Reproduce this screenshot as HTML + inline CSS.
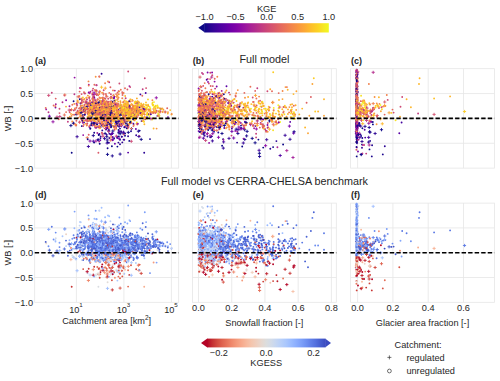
<!DOCTYPE html>
<html><head><meta charset="utf-8"><style>
html,body{margin:0;padding:0;background:#fff;width:500px;height:381px;overflow:hidden}
svg{display:block}
text{font-family:"Liberation Sans",sans-serif;fill:#262626}
.t{font-size:9.2px}
.ts{font-size:6.2px}
.b{font-size:9px;font-weight:bold}
.T{font-size:10.8px}
.g{stroke:#e6e6e6;stroke-width:0.8}
.f{fill:none;stroke:#e6e6e6;stroke-width:0.8}
.d{stroke:#000;stroke-width:1.6;stroke-dasharray:4.4 2.13}
</style></head><body>
<svg width="500" height="381" viewBox="0 0 500 381"><defs><linearGradient id="gp" x1="0" x2="1" y1="0" y2="0"><stop offset="0.000" stop-color="#0d0887"/><stop offset="0.042" stop-color="#260591"/><stop offset="0.083" stop-color="#3a049a"/><stop offset="0.125" stop-color="#4c02a1"/><stop offset="0.167" stop-color="#5c01a6"/><stop offset="0.208" stop-color="#6e00a8"/><stop offset="0.250" stop-color="#7e03a8"/><stop offset="0.292" stop-color="#8d0ba5"/><stop offset="0.333" stop-color="#9c179e"/><stop offset="0.375" stop-color="#aa2395"/><stop offset="0.417" stop-color="#b52f8c"/><stop offset="0.458" stop-color="#c13b82"/><stop offset="0.500" stop-color="#cc4778"/><stop offset="0.542" stop-color="#d5536f"/><stop offset="0.583" stop-color="#de5f65"/><stop offset="0.625" stop-color="#e66c5c"/><stop offset="0.667" stop-color="#ed7953"/><stop offset="0.708" stop-color="#f3874a"/><stop offset="0.750" stop-color="#f89540"/><stop offset="0.792" stop-color="#fca338"/><stop offset="0.833" stop-color="#fdb42f"/><stop offset="0.875" stop-color="#fdc527"/><stop offset="0.917" stop-color="#fbd524"/><stop offset="0.958" stop-color="#f6e826"/><stop offset="1.000" stop-color="#f0f921"/></linearGradient><linearGradient id="gc" x1="0" x2="1" y1="0" y2="0"><stop offset="0.000" stop-color="#b40426"/><stop offset="0.042" stop-color="#c32e31"/><stop offset="0.083" stop-color="#d1493f"/><stop offset="0.125" stop-color="#de614d"/><stop offset="0.167" stop-color="#e7745b"/><stop offset="0.208" stop-color="#ef886b"/><stop offset="0.250" stop-color="#f49a7b"/><stop offset="0.292" stop-color="#f7a98b"/><stop offset="0.333" stop-color="#f7b89c"/><stop offset="0.375" stop-color="#f4c5ad"/><stop offset="0.417" stop-color="#efcebd"/><stop offset="0.458" stop-color="#e7d7ce"/><stop offset="0.500" stop-color="#dcdddd"/><stop offset="0.542" stop-color="#d2dbe8"/><stop offset="0.583" stop-color="#c5d6f2"/><stop offset="0.625" stop-color="#b7cff9"/><stop offset="0.667" stop-color="#aac7fd"/><stop offset="0.708" stop-color="#9bbcff"/><stop offset="0.750" stop-color="#8caffe"/><stop offset="0.792" stop-color="#7ea1fa"/><stop offset="0.833" stop-color="#6f92f3"/><stop offset="0.875" stop-color="#6180e9"/><stop offset="0.917" stop-color="#5470de"/><stop offset="0.958" stop-color="#465ecf"/><stop offset="1.000" stop-color="#3b4cc0"/></linearGradient></defs>
<line x1="34.7" y1="93.55" x2="178.7" y2="93.55" class="g"/>
<line x1="34.7" y1="118.40" x2="178.7" y2="118.40" class="g"/>
<line x1="34.7" y1="143.25" x2="178.7" y2="143.25" class="g"/>
<line x1="76.40" y1="68.7" x2="76.40" y2="168.1" class="g"/>
<line x1="123.90" y1="68.7" x2="123.90" y2="168.1" class="g"/>
<line x1="171.40" y1="68.7" x2="171.40" y2="168.1" class="g"/>
<rect x="34.7" y="68.7" width="144.00" height="99.40" class="f"/>
<line x1="192.4" y1="93.55" x2="336.3" y2="93.55" class="g"/>
<line x1="192.4" y1="118.40" x2="336.3" y2="118.40" class="g"/>
<line x1="192.4" y1="143.25" x2="336.3" y2="143.25" class="g"/>
<line x1="198.50" y1="68.7" x2="198.50" y2="168.1" class="g"/>
<line x1="231.72" y1="68.7" x2="231.72" y2="168.1" class="g"/>
<line x1="264.95" y1="68.7" x2="264.95" y2="168.1" class="g"/>
<line x1="298.17" y1="68.7" x2="298.17" y2="168.1" class="g"/>
<line x1="331.40" y1="68.7" x2="331.40" y2="168.1" class="g"/>
<rect x="192.4" y="68.7" width="143.90" height="99.40" class="f"/>
<line x1="350.6" y1="93.55" x2="494.4" y2="93.55" class="g"/>
<line x1="350.6" y1="118.40" x2="494.4" y2="118.40" class="g"/>
<line x1="350.6" y1="143.25" x2="494.4" y2="143.25" class="g"/>
<line x1="357.60" y1="68.7" x2="357.60" y2="168.1" class="g"/>
<line x1="392.90" y1="68.7" x2="392.90" y2="168.1" class="g"/>
<line x1="428.20" y1="68.7" x2="428.20" y2="168.1" class="g"/>
<line x1="463.50" y1="68.7" x2="463.50" y2="168.1" class="g"/>
<rect x="350.6" y="68.7" width="143.80" height="99.40" class="f"/>
<line x1="34.7" y1="227.90" x2="178.7" y2="227.90" class="g"/>
<line x1="34.7" y1="252.70" x2="178.7" y2="252.70" class="g"/>
<line x1="34.7" y1="277.50" x2="178.7" y2="277.50" class="g"/>
<line x1="76.40" y1="203.1" x2="76.40" y2="302.3" class="g"/>
<line x1="123.90" y1="203.1" x2="123.90" y2="302.3" class="g"/>
<line x1="171.40" y1="203.1" x2="171.40" y2="302.3" class="g"/>
<rect x="34.7" y="203.1" width="144.00" height="99.20" class="f"/>
<line x1="192.4" y1="227.90" x2="336.3" y2="227.90" class="g"/>
<line x1="192.4" y1="252.70" x2="336.3" y2="252.70" class="g"/>
<line x1="192.4" y1="277.50" x2="336.3" y2="277.50" class="g"/>
<line x1="198.50" y1="203.1" x2="198.50" y2="302.3" class="g"/>
<line x1="231.72" y1="203.1" x2="231.72" y2="302.3" class="g"/>
<line x1="264.95" y1="203.1" x2="264.95" y2="302.3" class="g"/>
<line x1="298.17" y1="203.1" x2="298.17" y2="302.3" class="g"/>
<line x1="331.40" y1="203.1" x2="331.40" y2="302.3" class="g"/>
<rect x="192.4" y="203.1" width="143.90" height="99.20" class="f"/>
<line x1="350.6" y1="227.90" x2="494.4" y2="227.90" class="g"/>
<line x1="350.6" y1="252.70" x2="494.4" y2="252.70" class="g"/>
<line x1="350.6" y1="277.50" x2="494.4" y2="277.50" class="g"/>
<line x1="357.60" y1="203.1" x2="357.60" y2="302.3" class="g"/>
<line x1="392.90" y1="203.1" x2="392.90" y2="302.3" class="g"/>
<line x1="428.20" y1="203.1" x2="428.20" y2="302.3" class="g"/>
<line x1="463.50" y1="203.1" x2="463.50" y2="302.3" class="g"/>
<rect x="350.6" y="203.1" width="143.80" height="99.20" class="f"/>
<path d="M109.4 120.0h3.2M111.0 118.4v3.2M198.2 122.2h3.2M199.8 120.6v3.2M202.1 117.4h3.2M203.7 115.8v3.2M271.7 124.3h3.2M273.3 122.7v3.2M198.4 77.1h3.2M200.0 75.5v3.2" stroke="#de6164" stroke-width="0.9" fill="none"/>
<path d="M154.7 231.8h3.2M156.3 230.2v3.2M89.3 254.5h3.2M90.9 252.9v3.2M200.0 244.4h3.2M201.6 242.8v3.2M355.1 241.0h3.2M356.7 239.4v3.2" stroke="#7396f5" stroke-width="0.9" fill="none"/>
<path d="M94.9 242.3h0M106.8 249.7h0M120.2 238.1h0M116.2 242.1h0M131.3 262.4h0M110.4 253.9h0M87.7 273.3h0M210.1 239.3h0M210.3 245.9h0M204.3 237.7h0M201.3 236.7h0M209.9 239.0h0M198.9 253.2h0M220.0 235.5h0M213.7 231.8h0M229.0 250.8h0M238.5 242.8h0M209.0 246.8h0M225.7 256.6h0M226.9 257.2h0M223.2 233.1h0M202.0 244.5h0M199.0 232.5h0M213.4 249.6h0M223.9 257.4h0M222.8 247.2h0M219.7 244.0h0M216.3 229.8h0M224.7 232.9h0M206.6 226.1h0M198.5 247.0h0M212.7 238.4h0M210.2 260.2h0M210.0 254.0h0M356.8 255.1h0M356.6 250.3h0M356.8 254.8h0M356.8 243.0h0M356.5 235.7h0M356.9 255.3h0M357.1 246.4h0M356.8 238.5h0M356.6 216.0h0M356.7 233.4h0M356.6 239.4h0M356.8 224.5h0M357.6 238.3h0M356.8 229.8h0M357.1 209.0h0" stroke="#c4d5f3" stroke-width="1.9" stroke-linecap="round" fill="none"/>
<path d="M94.9 108.3h0M107.9 111.5h0M92.3 93.5h0M80.1 113.1h0M88.7 108.8h0M105.1 125.2h0M99.5 97.5h0M95.9 105.0h0M90.4 104.1h0M95.1 113.9h0M90.2 100.7h0M89.2 120.6h0M105.0 110.5h0M94.6 114.9h0M83.9 111.9h0M96.5 110.4h0M71.5 115.9h0M89.5 113.1h0M136.1 115.6h0M100.8 118.4h0M141.9 112.2h0M130.2 108.7h0M134.9 108.0h0M114.6 100.6h0M138.3 114.6h0M144.7 114.6h0M111.1 97.7h0M88.5 81.4h0M83.3 120.7h0M120.3 123.9h0M208.6 121.6h0M201.3 102.7h0M210.1 93.1h0M203.7 102.1h0M214.9 93.6h0M211.5 112.1h0M204.2 99.2h0M200.6 106.6h0M214.3 111.3h0M203.9 107.8h0M215.7 116.8h0M228.3 106.1h0M202.9 96.4h0M204.9 114.4h0M200.7 116.4h0M294.2 113.7h0M246.9 111.9h0M272.8 113.3h0M214.5 130.2h0M200.9 124.0h0M201.5 128.4h0M213.7 125.2h0M216.2 123.3h0M259.1 96.6h0M356.8 129.6h0M356.6 112.6h0M356.5 121.3h0M356.4 114.5h0M356.8 120.1h0M356.7 99.2h0M356.4 101.1h0M358.0 99.9h0M372.5 109.5h0" stroke="#f48948" stroke-width="1.9" stroke-linecap="round" fill="none"/>
<path d="M96.5 85.2h0M114.4 96.6h0M216.3 95.8h0M207.4 118.0h0M267.5 125.0h0M232.3 126.8h0M240.8 122.9h0M356.7 129.3h0M356.8 138.2h0M356.6 134.2h0" stroke="#8004a8" stroke-width="1.9" stroke-linecap="round" fill="none"/>
<path d="M208.1 259.4h3.2M209.7 257.8v3.2" stroke="#f59c7d" stroke-width="0.9" fill="none"/>
<path d="M80.4 107.6h0M79.6 122.3h0M67.9 121.8h0M265.8 130.6h0M207.7 78.9h0M257.3 88.2h0M356.6 139.2h0M356.6 116.3h0M356.8 136.3h0M356.6 102.8h0M357.2 116.1h0M357.5 105.0h0M379.0 108.1h0M366.2 153.6h0" stroke="#c23c81" stroke-width="1.9" stroke-linecap="round" fill="none"/>
<path d="M120.1 255.0h3.2M121.7 253.4v3.2M222.0 275.9h3.2M223.6 274.3v3.2" stroke="#ee8669" stroke-width="0.9" fill="none"/>
<path d="M113.0 103.5h0M101.3 123.4h0M88.4 112.5h0M88.2 106.0h0M86.6 102.1h0M109.2 82.2h0M120.2 125.5h0M202.9 116.3h0M266.6 131.0h0M202.0 72.9h0M356.6 111.8h0M356.7 120.6h0M357.0 118.3h0M356.4 126.2h0M357.0 109.3h0M356.5 122.1h0M372.8 110.3h0" stroke="#bb3488" stroke-width="1.9" stroke-linecap="round" fill="none"/>
<path d="M216.1 256.2h0M200.6 248.4h0M201.5 263.0h0M357.3 264.5h0M356.5 257.6h0M356.8 263.6h0M356.6 267.2h0M356.7 263.3h0M357.2 272.3h0M356.8 255.8h0M356.7 264.8h0M358.2 248.1h0" stroke="#f3c7b1" stroke-width="1.9" stroke-linecap="round" fill="none"/>
<path d="M103.8 234.8h0M81.1 237.0h0M98.8 237.8h0M109.0 247.2h0M101.0 249.5h0M93.0 231.1h0M119.1 250.5h0M96.9 247.4h0M85.7 235.1h0M95.8 237.2h0M83.9 233.8h0M85.1 243.6h0M88.2 240.0h0M107.2 242.4h0M102.5 247.7h0M104.1 249.0h0M89.7 246.6h0M80.8 242.2h0M80.4 241.6h0M105.1 241.7h0M101.0 257.8h0M96.0 246.3h0M98.1 248.4h0M92.7 252.4h0M126.7 241.5h0M83.3 241.4h0M90.4 225.7h0M137.4 251.3h0M150.8 248.2h0M127.4 245.8h0M145.2 251.3h0M103.5 241.0h0M150.1 245.0h0M145.0 245.6h0M135.3 235.5h0M121.2 242.0h0M141.8 250.4h0M125.9 244.2h0M111.9 248.4h0M136.1 242.9h0M108.1 238.1h0M143.5 238.5h0M134.8 249.3h0M154.8 240.9h0M115.8 242.6h0M132.7 248.5h0M141.1 237.5h0M155.8 239.7h0M135.6 243.7h0M153.3 252.1h0M139.2 245.6h0M99.4 228.0h0M94.3 231.5h0M76.7 247.4h0M201.5 239.7h0M211.4 236.5h0M211.3 255.4h0M203.0 244.5h0M220.2 244.9h0M240.1 240.0h0M227.5 254.9h0M223.5 240.8h0M233.8 241.8h0M289.1 246.4h0M270.3 249.1h0M282.3 243.2h0M233.0 237.2h0M220.6 247.8h0M228.2 252.1h0M270.2 251.2h0M219.6 244.4h0M261.6 244.7h0M264.1 242.8h0M272.6 249.2h0M223.1 247.1h0M236.7 240.9h0M225.7 247.4h0M237.5 246.3h0M262.1 245.6h0M287.9 248.0h0M231.0 250.2h0M224.6 237.4h0M313.8 212.2h0M308.0 267.2h0M279.0 233.9h0M251.5 257.7h0M277.3 257.6h0M212.8 220.1h0M363.1 242.3h0M359.9 240.0h0M358.0 237.9h0" stroke="#4a63d3" stroke-width="1.9" stroke-linecap="round" fill="none"/>
<path d="M90.6 110.3h0M100.6 111.9h0M109.8 110.8h0M116.1 103.2h0M96.7 119.2h0M110.2 104.1h0M101.0 108.4h0M96.7 103.6h0M74.9 108.5h0M93.0 100.7h0M101.9 108.4h0M133.3 109.2h0M136.3 111.3h0M127.7 123.9h0M129.7 114.5h0M136.8 112.5h0M122.6 117.7h0M127.6 111.1h0M158.7 114.2h0M156.7 112.0h0M131.1 111.3h0M128.9 118.4h0M91.9 119.0h0M202.4 110.5h0M219.4 110.8h0M210.0 109.7h0M209.9 116.1h0M206.9 120.5h0M222.5 110.8h0M212.4 109.3h0M198.5 99.0h0M215.8 114.1h0M237.6 104.7h0M220.2 110.9h0M223.2 99.1h0M205.5 97.8h0M215.7 124.0h0M201.8 98.7h0M202.4 105.8h0M204.3 95.3h0M282.3 115.7h0M200.4 131.7h0M268.1 127.2h0M232.8 127.1h0M217.3 76.7h0M282.6 91.0h0M356.5 115.9h0M356.6 103.6h0M356.7 131.7h0M357.3 112.0h0M356.7 83.1h0M385.3 106.0h0M364.8 118.2h0" stroke="#f48948" stroke-width="1.9" stroke-linecap="round" fill="none"/>
<path d="M259.2 118.9h3.2M260.8 117.3v3.2M230.3 131.4h3.2M231.9 129.8v3.2" stroke="#6c00a8" stroke-width="0.9" fill="none"/>
<path d="M119.8 112.7h3.2M121.4 111.1v3.2M126.2 104.7h3.2M127.8 103.1v3.2M105.2 96.6h3.2M106.8 95.0v3.2M109.1 140.1h3.2M110.7 138.5v3.2M62.8 115.0h3.2M64.4 113.4v3.2M235.7 120.4h3.2M237.3 118.8v3.2M355.1 107.0h3.2M356.7 105.4v3.2" stroke="#e97158" stroke-width="0.9" fill="none"/>
<path d="M204.3 102.9h3.2M205.9 101.3v3.2M361.2 101.5h3.2M362.8 99.9v3.2" stroke="#f1814d" stroke-width="0.9" fill="none"/>
<path d="M80.8 239.9h0M84.5 233.0h0M89.8 235.9h0M97.2 251.5h0M101.2 245.9h0M95.8 238.2h0M88.7 242.8h0M92.7 231.7h0M92.0 242.7h0M97.3 251.9h0M101.8 245.0h0M86.0 253.1h0M84.8 248.8h0M118.0 238.7h0M106.7 238.3h0M95.1 247.9h0M94.3 244.4h0M113.2 243.3h0M103.7 246.2h0M92.0 250.6h0M89.7 259.5h0M99.8 253.0h0M92.2 249.7h0M113.1 245.3h0M100.1 248.8h0M89.8 249.7h0M113.8 241.4h0M109.8 249.0h0M101.3 242.2h0M67.8 251.6h0M91.5 252.0h0M118.5 240.3h0M94.0 244.2h0M102.6 242.5h0M76.4 241.7h0M98.5 245.8h0M91.7 250.6h0M91.4 250.8h0M108.8 242.0h0M130.1 251.8h0M115.6 240.1h0M127.0 245.0h0M143.2 243.8h0M129.0 254.5h0M133.4 248.2h0M112.6 237.8h0M112.0 243.2h0M99.6 234.5h0M123.5 241.7h0M136.6 243.0h0M137.3 247.5h0M142.9 240.9h0M120.4 244.2h0M129.6 239.7h0M138.7 237.3h0M145.7 227.0h0M118.7 251.0h0M104.7 242.2h0M127.2 239.9h0M105.7 242.6h0M161.5 243.1h0M134.8 236.2h0M120.3 239.3h0M123.0 247.9h0M125.7 250.1h0M110.5 246.5h0M138.3 248.6h0M121.5 238.9h0M159.1 244.9h0M131.6 244.7h0M150.5 246.5h0M133.2 240.1h0M136.5 242.8h0M141.7 247.6h0M128.0 245.6h0M134.8 241.4h0M127.0 251.9h0M137.9 257.7h0M133.4 260.1h0M67.9 255.8h0M73.5 257.3h0M202.5 247.8h0M204.8 252.0h0M201.6 233.0h0M199.0 254.0h0M228.8 248.0h0M242.4 245.1h0M242.0 236.1h0M219.6 238.9h0M253.4 246.9h0M253.0 235.9h0M229.6 239.5h0M273.1 250.3h0M236.5 235.0h0M219.9 241.6h0M233.6 240.6h0M246.0 243.9h0M253.6 251.3h0M244.8 259.6h0M235.8 250.4h0M276.0 247.6h0M274.9 250.6h0M221.8 236.2h0M289.4 241.1h0M222.5 244.8h0M213.4 254.6h0M234.7 258.1h0M356.8 234.5h0M356.8 252.7h0M356.6 211.7h0M356.9 217.3h0M356.5 224.9h0M364.5 252.0h0M368.9 244.8h0M380.5 239.1h0M383.0 240.6h0M358.7 237.5h0" stroke="#516ddb" stroke-width="1.9" stroke-linecap="round" fill="none"/>
<path d="M112.6 111.1h0M101.8 110.9h0M107.9 110.8h0M111.0 114.9h0M84.8 111.2h0M113.1 107.0h0M66.0 106.6h0M93.2 102.3h0M103.6 104.0h0M104.0 104.9h0M99.0 119.9h0M69.8 116.6h0M117.7 111.5h0M108.4 106.2h0M141.6 106.1h0M96.4 110.3h0M129.4 105.8h0M109.1 116.2h0M115.9 121.7h0M141.3 109.3h0M108.1 104.1h0M128.4 107.1h0M127.4 118.7h0M160.3 108.7h0M133.9 124.9h0M85.9 123.7h0M199.1 115.9h0M201.5 106.2h0M202.0 107.0h0M202.0 112.3h0M211.3 100.7h0M222.9 116.0h0M203.0 111.7h0M200.9 99.4h0M216.6 107.8h0M198.9 97.4h0M201.1 118.7h0M257.7 116.0h0M229.0 106.4h0M245.4 115.3h0M230.9 104.1h0M258.4 109.9h0M227.3 124.8h0M294.9 115.9h0M219.7 109.1h0M218.2 127.3h0M263.4 119.8h0M229.2 126.4h0M227.5 124.8h0M282.5 99.1h0M356.4 114.6h0M356.9 105.4h0M356.7 119.8h0M356.5 85.8h0M356.7 95.6h0M380.9 111.2h0M357.0 116.3h0" stroke="#fca537" stroke-width="1.9" stroke-linecap="round" fill="none"/>
<path d="M243.1 110.4h3.2M244.7 108.8v3.2M359.5 110.1h3.2M361.1 108.5v3.2" stroke="#f0f921" stroke-width="0.9" fill="none"/>
<path d="M107.9 121.4h0M107.8 118.9h0M105.1 116.3h0M91.7 107.5h0M100.2 109.4h0M132.2 114.3h0M72.9 114.6h0M97.9 103.6h0M99.8 107.1h0M96.1 102.9h0M89.9 112.9h0M100.3 111.4h0M80.1 116.7h0M108.4 103.1h0M114.5 104.0h0M96.2 107.2h0M91.7 116.6h0M109.6 117.0h0M123.5 114.1h0M148.1 114.5h0M98.4 102.6h0M102.6 100.7h0M110.4 123.5h0M99.6 100.5h0M152.4 100.2h0M123.7 101.8h0M104.7 108.2h0M120.2 120.6h0M133.1 107.4h0M128.6 125.8h0M156.6 128.6h0M134.6 120.4h0M108.2 118.1h0M207.0 102.2h0M211.1 105.7h0M218.2 115.6h0M232.6 111.3h0M199.6 89.4h0M236.6 114.1h0M208.9 100.9h0M213.4 115.6h0M199.4 100.6h0M222.3 101.6h0M213.2 107.1h0M212.4 101.5h0M223.3 114.5h0M227.1 113.4h0M261.6 109.8h0M225.0 119.3h0M200.9 132.8h0M267.7 131.7h0M245.0 97.7h0M356.8 110.4h0M356.6 107.1h0M356.4 111.5h0M356.8 107.2h0M364.2 100.5h0M374.6 97.0h0" stroke="#f79342" stroke-width="1.9" stroke-linecap="round" fill="none"/>
<path d="M124.3 239.1h3.2M125.9 237.5v3.2M124.4 244.0h3.2M126.0 242.4v3.2M111.4 249.6h3.2M113.0 248.0v3.2M221.7 243.7h3.2M223.3 242.1v3.2M256.3 250.1h3.2M257.9 248.5v3.2M223.5 247.4h3.2M225.1 245.8v3.2M365.6 245.2h3.2M367.2 243.6v3.2M363.8 247.8h3.2M365.4 246.2v3.2M369.3 245.7h3.2M370.9 244.1v3.2M375.6 249.5h3.2M377.2 247.9v3.2" stroke="#4a63d3" stroke-width="0.9" fill="none"/>
<path d="M87.0 99.5h0M96.8 110.1h0M48.5 112.2h0M215.1 121.4h0M223.7 106.4h0M204.6 95.1h0M234.3 123.6h0M201.3 86.9h0M356.5 112.4h0M356.6 132.7h0M362.4 153.5h0" stroke="#bb3488" stroke-width="1.9" stroke-linecap="round" fill="none"/>
<path d="M98.8 107.5h0M91.8 115.4h0M119.7 111.4h0M100.9 113.3h0M116.5 107.8h0M104.7 107.4h0M92.2 115.7h0M96.2 106.3h0M106.9 113.5h0M96.5 105.2h0M100.1 107.5h0M108.1 111.6h0M96.3 111.7h0M94.1 111.8h0M130.2 99.4h0M132.6 108.3h0M118.6 116.0h0M118.6 109.4h0M128.9 124.2h0M129.2 114.3h0M125.2 96.0h0M137.4 112.0h0M107.4 116.1h0M118.2 101.6h0M140.0 110.7h0M137.0 107.4h0M111.9 114.4h0M138.4 110.2h0M116.8 114.3h0M137.9 108.6h0M123.0 113.9h0M125.7 116.1h0M130.7 99.5h0M144.0 121.7h0M167.8 113.5h0M131.9 118.6h0M134.9 109.5h0M165.4 112.3h0M140.4 111.2h0M148.6 114.3h0M152.0 112.6h0M204.7 106.4h0M234.8 105.5h0M202.1 114.9h0M205.0 101.5h0M205.0 106.0h0M222.6 118.2h0M250.9 111.8h0M223.1 116.0h0M244.6 105.5h0M228.9 108.1h0M219.6 113.7h0M228.8 108.2h0M245.3 107.6h0M221.8 102.2h0M291.3 111.6h0M293.5 94.1h0M318.1 111.5h0M356.5 101.1h0M373.4 115.2h0M378.9 97.3h0M410.9 107.2h0M406.6 99.3h0" stroke="#feb82c" stroke-width="1.9" stroke-linecap="round" fill="none"/>
<path d="M119.9 125.7h3.2M121.5 124.1v3.2" stroke="#8004a8" stroke-width="0.9" fill="none"/>
<path d="M98.1 260.3h0M121.0 265.3h0M106.7 268.8h0M213.8 228.4h0M222.5 244.8h0M207.4 241.3h0M224.5 243.1h0M199.5 255.5h0M207.3 250.1h0M200.4 265.7h0M211.9 252.1h0M241.1 262.0h0M356.7 261.1h0M357.2 258.2h0M356.8 272.2h0M356.5 266.2h0M356.5 260.4h0M356.6 268.2h0M357.7 245.8h0M372.9 258.4h0" stroke="#de614d" stroke-width="1.9" stroke-linecap="round" fill="none"/>
<path d="M93.4 240.6h0M90.4 238.1h0M85.4 247.0h0M87.4 241.1h0M131.5 242.6h0M120.3 242.3h0M142.3 243.7h0M81.8 260.1h0M72.2 255.4h0M200.9 237.5h0M201.3 250.1h0M216.4 240.3h0M214.8 242.9h0M200.3 244.2h0M213.7 248.9h0M213.7 252.7h0M220.4 262.8h0M219.4 254.3h0M199.1 255.4h0M202.9 264.7h0M207.5 258.3h0M278.8 256.3h0M243.3 259.5h0M203.0 208.0h0M356.6 238.6h0M357.3 224.7h0M356.5 249.9h0M357.2 253.5h0M357.1 253.5h0M356.7 248.7h0M356.7 265.7h0M356.5 265.6h0M357.1 232.8h0M356.7 253.8h0M356.5 230.3h0M356.6 222.5h0M356.8 228.9h0M356.7 218.9h0M356.9 226.9h0" stroke="#d3dbe7" stroke-width="1.9" stroke-linecap="round" fill="none"/>
<path d="M107.5 248.0h0M109.6 241.5h0M129.8 235.2h0M156.0 245.5h0M130.0 256.5h0M121.6 258.1h0M222.3 247.1h0M209.9 250.1h0M209.0 246.9h0M208.0 239.9h0M200.9 233.4h0M201.0 231.5h0M198.6 251.0h0M203.6 254.4h0M202.0 206.9h0M356.5 254.8h0M356.6 241.1h0M356.6 244.4h0M356.7 272.5h0M356.4 259.3h0M356.7 223.4h0M356.5 236.3h0M357.5 253.1h0M356.8 252.0h0M356.6 223.0h0M356.6 204.9h0M356.6 216.6h0M356.5 209.8h0M356.4 223.0h0M356.4 232.4h0" stroke="#d3dbe7" stroke-width="1.9" stroke-linecap="round" fill="none"/>
<path d="M262.4 262.6h3.2M264.0 261.0v3.2M244.7 257.3h3.2M246.3 255.7v3.2M221.7 282.1h3.2M223.3 280.5v3.2M287.8 260.1h3.2M289.4 258.5v3.2M367.0 276.1h3.2M368.6 274.5v3.2" stroke="#d75445" stroke-width="0.9" fill="none"/>
<path d="M77.8 244.7h0M101.8 244.9h0M81.7 246.0h0M88.9 246.4h0M92.6 240.6h0M105.0 240.7h0M88.4 246.5h0M140.4 247.3h0M113.1 241.0h0M120.8 247.7h0M119.7 245.4h0M96.1 236.9h0M104.0 249.8h0M88.4 251.0h0M99.0 253.9h0M96.2 242.7h0M94.8 252.7h0M123.2 250.9h0M135.8 239.9h0M148.0 233.4h0M130.1 240.8h0M145.7 238.9h0M116.5 242.4h0M123.1 251.3h0M159.0 249.8h0M109.8 241.8h0M138.7 248.3h0M132.7 248.8h0M123.6 227.0h0M112.9 241.7h0M108.0 242.1h0M148.9 243.6h0M137.6 238.8h0M135.3 250.1h0M89.3 260.4h0M244.5 244.0h0M262.0 255.3h0M237.3 247.6h0M259.1 237.5h0M226.2 248.5h0M243.9 238.5h0M276.1 254.9h0M245.8 241.7h0M228.3 245.4h0M228.5 253.4h0M290.9 244.3h0M258.7 235.1h0M363.2 244.7h0M377.3 239.5h0M375.5 241.5h0M374.1 243.2h0M366.8 245.0h0M391.4 246.9h0" stroke="#3b4cc0" stroke-width="1.9" stroke-linecap="round" fill="none"/>
<path d="M131.1 121.6h0M89.5 127.1h0M94.6 119.7h0M209.8 119.6h0M246.1 119.1h0M265.0 129.1h0M356.9 138.2h0M356.7 84.5h0M358.0 151.5h0" stroke="#7701a8" stroke-width="1.9" stroke-linecap="round" fill="none"/>
<path d="M109.1 97.8h3.2M110.7 96.2v3.2M238.1 105.0h3.2M239.7 103.4v3.2M364.4 112.5h3.2M366.0 110.9v3.2" stroke="#d45270" stroke-width="0.9" fill="none"/>
<path d="M94.9 105.3h0M96.0 117.4h0M98.2 111.9h0M107.2 102.1h0M105.7 105.8h0M98.2 118.6h0M95.9 111.8h0M89.0 110.5h0M82.4 112.3h0M85.5 102.9h0M87.9 104.9h0M91.2 104.4h0M124.9 120.7h0M112.3 98.1h0M99.2 76.4h0M210.0 100.1h0M212.1 114.0h0M204.4 108.6h0M201.7 119.2h0M212.2 107.0h0M210.4 120.1h0M262.8 127.6h0M201.7 133.9h0M356.9 116.1h0M356.5 89.0h0M357.7 86.6h0M356.5 78.3h0M356.4 77.5h0M400.5 106.8h0M381.5 107.2h0M387.7 99.9h0" stroke="#ce4b75" stroke-width="1.9" stroke-linecap="round" fill="none"/>
<path d="M129.4 110.1h3.2M131.0 108.5v3.2M201.0 109.4h3.2M202.6 107.8v3.2M209.1 124.5h3.2M210.7 122.9v3.2M219.7 95.9h3.2M221.3 94.3v3.2M368.9 110.2h3.2M370.5 108.6v3.2M371.6 103.6h3.2M373.2 102.0v3.2" stroke="#f1814d" stroke-width="0.9" fill="none"/>
<path d="M114.4 114.1h3.2M116.0 112.5v3.2M111.4 106.7h3.2M113.0 105.1v3.2M113.4 115.4h3.2M115.0 113.8v3.2" stroke="#fad824" stroke-width="0.9" fill="none"/>
<path d="M105.9 253.1h3.2M107.5 251.5v3.2M120.1 243.9h3.2M121.7 242.3v3.2M78.0 256.2h3.2M79.6 254.6v3.2M63.2 228.9h3.2M64.8 227.3v3.2M197.7 258.4h3.2M199.3 256.8v3.2M232.0 246.8h3.2M233.6 245.2v3.2M359.5 244.1h3.2M361.1 242.5v3.2M361.7 236.9h3.2M363.3 235.3v3.2" stroke="#6282ea" stroke-width="0.9" fill="none"/>
<path d="M90.3 258.4h3.2M91.9 256.8v3.2M105.2 270.7h3.2M106.8 269.1v3.2" stroke="#e97a5f" stroke-width="0.9" fill="none"/>
<path d="M96.8 110.6h0M113.9 113.8h0M88.9 112.4h0M92.6 106.6h0M80.8 113.4h0M83.5 108.7h0M105.6 106.0h0M82.1 102.8h0M115.4 114.0h0M98.5 111.8h0M108.9 111.8h0M142.1 115.5h0M137.3 113.5h0M120.8 111.4h0M111.0 106.2h0M123.2 106.0h0M150.4 110.4h0M135.0 108.8h0M130.8 117.1h0M99.4 94.0h0M110.9 97.0h0M95.7 76.7h0M118.8 94.2h0M113.7 127.2h0M221.8 95.7h0M203.9 110.4h0M199.8 111.4h0M210.1 110.5h0M205.7 98.8h0M212.9 110.6h0M200.1 117.7h0M213.6 100.7h0M200.3 110.2h0M208.9 112.6h0M198.8 102.4h0M205.5 123.4h0M226.7 127.4h0M242.0 102.1h0M262.0 121.3h0M247.6 105.4h0M255.3 110.4h0M295.2 114.4h0M252.2 114.9h0M240.9 113.6h0M225.7 113.4h0M230.6 117.4h0M243.2 115.5h0M198.6 122.7h0M218.1 122.0h0M273.7 125.6h0M238.2 121.6h0M237.8 90.1h0M356.6 104.6h0M357.0 111.0h0M356.5 113.1h0M356.7 110.0h0M356.6 113.9h0M357.1 99.1h0M357.1 116.9h0M357.6 104.3h0M356.5 77.1h0M360.4 116.9h0M358.3 111.8h0M358.0 103.9h0" stroke="#f79342" stroke-width="1.9" stroke-linecap="round" fill="none"/>
<path d="M143.2 247.7h0M106.5 258.7h0M108.9 263.9h0M206.1 250.3h0M357.2 256.3h0M357.2 272.4h0M356.4 261.4h0M356.7 267.9h0" stroke="#e6d7cf" stroke-width="1.9" stroke-linecap="round" fill="none"/>
<path d="M199.1 220.6h3.2M200.7 219.0v3.2M271.0 236.6h3.2M272.6 235.0v3.2M432.5 248.4h3.2M434.1 246.8v3.2" stroke="#f7af91" stroke-width="0.9" fill="none"/>
<path d="M87.3 103.3h3.2M88.9 101.7v3.2M100.7 111.7h3.2M102.3 110.1v3.2M216.5 101.6h3.2M218.1 100.0v3.2M214.2 123.3h3.2M215.8 121.7v3.2M366.2 116.7h3.2M367.8 115.1v3.2" stroke="#f79342" stroke-width="0.9" fill="none"/>
<path d="M101.9 94.0h3.2M103.5 92.4v3.2M76.5 96.8h3.2M78.1 95.2v3.2M110.6 119.3h3.2M112.2 117.7v3.2M197.5 117.8h3.2M199.1 116.2v3.2M211.3 99.7h3.2M212.9 98.1v3.2M217.3 114.7h3.2M218.9 113.1v3.2M213.0 124.3h3.2M214.6 122.7v3.2M355.3 120.2h3.2M356.9 118.6v3.2" stroke="#e4695e" stroke-width="0.9" fill="none"/>
<path d="M141.1 106.7h3.2M142.7 105.1v3.2M355.6 78.0h3.2M357.2 76.4v3.2" stroke="#5801a4" stroke-width="0.9" fill="none"/>
<path d="M102.6 245.9h3.2M104.2 244.3v3.2M100.1 244.8h3.2M101.7 243.2v3.2M121.1 255.4h3.2M122.7 253.8v3.2M200.1 253.9h3.2M201.7 252.3v3.2M203.2 240.9h3.2M204.8 239.3v3.2M255.7 254.9h3.2M257.3 253.3v3.2M253.9 229.4h3.2M255.5 227.8v3.2M355.0 248.4h3.2M356.6 246.8v3.2" stroke="#6b8df0" stroke-width="0.9" fill="none"/>
<path d="M91.7 141.2h3.2M93.3 139.6v3.2M278.6 155.5h3.2M280.2 153.9v3.2" stroke="#4c02a1" stroke-width="0.9" fill="none"/>
<path d="M114.9 107.4h0M112.5 98.6h0M130.5 107.7h0M157.6 107.2h0M123.3 117.2h0M122.8 112.6h0M134.8 116.3h0M122.3 108.7h0M135.6 109.7h0M202.6 103.8h0M225.2 110.2h0M206.8 109.1h0M220.0 110.8h0M233.8 107.8h0M262.6 113.1h0M243.4 104.1h0M211.9 118.1h0M365.8 109.3h0M359.6 115.0h0M359.7 107.4h0" stroke="#f7e225" stroke-width="1.9" stroke-linecap="round" fill="none"/>
<path d="M98.2 101.9h3.2M99.8 100.3v3.2M122.0 133.1h3.2M123.6 131.5v3.2M105.2 136.7h3.2M106.8 135.1v3.2M107.1 131.0h3.2M108.7 129.4v3.2M103.5 133.5h3.2M105.1 131.9v3.2M197.7 126.0h3.2M199.3 124.4v3.2M250.6 138.4h3.2M252.2 136.8v3.2M267.9 120.9h3.2M269.5 119.3v3.2M257.8 153.3h3.2M259.4 151.7v3.2M253.5 142.8h3.2M255.1 141.2v3.2M354.9 133.5h3.2M356.5 131.9v3.2" stroke="#0d0887" stroke-width="0.9" fill="none"/>
<path d="M109.1 274.1h3.2M110.7 272.5v3.2" stroke="#d9dce1" stroke-width="0.9" fill="none"/>
<path d="M100.7 270.4h0M99.4 267.9h0M203.3 240.2h0M378.9 231.3h0" stroke="#f29274" stroke-width="1.9" stroke-linecap="round" fill="none"/>
<path d="M110.9 255.1h0M153.6 262.5h0M209.1 276.9h0M356.6 257.5h0M356.4 266.8h0M373.7 241.7h0" stroke="#f59c7d" stroke-width="1.9" stroke-linecap="round" fill="none"/>
<path d="M137.6 243.6h3.2M139.2 242.0v3.2M91.7 275.2h3.2M93.3 273.6v3.2M233.9 256.6h3.2M235.5 255.0v3.2M204.0 274.4h3.2M205.6 272.8v3.2M201.8 272.2h3.2M203.4 270.6v3.2M216.9 271.3h3.2M218.5 269.7v3.2M210.7 264.1h3.2M212.3 262.5v3.2M243.2 273.5h3.2M244.8 271.9v3.2M367.1 271.4h3.2M368.7 269.8v3.2M367.2 257.3h3.2M368.8 255.7v3.2" stroke="#b40426" stroke-width="0.9" fill="none"/>
<path d="M97.1 246.2h0M97.0 252.1h0M148.2 240.0h0M168.0 246.1h0M94.4 218.7h0M105.1 217.2h0M110.9 231.0h0M124.3 273.7h0M55.5 241.6h0M201.8 236.9h0M208.2 240.9h0M218.2 249.6h0M201.3 232.2h0M212.9 244.6h0M206.8 241.3h0M220.2 228.1h0M204.6 229.1h0M202.0 245.3h0M202.2 230.7h0M205.8 250.9h0M282.5 233.1h0M356.8 207.6h0M356.7 211.3h0M371.7 245.5h0M363.6 247.6h0" stroke="#98b9ff" stroke-width="1.9" stroke-linecap="round" fill="none"/>
<path d="M103.7 224.3h0M83.3 254.7h0M199.6 251.0h0M356.8 255.9h0M356.9 258.6h0M356.6 266.7h0M357.1 257.9h0M357.1 255.8h0M372.8 256.0h0" stroke="#f6bfa6" stroke-width="1.9" stroke-linecap="round" fill="none"/>
<path d="M115.4 259.9h0M356.6 258.9h0M357.1 257.9h0" stroke="#f6bfa6" stroke-width="1.9" stroke-linecap="round" fill="none"/>
<path d="M201.8 138.2h3.2M203.4 136.6v3.2" stroke="#5801a4" stroke-width="0.9" fill="none"/>
<path d="M98.4 244.3h3.2M100.0 242.7v3.2M148.5 248.1h3.2M150.1 246.5v3.2M105.2 262.5h3.2M106.8 260.9v3.2M204.3 230.7h3.2M205.9 229.1v3.2M355.2 252.2h3.2M356.8 250.6v3.2" stroke="#7da0f9" stroke-width="0.9" fill="none"/>
<path d="M210.7 220.0h0M216.7 220.5h0" stroke="#f29274" stroke-width="1.9" stroke-linecap="round" fill="none"/>
<path d="M76.5 237.8h0M118.6 250.0h0M130.2 242.7h0M91.2 238.4h0M128.8 243.6h0M199.2 227.9h0M199.4 228.1h0M283.7 245.5h0M212.8 261.6h0M214.0 265.8h0M207.0 268.1h0M256.1 271.4h0M277.4 281.3h0" stroke="#bd1f2d" stroke-width="1.9" stroke-linecap="round" fill="none"/>
<path d="M205.9 267.4h3.2M207.5 265.8v3.2M283.5 269.3h3.2M285.1 267.7v3.2M365.5 242.1h3.2M367.1 240.5v3.2M359.7 288.6h3.2M361.3 287.0v3.2" stroke="#bd1f2d" stroke-width="0.9" fill="none"/>
<path d="M102.3 103.7h3.2M103.9 102.1v3.2M124.5 102.0h3.2M126.1 100.4v3.2M152.2 109.0h3.2M153.8 107.4v3.2M203.0 116.1h3.2M204.6 114.5v3.2M209.3 122.7h3.2M210.9 121.1v3.2M355.0 114.9h3.2M356.6 113.3v3.2M360.2 111.1h3.2M361.8 109.5v3.2M363.2 103.4h3.2M364.8 101.8v3.2" stroke="#fa9b3d" stroke-width="0.9" fill="none"/>
<path d="M82.9 97.5h0M108.0 114.4h0M93.4 108.2h0M88.0 118.7h0M119.9 112.9h0M97.7 107.7h0M135.3 101.5h0M148.1 104.7h0M155.1 111.8h0M145.4 108.7h0M117.2 106.7h0M130.5 115.7h0M130.8 112.5h0M199.5 118.4h0M204.7 119.0h0M221.8 111.3h0M230.7 106.5h0M219.6 104.9h0M236.5 101.0h0M273.2 72.3h0M252.1 121.2h0M356.8 97.8h0M356.7 119.4h0M356.6 94.5h0M363.2 110.7h0M360.8 105.3h0M371.0 111.9h0" stroke="#fccd25" stroke-width="1.9" stroke-linecap="round" fill="none"/>
<path d="M97.3 118.5h0M83.7 111.2h0M89.7 112.6h0M89.5 110.9h0M104.7 112.9h0M85.7 101.1h0M81.3 107.9h0M100.1 98.1h0M85.1 109.6h0M113.4 108.0h0M101.2 113.6h0M113.2 107.9h0M102.3 121.7h0M110.1 110.1h0M124.7 109.5h0M95.8 107.5h0M135.4 103.1h0M138.6 104.8h0M105.5 101.7h0M136.6 123.8h0M96.3 101.4h0M125.7 104.0h0M132.5 104.9h0M86.5 97.8h0M109.3 92.9h0M130.7 123.2h0M106.5 124.7h0M131.5 122.7h0M45.7 107.9h0M222.7 108.6h0M198.7 119.1h0M204.5 113.1h0M199.9 109.4h0M203.7 110.6h0M203.0 103.3h0M215.8 117.7h0M202.9 110.2h0M208.9 106.6h0M203.7 93.7h0M199.6 96.3h0M221.0 103.6h0M223.1 113.1h0M219.7 110.2h0M260.4 116.8h0M203.1 125.3h0M356.7 110.1h0M356.6 99.8h0M356.8 120.8h0M357.0 119.7h0M356.9 113.7h0M356.6 82.6h0M356.4 91.0h0M356.8 74.6h0M369.8 121.2h0" stroke="#e97158" stroke-width="1.9" stroke-linecap="round" fill="none"/>
<path d="M101.8 256.3h0M87.3 257.4h0M124.5 245.4h0M147.2 241.0h0M154.0 236.1h0M158.1 250.0h0M103.6 258.3h0M101.8 257.5h0M206.7 231.7h0M214.8 232.2h0M207.1 252.7h0M209.3 245.0h0M204.2 233.1h0M220.7 234.9h0M212.7 234.1h0M207.8 249.2h0M214.8 245.0h0M207.3 241.1h0M205.5 231.8h0M205.9 254.9h0M218.9 238.5h0M224.7 247.6h0M208.3 256.4h0M198.6 256.7h0M203.3 266.1h0M199.4 252.6h0M356.7 240.7h0M356.5 251.9h0M356.4 240.8h0M356.7 246.7h0M356.6 253.2h0M356.7 238.7h0M356.8 250.0h0M357.1 237.2h0M357.3 246.0h0M356.9 204.1h0M356.8 220.7h0M356.7 220.7h0M357.1 214.1h0M356.9 207.5h0M356.9 212.3h0M356.5 209.1h0M356.8 222.2h0M356.4 218.0h0M357.6 216.3h0" stroke="#cbd8ee" stroke-width="1.9" stroke-linecap="round" fill="none"/>
<path d="M93.3 114.6h0M99.6 112.8h0M113.4 95.6h0M74.4 94.3h0M356.9 108.4h0M357.1 124.7h0M356.5 131.6h0M357.7 114.2h0M357.4 109.9h0M371.4 115.0h0" stroke="#bb3488" stroke-width="1.9" stroke-linecap="round" fill="none"/>
<path d="M105.0 108.6h0M123.5 104.2h0M157.4 105.4h0M124.6 104.8h0M133.7 111.3h0M130.3 115.2h0M152.1 119.5h0M126.7 109.2h0M136.9 122.4h0M159.1 110.9h0M148.9 109.6h0M159.5 111.6h0M214.4 92.1h0M200.9 110.7h0M242.4 111.1h0M246.0 109.9h0M259.6 109.3h0M235.8 116.4h0M284.5 118.1h0M357.1 118.5h0M356.9 92.9h0M395.6 120.3h0" stroke="#f7e225" stroke-width="1.9" stroke-linecap="round" fill="none"/>
<path d="M98.8 241.5h0M119.2 247.4h0M102.9 233.9h0M105.4 248.9h0M129.0 242.1h0M114.9 237.2h0M92.6 242.2h0M104.2 241.8h0M82.7 250.9h0M100.3 245.4h0M86.5 231.7h0M113.2 248.6h0M124.7 243.5h0M91.8 246.6h0M107.0 241.4h0M123.5 238.2h0M119.9 240.5h0M135.8 249.5h0M122.9 243.2h0M141.6 255.1h0M124.1 252.1h0M101.8 246.2h0M132.8 247.9h0M118.0 250.6h0M129.9 252.3h0M130.7 242.2h0M129.2 235.2h0M131.0 238.9h0M135.7 249.5h0M130.1 251.2h0M159.8 242.2h0M145.7 244.9h0M135.6 241.6h0M140.4 245.2h0M130.8 251.1h0M90.2 262.8h0M120.3 256.1h0M257.7 252.6h0M256.6 241.2h0M220.5 253.3h0M225.9 253.3h0M247.7 237.2h0M245.3 241.6h0M253.7 235.9h0M232.8 261.1h0M267.6 261.7h0M278.7 227.1h0M384.6 248.6h0M379.0 242.1h0M358.0 233.9h0M360.6 245.5h0M366.7 250.3h0" stroke="#3b4cc0" stroke-width="1.9" stroke-linecap="round" fill="none"/>
<path d="M104.5 242.0h0M95.2 257.4h0M110.2 247.9h0M88.6 249.1h0M105.7 239.8h0M108.2 246.2h0M99.9 262.0h0M83.9 245.9h0M85.0 248.0h0M108.0 239.4h0M96.2 253.1h0M108.1 245.6h0M85.7 246.7h0M119.9 246.2h0M124.8 244.1h0M113.7 242.7h0M127.4 247.4h0M136.5 243.1h0M121.0 248.9h0M153.9 245.2h0M171.5 248.5h0M137.3 258.6h0M106.5 254.3h0M204.4 242.6h0M207.1 226.1h0M223.7 240.4h0M208.9 234.9h0M206.0 238.9h0M214.5 247.7h0M216.6 241.8h0M215.4 249.0h0M219.6 231.8h0M202.1 232.7h0M198.9 238.7h0M223.7 244.3h0M227.0 252.6h0M228.8 248.2h0M268.7 240.7h0M256.1 244.5h0M261.1 247.3h0M315.2 245.5h0M281.9 248.4h0M237.8 224.1h0M356.7 253.4h0M357.1 250.9h0M356.5 247.1h0M369.3 237.3h0M377.4 238.9h0M368.9 217.9h0M374.6 231.0h0" stroke="#6b8df0" stroke-width="1.9" stroke-linecap="round" fill="none"/>
<path d="M96.1 261.8h0M108.2 252.1h0M235.3 264.9h0M201.7 267.9h0M356.6 267.6h0M356.9 256.9h0M359.6 243.6h0" stroke="#f7a688" stroke-width="1.9" stroke-linecap="round" fill="none"/>
<path d="M121.7 256.8h0M46.2 243.4h0M356.5 242.3h0M356.7 246.9h0M356.8 256.2h0M357.9 231.5h0M356.9 268.4h0M357.6 206.9h0" stroke="#e6d7cf" stroke-width="1.9" stroke-linecap="round" fill="none"/>
<path d="M97.6 236.5h0M102.1 238.4h0M87.6 236.9h0M121.7 240.6h0M105.6 244.0h0M144.4 258.2h0M117.8 245.9h0M123.8 242.5h0M133.5 253.7h0M110.6 241.6h0M136.1 237.1h0M109.2 216.2h0M129.4 220.1h0M94.6 253.7h0M101.6 207.8h0M211.5 244.7h0M207.7 236.0h0M210.2 230.7h0M226.6 244.5h0M224.1 241.4h0M202.3 242.4h0M202.1 253.6h0M212.1 225.7h0M199.6 223.4h0M200.9 230.6h0M214.5 234.9h0M208.8 247.1h0M227.5 242.3h0M215.4 236.6h0M212.2 240.6h0M201.6 246.6h0M207.7 250.3h0M209.2 238.2h0M208.9 245.6h0M217.2 243.8h0M214.8 245.6h0M217.4 245.8h0M198.8 244.9h0M202.9 236.9h0M200.9 227.3h0M238.2 255.6h0M357.1 234.5h0M356.9 207.3h0" stroke="#a1c0ff" stroke-width="1.9" stroke-linecap="round" fill="none"/>
<path d="M101.6 245.5h0M117.1 240.3h0M80.1 250.7h0M108.4 240.2h0M112.5 232.6h0M124.6 238.8h0M152.1 253.5h0M112.5 247.2h0M99.0 255.2h0M121.9 270.6h0M114.6 263.8h0M98.7 268.7h0M107.5 276.3h0M206.1 245.3h0M199.2 243.2h0M205.2 250.1h0M200.8 250.7h0M198.9 249.8h0M214.7 246.5h0M241.4 244.2h0M226.1 245.1h0M275.3 250.9h0M280.1 250.4h0M202.1 250.0h0M244.1 262.3h0M243.9 259.9h0M213.6 261.5h0M246.1 253.1h0M256.1 267.8h0M223.6 251.5h0M218.3 266.5h0M208.5 260.3h0M357.5 260.2h0M357.1 252.9h0M360.3 249.9h0M372.1 279.3h0M361.1 270.0h0" stroke="#b40426" stroke-width="1.9" stroke-linecap="round" fill="none"/>
<path d="M107.1 113.1h0M94.8 115.1h0M136.3 116.5h0M141.6 121.1h0M128.8 113.1h0M95.1 118.9h0M203.7 105.5h0M199.6 117.0h0M203.3 132.1h0M223.6 117.5h0M356.6 97.7h0M357.0 108.6h0M357.2 128.8h0M356.6 141.5h0M356.6 96.6h0M356.6 101.1h0" stroke="#370499" stroke-width="1.9" stroke-linecap="round" fill="none"/>
<path d="M168.0 117.1h0M135.5 116.0h0M356.8 80.4h0" stroke="#6100a7" stroke-width="1.9" stroke-linecap="round" fill="none"/>
<path d="M114.8 122.0h3.2M116.4 120.4v3.2M208.1 108.7h3.2M209.7 107.1v3.2M208.9 122.3h3.2M210.5 120.7v3.2" stroke="#da5a6a" stroke-width="0.9" fill="none"/>
<path d="M84.8 236.1h3.2M86.4 234.5v3.2M109.7 247.1h3.2M111.3 245.5v3.2M123.2 249.1h3.2M124.8 247.5v3.2" stroke="#3b4cc0" stroke-width="0.9" fill="none"/>
<path d="M94.4 260.7h3.2M96.0 259.1v3.2M73.7 258.6h3.2M75.3 257.0v3.2M115.4 257.9h3.2M117.0 256.3v3.2M198.6 241.9h3.2M200.2 240.3v3.2M355.2 237.2h3.2M356.8 235.6v3.2" stroke="#c4d5f3" stroke-width="0.9" fill="none"/>
<path d="M109.5 248.4h0M88.2 248.5h0M80.1 247.1h0M91.7 246.0h0M104.7 238.6h0M94.4 236.3h0M98.5 249.6h0M80.3 242.1h0M104.7 246.9h0M103.8 243.3h0M102.4 249.6h0M102.3 250.0h0M105.0 242.6h0M89.0 244.5h0M93.5 248.8h0M99.5 238.9h0M102.5 244.5h0M100.9 236.2h0M103.0 248.2h0M117.3 248.3h0M78.2 246.3h0M88.0 252.7h0M112.4 251.6h0M114.5 237.3h0M127.1 248.4h0M141.9 250.9h0M141.0 239.1h0M162.6 245.7h0M126.7 240.2h0M118.0 237.7h0M96.4 244.3h0M120.6 236.8h0M129.9 249.2h0M89.5 245.9h0M136.9 256.4h0M127.7 257.9h0M130.7 235.6h0M130.5 249.7h0M153.3 239.0h0M115.6 250.7h0M155.6 240.8h0M129.1 240.8h0M118.5 231.5h0M129.8 246.5h0M135.0 242.8h0M130.3 252.1h0M142.3 255.1h0M118.8 228.2h0M107.1 257.3h0M126.7 262.2h0M58.8 253.3h0M73.7 244.4h0M221.8 229.7h0M208.6 244.3h0M208.1 249.1h0M200.5 255.3h0M207.2 234.6h0M220.7 256.6h0M199.0 232.9h0M205.9 245.1h0M210.4 237.0h0M250.2 245.6h0M246.9 248.1h0M278.9 245.7h0M239.1 241.1h0M228.8 234.5h0M229.0 234.6h0M273.6 244.7h0M239.9 243.7h0M262.4 249.4h0M242.6 247.5h0M229.1 238.4h0M295.6 239.2h0M271.8 255.8h0M222.2 241.6h0M221.4 248.2h0M227.6 240.6h0M262.5 235.9h0M272.5 249.1h0M272.8 247.3h0M283.3 246.5h0M230.6 251.4h0M293.4 249.9h0M243.2 249.5h0M312.4 217.9h0M296.4 225.2h0M324.0 249.8h0M232.3 260.8h0M208.0 215.9h0M356.5 245.1h0M356.9 248.0h0M356.4 211.7h0M356.8 208.6h0M385.3 240.0h0M361.6 239.9h0" stroke="#5a78e4" stroke-width="1.9" stroke-linecap="round" fill="none"/>
<path d="M125.4 254.2h3.2M127.0 252.6v3.2M288.4 273.3h3.2M290.0 271.7v3.2" stroke="#c73635" stroke-width="0.9" fill="none"/>
<path d="M114.8 256.0h3.2M116.4 254.4v3.2M118.6 267.7h3.2M120.2 266.1v3.2M209.9 249.9h3.2M211.5 248.3v3.2M204.3 236.9h3.2M205.9 235.3v3.2M355.0 248.9h3.2M356.6 247.3v3.2" stroke="#aac7fd" stroke-width="0.9" fill="none"/>
<path d="M76.3 236.3h3.2M77.9 234.7v3.2M103.7 222.2h3.2M105.3 220.6v3.2M226.9 259.3h3.2M228.5 257.7v3.2M238.1 239.0h3.2M239.7 237.4v3.2M365.1 238.7h3.2M366.7 237.1v3.2M359.9 254.3h3.2M361.5 252.7v3.2M371.6 237.6h3.2M373.2 236.0v3.2M379.1 252.8h3.2M380.7 251.2v3.2" stroke="#6282ea" stroke-width="0.9" fill="none"/>
<path d="M114.1 114.6h0M133.0 118.2h0M144.3 111.4h0M136.2 135.3h0M100.7 136.4h0M200.8 103.1h0M212.2 96.6h0M356.7 138.5h0M356.7 139.6h0M371.2 121.7h0M362.0 147.7h0M357.4 135.7h0" stroke="#370499" stroke-width="1.9" stroke-linecap="round" fill="none"/>
<path d="M201.0 243.4h3.2M202.6 241.8v3.2M204.4 255.9h3.2M206.0 254.3v3.2M355.4 208.4h3.2M357.0 206.8v3.2" stroke="#c4d5f3" stroke-width="0.9" fill="none"/>
<path d="M104.7 102.7h0M117.7 99.1h0M107.7 112.8h0M87.9 113.8h0M98.0 115.0h0M97.9 109.7h0M87.1 121.2h0M98.3 110.7h0M104.9 109.7h0M102.1 104.4h0M122.8 108.5h0M133.8 111.6h0M94.0 96.0h0M113.6 95.1h0M89.8 120.1h0M101.8 132.8h0M223.5 101.5h0M217.8 97.6h0M218.0 108.8h0M205.8 128.0h0M209.4 110.1h0M236.9 105.7h0M216.4 116.3h0M207.2 100.6h0M208.8 113.1h0M201.6 112.6h0M200.9 122.0h0M205.7 102.3h0M212.3 113.5h0M221.3 112.5h0M198.4 110.6h0M268.8 110.5h0M213.1 124.2h0M222.9 123.5h0M211.3 118.3h0M243.9 125.9h0M213.3 120.2h0M357.1 105.4h0M356.8 121.3h0M356.5 112.2h0M356.6 112.9h0M356.9 85.9h0M356.8 89.3h0M372.3 110.7h0" stroke="#da5a6a" stroke-width="1.9" stroke-linecap="round" fill="none"/>
<path d="M249.0 124.6h3.2M250.6 123.0v3.2M238.5 129.1h3.2M240.1 127.5v3.2M355.1 125.9h3.2M356.7 124.3v3.2" stroke="#9c179e" stroke-width="0.9" fill="none"/>
<path d="M107.0 120.2h0M105.3 111.9h0M92.4 98.8h0M113.2 109.3h0M109.9 112.5h0M83.7 101.9h0M103.4 109.6h0M74.2 114.8h0M102.5 110.5h0M96.2 108.7h0M119.7 112.9h0M123.3 107.8h0M111.1 116.7h0M137.8 106.3h0M133.0 113.0h0M104.1 102.1h0M128.7 108.7h0M167.2 108.3h0M79.6 91.6h0M110.4 87.3h0M76.4 120.7h0M121.7 122.8h0M88.7 134.8h0M210.1 105.3h0M226.6 110.5h0M205.6 123.3h0M200.0 112.6h0M206.8 104.9h0M213.0 107.6h0M207.1 92.1h0M209.7 110.1h0M218.0 103.7h0M206.4 112.7h0M227.5 108.3h0M201.5 93.2h0M220.1 109.4h0M235.4 112.1h0M220.6 113.8h0M249.8 110.2h0M236.7 106.9h0M231.0 116.2h0M200.8 121.4h0M212.2 120.9h0M214.7 78.8h0M255.2 90.9h0M356.9 134.4h0M356.9 83.3h0M356.7 94.7h0M357.6 82.3h0M361.3 108.9h0M363.3 108.9h0M359.9 106.0h0" stroke="#de6164" stroke-width="1.9" stroke-linecap="round" fill="none"/>
<path d="M121.9 256.3h0M89.7 244.7h0M91.2 244.7h0M123.5 249.2h0M130.7 243.6h0M124.3 241.5h0M89.5 230.7h0M114.1 231.7h0M130.4 255.8h0M199.8 245.4h0M198.4 242.5h0M219.3 226.8h0M203.1 259.3h0M356.4 238.8h0M356.5 258.9h0M356.6 256.4h0M357.3 258.0h0M356.4 229.7h0M356.5 246.2h0M356.6 262.8h0" stroke="#d9dce1" stroke-width="1.9" stroke-linecap="round" fill="none"/>
<path d="M102.7 124.4h0M112.4 108.5h0M100.4 114.5h0M148.2 114.3h0M127.8 112.8h0M98.8 135.1h0M102.3 130.4h0M84.0 122.5h0M208.7 107.7h0M201.8 101.1h0M225.5 101.5h0M198.7 104.7h0M216.9 127.0h0M202.7 117.0h0M214.0 131.8h0M210.2 137.3h0M276.4 141.1h0M207.4 136.5h0M270.3 148.7h0M357.5 126.2h0M357.4 124.4h0M356.7 110.7h0M356.8 113.3h0M357.1 123.9h0M358.0 104.0h0M356.6 97.1h0M360.5 134.4h0" stroke="#2c0594" stroke-width="1.9" stroke-linecap="round" fill="none"/>
<path d="M120.1 111.3h3.2M121.7 109.7v3.2M69.9 109.7h3.2M71.5 108.1v3.2M109.7 113.1h3.2M111.3 111.5v3.2M148.5 114.1h3.2M150.1 112.5v3.2M198.4 103.6h3.2M200.0 102.0v3.2M226.9 125.3h3.2M228.5 123.7v3.2M355.1 107.6h3.2M356.7 106.0v3.2" stroke="#fa9b3d" stroke-width="0.9" fill="none"/>
<path d="M157.4 115.9h0M159.0 115.8h0M124.3 139.7h0M128.1 152.6h0M263.0 119.3h0M357.4 139.9h0M357.2 137.8h0M357.1 127.2h0M364.7 129.7h0M399.3 133.2h0" stroke="#5801a4" stroke-width="1.9" stroke-linecap="round" fill="none"/>
<path d="M123.7 268.4h0M226.5 220.3h0M356.7 257.0h0M357.2 262.8h0M356.5 258.3h0M356.5 270.6h0" stroke="#f7af91" stroke-width="1.9" stroke-linecap="round" fill="none"/>
<path d="M115.0 113.5h3.2M116.6 111.9v3.2M95.2 94.1h3.2M96.8 92.5v3.2M366.2 115.9h3.2M367.8 114.3v3.2" stroke="#de6164" stroke-width="0.9" fill="none"/>
<path d="M114.9 143.8h0M55.5 107.6h0M215.1 122.4h0M213.8 123.8h0M357.0 97.0h0M356.5 75.1h0M356.4 91.4h0" stroke="#6c00a8" stroke-width="1.9" stroke-linecap="round" fill="none"/>
<path d="M115.1 96.6h3.2M116.7 95.0v3.2M216.1 93.9h3.2M217.7 92.3v3.2M230.7 123.1h3.2M232.3 121.5v3.2M271.2 102.3h3.2M272.8 100.7v3.2" stroke="#f79342" stroke-width="0.9" fill="none"/>
<path d="M126.1 104.2h3.2M127.7 102.6v3.2M267.9 129.2h3.2M269.5 127.6v3.2M380.7 123.8h3.2M382.3 122.2v3.2M357.4 107.8h3.2M359.0 106.2v3.2" stroke="#feb82c" stroke-width="0.9" fill="none"/>
<path d="M95.3 123.6h3.2M96.9 122.0v3.2M91.7 135.6h3.2M93.3 134.0v3.2M117.3 132.9h3.2M118.9 131.3v3.2M245.0 135.9h3.2M246.6 134.3v3.2M234.6 129.2h3.2M236.2 127.6v3.2M243.0 129.7h3.2M244.6 128.1v3.2M355.0 114.4h3.2M356.6 112.8v3.2M367.9 131.8h3.2M369.5 130.2v3.2" stroke="#1d068e" stroke-width="0.9" fill="none"/>
<path d="M114.4 248.1h3.2M116.0 246.5v3.2" stroke="#aac7fd" stroke-width="0.9" fill="none"/>
<path d="M91.7 121.9h0M123.3 120.1h0M212.5 94.0h0M214.9 126.5h0M201.4 130.9h0M210.0 120.0h0M219.6 123.9h0M211.8 120.4h0M356.8 77.7h0" stroke="#7701a8" stroke-width="1.9" stroke-linecap="round" fill="none"/>
<path d="M98.4 110.3h3.2M100.0 108.7v3.2M96.4 117.8h3.2M98.0 116.2v3.2M123.2 115.1h3.2M124.8 113.5v3.2M122.5 114.2h3.2M124.1 112.6v3.2M124.3 105.1h3.2M125.9 103.5v3.2M108.6 107.0h3.2M110.2 105.4v3.2M130.2 115.4h3.2M131.8 113.8v3.2M99.9 87.2h3.2M101.5 85.6v3.2M225.2 118.0h3.2M226.8 116.4v3.2M372.1 115.3h3.2M373.7 113.7v3.2" stroke="#fdc328" stroke-width="0.9" fill="none"/>
<path d="M89.8 106.3h0M103.3 112.2h0M81.7 112.0h0M93.0 110.9h0M106.7 104.3h0M66.1 112.1h0M102.5 113.7h0M98.1 109.6h0M94.1 109.6h0M84.4 108.5h0M87.3 119.9h0M97.0 118.1h0M112.4 117.6h0M126.9 105.6h0M129.3 108.6h0M112.8 101.9h0M137.4 111.7h0M144.6 114.3h0M116.1 94.1h0M114.6 127.8h0M106.0 121.0h0M55.4 106.3h0M72.3 104.7h0M198.9 103.3h0M206.4 99.6h0M205.6 112.3h0M214.5 100.9h0M229.0 116.8h0M214.0 110.1h0M232.3 110.3h0M199.7 105.1h0M216.4 106.3h0M203.3 113.5h0M211.0 116.9h0M209.0 100.9h0M202.1 98.7h0M239.9 109.7h0M205.8 117.1h0M201.9 125.1h0M255.5 106.7h0M256.4 98.5h0M286.9 87.1h0M235.5 95.5h0M356.4 109.1h0M356.7 109.8h0M357.0 98.9h0M356.6 112.5h0M356.5 102.6h0M357.2 74.2h0M356.6 105.4h0M357.0 81.1h0M364.3 110.5h0M363.6 113.6h0" stroke="#e97158" stroke-width="1.9" stroke-linecap="round" fill="none"/>
<path d="M92.5 99.0h3.2M94.1 97.4v3.2M119.4 120.1h3.2M121.0 118.5v3.2M47.1 95.4h3.2M48.7 93.8v3.2M199.6 102.3h3.2M201.2 100.7v3.2M359.9 120.3h3.2M361.5 118.7v3.2" stroke="#ce4b75" stroke-width="0.9" fill="none"/>
<path d="M101.4 136.3h3.2M103.0 134.7v3.2" stroke="#c8437b" stroke-width="0.9" fill="none"/>
<path d="M203.0 250.1h3.2M204.6 248.5v3.2M199.2 248.5h3.2M200.8 246.9v3.2M243.0 263.7h3.2M244.6 262.1v3.2M210.1 211.1h3.2M211.7 209.5v3.2" stroke="#f3c7b1" stroke-width="0.9" fill="none"/>
<path d="M129.9 128.7h3.2M131.5 127.1v3.2M257.5 150.3h3.2M259.1 148.7v3.2M222.0 141.9h3.2M223.6 140.3v3.2M231.7 121.5h3.2M233.3 119.9v3.2" stroke="#43039e" stroke-width="0.9" fill="none"/>
<path d="M101.9 228.0h3.2M103.5 226.4v3.2M102.0 260.3h3.2M103.6 258.7v3.2M225.7 246.5h3.2M227.3 244.9v3.2M217.3 248.7h3.2M218.9 247.1v3.2M355.3 206.3h3.2M356.9 204.7v3.2M462.9 245.5h3.2M464.6 243.9v3.2" stroke="#5a78e4" stroke-width="0.9" fill="none"/>
<path d="M92.7 242.7h0M117.9 251.0h0M98.8 269.1h0M97.9 274.1h0M139.7 264.6h0M216.4 247.9h0M199.8 243.9h0M261.8 236.2h0M220.1 243.0h0M356.4 258.7h0M359.1 247.3h0M362.0 278.6h0" stroke="#de614d" stroke-width="1.9" stroke-linecap="round" fill="none"/>
<path d="M87.4 245.5h0M93.4 243.5h0M130.5 246.8h0M96.7 228.1h0M80.8 222.2h0M82.8 256.7h0M203.9 242.8h0M219.4 244.8h0M208.4 243.3h0M198.7 253.1h0M225.2 244.2h0M212.4 243.3h0M201.7 253.2h0M202.5 252.3h0M204.7 253.0h0M234.9 243.7h0M205.0 245.0h0M223.5 248.3h0M214.9 254.9h0M215.9 254.5h0M202.1 243.4h0M213.4 242.9h0M201.2 253.6h0M205.3 232.4h0M223.7 233.6h0M227.2 234.2h0M207.4 236.6h0M210.8 255.8h0M356.9 231.4h0M357.4 241.8h0M357.0 245.0h0M356.8 241.4h0M356.6 250.9h0M356.6 231.7h0M356.5 246.5h0M356.6 239.8h0M357.0 242.6h0M356.6 247.0h0M357.1 237.1h0M356.9 236.2h0M357.7 248.2h0M356.9 239.4h0M356.7 233.8h0M356.5 227.0h0M356.5 212.8h0M356.7 236.1h0M356.8 224.0h0M356.6 221.1h0M357.0 228.9h0M356.9 235.2h0" stroke="#bbd1f8" stroke-width="1.9" stroke-linecap="round" fill="none"/>
<path d="M94.3 106.4h0M97.1 111.4h0M103.3 114.7h0M145.1 119.3h0M160.5 111.3h0M142.7 89.3h0M211.3 121.4h0M226.0 112.9h0M215.1 88.6h0M203.0 74.0h0M356.6 114.0h0M356.9 105.7h0M356.7 119.3h0M356.4 77.4h0M356.5 75.8h0M363.3 112.5h0" stroke="#c23c81" stroke-width="1.9" stroke-linecap="round" fill="none"/>
<path d="M131.0 121.2h0M121.4 113.8h0M159.5 117.9h0M119.7 113.9h0M132.9 108.8h0M280.1 122.0h0M255.3 108.2h0M228.6 106.3h0M235.5 120.3h0M222.2 106.4h0M278.6 114.5h0M360.6 111.5h0" stroke="#f0f921" stroke-width="1.9" stroke-linecap="round" fill="none"/>
<path d="M102.3 237.7h3.2M103.9 236.1v3.2M125.0 243.5h3.2M126.6 241.9v3.2M133.6 250.2h3.2M135.2 248.6v3.2M115.0 247.5h3.2M116.6 245.9v3.2M149.3 252.7h3.2M150.9 251.1v3.2M383.0 239.6h3.2M384.6 238.0v3.2M368.2 254.8h3.2M369.8 253.2v3.2" stroke="#8fb1fe" stroke-width="0.9" fill="none"/>
<path d="M128.4 111.5h3.2M130.0 109.9v3.2M115.5 114.0h3.2M117.1 112.4v3.2M111.4 115.6h3.2M113.0 114.0v3.2M111.5 121.1h3.2M113.1 119.5v3.2M200.1 119.9h3.2M201.7 118.3v3.2M225.7 112.5h3.2M227.3 110.9v3.2M355.0 101.3h3.2M356.6 99.7v3.2M365.1 104.7h3.2M366.7 103.1v3.2M369.5 117.2h3.2M371.1 115.6v3.2" stroke="#fdaf31" stroke-width="0.9" fill="none"/>
<path d="M97.3 99.8h0M89.7 110.7h0M100.6 113.5h0M96.9 111.1h0M104.1 115.0h0M92.2 101.6h0M107.3 115.0h0M108.2 98.8h0M126.4 110.3h0M100.4 110.4h0M122.9 109.2h0M103.3 102.1h0M125.9 106.7h0M93.1 88.6h0M92.4 94.8h0M89.3 126.4h0M73.5 123.3h0M198.7 110.6h0M224.5 110.6h0M201.9 90.8h0M219.3 106.4h0M219.0 101.8h0M261.7 106.7h0M203.6 120.4h0M244.1 128.3h0M203.2 85.9h0M208.9 83.5h0M252.7 97.5h0M225.2 101.4h0M356.7 128.4h0M356.5 111.1h0M357.0 131.6h0M356.6 129.3h0M356.4 121.3h0M357.1 123.3h0M357.0 127.7h0M356.6 77.7h0M356.5 83.9h0M359.6 113.5h0" stroke="#d45270" stroke-width="1.9" stroke-linecap="round" fill="none"/>
<path d="M92.4 232.8h0M107.7 246.8h0M98.0 249.0h0M92.1 241.5h0M95.7 244.8h0M81.2 249.8h0M110.5 235.5h0M99.7 225.2h0M146.0 236.5h0M78.9 230.8h0M102.1 226.7h0M107.7 252.8h0M120.8 254.8h0M215.8 230.8h0M238.5 251.4h0M203.1 233.5h0M203.4 242.4h0M211.2 233.2h0M202.1 242.3h0M202.0 241.0h0M202.0 246.3h0M205.3 240.2h0M209.7 244.1h0M207.4 239.3h0M198.5 233.0h0M205.3 261.8h0M215.2 229.6h0M211.9 245.1h0M218.4 240.3h0M210.5 246.7h0M211.2 252.3h0M199.3 247.8h0M230.1 240.5h0M199.6 256.4h0M202.7 251.0h0M233.1 252.9h0M233.9 256.7h0M206.7 213.8h0M356.8 247.1h0M356.4 243.1h0M356.6 231.1h0" stroke="#aac7fd" stroke-width="1.9" stroke-linecap="round" fill="none"/>
<path d="M254.8 129.0h3.2M256.4 127.4v3.2" stroke="#920fa3" stroke-width="0.9" fill="none"/>
<path d="M55.4 251.0h3.2M57.0 249.4v3.2" stroke="#4257c9" stroke-width="0.9" fill="none"/>
<path d="M147.0 117.3h0M144.7 109.2h0M145.7 93.0h0M204.7 135.7h0M206.7 79.8h0M356.8 126.5h0M356.5 96.0h0" stroke="#4c02a1" stroke-width="1.9" stroke-linecap="round" fill="none"/>
<path d="M87.3 237.3h3.2M88.9 235.7v3.2M115.1 230.6h3.2M116.7 229.0v3.2M109.9 268.0h3.2M111.5 266.4v3.2M203.6 251.5h3.2M205.2 249.9v3.2M197.2 239.9h3.2M198.8 238.3v3.2M364.7 246.5h3.2M366.3 244.9v3.2" stroke="#98b9ff" stroke-width="0.9" fill="none"/>
<path d="M163.5 111.9h3.2M165.1 110.3v3.2M209.4 99.5h3.2M211.0 97.9v3.2M356.2 71.8h3.2M357.8 70.2v3.2M383.1 102.0h3.2M384.7 100.4v3.2" stroke="#da5a6a" stroke-width="0.9" fill="none"/>
<path d="M93.0 118.8h0M233.9 122.7h0M226.5 86.3h0M356.5 124.9h0M356.6 123.2h0" stroke="#5801a4" stroke-width="1.9" stroke-linecap="round" fill="none"/>
<path d="M111.3 265.0h3.2M112.9 263.4v3.2M96.5 273.6h3.2M98.1 272.0v3.2M355.3 256.1h3.2M356.9 254.5v3.2" stroke="#e0dbd8" stroke-width="0.9" fill="none"/>
<path d="M51.4 255.8h3.2M53.0 254.2v3.2M225.2 252.0h3.2M226.8 250.4v3.2M387.5 246.8h3.2M389.1 245.2v3.2" stroke="#4257c9" stroke-width="0.9" fill="none"/>
<path d="M78.2 113.3h3.2M79.8 111.7v3.2M130.0 116.2h3.2M131.6 114.6v3.2M141.2 110.6h3.2M142.8 109.0v3.2M199.8 125.8h3.2M201.4 124.2v3.2M199.1 86.6h3.2M200.7 85.0v3.2" stroke="#ed7953" stroke-width="0.9" fill="none"/>
<path d="M355.7 119.1h3.2M357.3 117.5v3.2" stroke="#fccd25" stroke-width="0.9" fill="none"/>
<path d="M102.4 240.0h0M113.9 247.8h0M107.6 242.9h0M95.9 239.0h0M97.9 233.4h0M89.5 246.7h0M86.6 236.1h0M103.9 247.8h0M98.9 243.2h0M118.8 240.3h0M136.4 241.2h0M144.2 245.7h0M130.7 233.5h0M133.1 253.3h0M140.3 249.2h0M143.4 245.0h0M127.5 252.1h0M152.2 246.0h0M128.9 252.4h0M55.7 232.6h0M53.6 239.5h0M200.2 230.1h0M205.9 249.1h0M202.4 244.5h0M200.1 245.0h0M208.7 241.7h0M209.4 244.1h0M201.9 224.8h0M201.6 244.0h0M206.8 243.1h0M219.5 235.2h0M207.7 250.3h0M229.5 236.3h0M212.5 228.0h0M214.9 246.1h0M207.6 237.1h0M202.8 235.1h0M222.3 243.1h0M209.0 234.9h0M223.0 238.5h0M221.8 254.1h0M269.7 241.4h0M227.9 251.3h0M299.3 248.4h0M221.1 255.7h0M282.6 225.0h0M356.4 248.6h0M357.5 242.1h0M356.9 250.1h0M357.7 248.5h0M356.5 220.1h0M356.7 203.8h0M356.9 222.2h0M361.5 242.9h0M381.9 243.3h0M360.7 235.1h0M392.5 243.6h0M387.7 233.9h0" stroke="#6b8df0" stroke-width="1.9" stroke-linecap="round" fill="none"/>
<path d="M94.3 141.1h3.2M95.9 139.5v3.2" stroke="#9c179e" stroke-width="0.9" fill="none"/>
<path d="M111.7 254.7h3.2M113.3 253.1v3.2M199.8 259.8h3.2M201.4 258.2v3.2M202.3 252.0h3.2M203.9 250.4v3.2" stroke="#e46e56" stroke-width="0.9" fill="none"/>
<path d="M79.4 112.7h3.2M81.0 111.1v3.2M100.7 125.6h3.2M102.3 124.0v3.2M96.9 120.2h3.2M98.5 118.6v3.2M71.8 123.2h3.2M73.4 121.6v3.2M115.2 123.3h3.2M116.8 121.7v3.2M111.3 131.0h3.2M112.9 129.4v3.2M126.7 132.4h3.2M128.3 130.8v3.2M139.6 139.4h3.2M141.2 137.8v3.2M105.9 154.4h3.2M107.5 152.8v3.2M115.4 123.9h3.2M117.0 122.3v3.2M197.3 121.4h3.2M198.9 119.8v3.2M199.2 114.5h3.2M200.8 112.9v3.2M197.9 128.5h3.2M199.5 126.9v3.2M245.5 131.4h3.2M247.1 129.8v3.2M208.3 128.0h3.2M209.9 126.4v3.2M220.4 133.5h3.2M222.0 131.9v3.2M202.1 134.0h3.2M203.7 132.4v3.2M222.7 125.5h3.2M224.3 123.9v3.2M355.0 126.2h3.2M356.6 124.6v3.2" stroke="#0d0887" stroke-width="0.9" fill="none"/>
<path d="M271.7 258.3h3.2M273.3 256.7v3.2M377.0 240.9h3.2M378.6 239.3v3.2M360.2 245.1h3.2M361.8 243.5v3.2M358.5 246.6h3.2M360.1 245.0v3.2M369.5 251.2h3.2M371.1 249.6v3.2" stroke="#7da0f9" stroke-width="0.9" fill="none"/>
<path d="M264.0 145.7h3.2M265.6 144.1v3.2M237.3 127.1h3.2M238.9 125.5v3.2" stroke="#8a09a5" stroke-width="0.9" fill="none"/>
<path d="M218.4 121.6h3.2M220.0 120.0v3.2M364.0 109.3h3.2M365.6 107.7v3.2" stroke="#f7e225" stroke-width="0.9" fill="none"/>
<path d="M112.6 245.1h0M76.1 248.5h0M106.7 259.5h0M105.5 246.0h0M102.4 238.6h0M108.6 241.2h0M123.1 243.8h0M76.2 246.8h0M81.2 243.3h0M94.8 243.4h0M104.6 236.0h0M105.5 250.1h0M89.7 234.1h0M98.2 229.3h0M106.7 235.1h0M69.8 250.6h0M85.5 236.9h0M95.2 234.2h0M99.6 246.8h0M111.9 247.7h0M137.1 242.4h0M111.3 245.0h0M143.0 243.7h0M101.2 250.1h0M99.3 240.1h0M136.3 245.3h0M132.1 247.1h0M123.3 243.2h0M131.6 238.0h0M122.5 229.0h0M99.8 252.4h0M119.1 245.8h0M125.0 240.6h0M134.9 245.8h0M100.5 250.1h0M152.3 237.9h0M132.0 248.3h0M136.8 241.2h0M146.8 248.7h0M133.0 252.2h0M133.8 245.6h0M114.2 245.7h0M144.7 240.9h0M126.6 235.8h0M144.0 255.7h0M141.3 248.6h0M133.5 240.2h0M136.0 237.6h0M153.6 246.9h0M102.5 253.1h0M109.2 252.3h0M45.7 241.9h0M217.8 231.6h0M204.3 241.0h0M232.7 244.7h0M246.6 245.5h0M272.7 251.1h0M241.8 244.0h0M244.6 239.5h0M278.6 248.5h0M268.9 251.3h0M229.0 226.6h0M356.6 233.8h0M364.3 244.5h0M395.6 254.3h0M373.4 249.2h0" stroke="#4257c9" stroke-width="1.9" stroke-linecap="round" fill="none"/>
<path d="M89.9 104.7h0M100.7 115.8h0M117.3 113.3h0M92.0 113.2h0M96.6 114.0h0M115.7 104.3h0M120.3 105.3h0M128.8 109.6h0M107.1 123.3h0M107.4 120.7h0M120.0 144.3h0M122.3 142.4h0M110.9 134.5h0M144.2 152.7h0M101.6 73.8h0M201.0 101.6h0M207.4 107.3h0M199.6 131.9h0M356.4 115.2h0M357.2 142.7h0M357.0 143.2h0M356.8 100.5h0M356.5 115.4h0M356.6 133.2h0M356.4 112.3h0M357.6 137.6h0M356.7 99.8h0M356.8 86.7h0M356.9 83.2h0M357.2 81.7h0M384.8 146.3h0" stroke="#2c0594" stroke-width="1.9" stroke-linecap="round" fill="none"/>
<path d="M101.6 111.5h0M69.5 106.3h0M217.3 117.2h0M222.9 115.8h0M198.7 125.1h0M243.4 107.7h0M357.2 124.2h0M356.5 71.2h0M356.8 87.4h0" stroke="#9c179e" stroke-width="1.9" stroke-linecap="round" fill="none"/>
<path d="M130.0 250.2h3.2M131.6 248.6v3.2M124.5 236.0h3.2M126.1 234.4v3.2M223.8 247.1h3.2M225.4 245.5v3.2M264.9 246.4h3.2M266.5 244.8v3.2M364.2 247.9h3.2M365.8 246.3v3.2M366.2 250.7h3.2M367.8 249.1v3.2" stroke="#4a63d3" stroke-width="0.9" fill="none"/>
<path d="M133.6 116.2h3.2M135.2 114.6v3.2M124.4 110.0h3.2M126.0 108.4v3.2" stroke="#fccd25" stroke-width="0.9" fill="none"/>
<path d="M150.8 114.2h0M133.4 123.8h0M121.9 136.6h0M121.5 132.1h0M356.5 127.9h0M365.2 137.6h0" stroke="#4c02a1" stroke-width="1.9" stroke-linecap="round" fill="none"/>
<path d="M100.1 110.8h3.2M101.7 109.2v3.2M123.3 114.9h3.2M124.9 113.3v3.2M139.9 111.3h3.2M141.5 109.7v3.2M105.5 122.6h3.2M107.1 121.0v3.2M200.8 120.7h3.2M202.4 119.1v3.2M197.8 116.4h3.2M199.4 114.8v3.2" stroke="#de6164" stroke-width="0.9" fill="none"/>
<path d="M105.2 230.6h3.2M106.8 229.0v3.2M355.4 251.7h3.2M357.0 250.1v3.2" stroke="#cbd8ee" stroke-width="0.9" fill="none"/>
<path d="M208.3 262.0h3.2M209.9 260.4v3.2M238.5 263.1h3.2M240.1 261.5v3.2M265.1 273.7h3.2M266.7 272.1v3.2M363.4 260.4h3.2M365.0 258.8v3.2M358.2 271.4h3.2M359.8 269.8v3.2M360.4 275.5h3.2M362.0 273.9v3.2" stroke="#bd1f2d" stroke-width="0.9" fill="none"/>
<path d="M104.0 254.2h0M276.2 256.0h0M356.6 256.3h0M362.4 262.2h0" stroke="#f7af91" stroke-width="1.9" stroke-linecap="round" fill="none"/>
<path d="M78.3 251.7h0M110.9 237.7h0M114.9 250.0h0M118.4 266.1h0M94.2 266.8h0M125.0 261.0h0M217.0 243.8h0M199.8 259.0h0M203.1 232.6h0M216.8 236.8h0M264.8 247.6h0M236.5 253.2h0M200.2 250.8h0M216.0 250.2h0M200.7 255.1h0M232.0 256.8h0M357.3 261.9h0M371.0 245.9h0M366.2 287.6h0M371.8 290.4h0" stroke="#c73635" stroke-width="1.9" stroke-linecap="round" fill="none"/>
<path d="M150.4 242.9h0M123.4 257.0h0M212.2 241.0h0M223.0 245.8h0M356.5 257.0h0M356.6 247.9h0M356.9 246.9h0M356.7 254.6h0M356.6 246.9h0M356.5 229.7h0M356.7 218.9h0M356.8 221.5h0" stroke="#d9dce1" stroke-width="1.9" stroke-linecap="round" fill="none"/>
<path d="M118.4 109.9h0M161.1 108.7h0M216.1 122.2h0M290.2 121.9h0" stroke="#5801a4" stroke-width="1.9" stroke-linecap="round" fill="none"/>
<path d="M100.7 245.7h3.2M102.3 244.1v3.2M141.2 244.6h3.2M142.8 243.0v3.2M218.4 252.5h3.2M220.0 250.9v3.2" stroke="#b2ccfb" stroke-width="0.9" fill="none"/>
<path d="M106.3 118.6h0M97.3 111.6h0M116.7 120.6h0M96.0 117.1h0M105.6 103.6h0M98.5 115.6h0M121.9 109.4h0M97.5 107.7h0M105.4 105.2h0M114.0 109.4h0M106.6 112.5h0M100.9 102.2h0M100.5 101.1h0M115.8 100.1h0M103.8 103.2h0M92.7 118.4h0M115.7 117.5h0M140.4 105.8h0M124.8 103.4h0M119.9 107.0h0M120.2 115.9h0M123.3 109.2h0M123.1 121.8h0M144.4 124.2h0M132.4 117.5h0M123.5 107.7h0M101.2 109.1h0M117.8 111.9h0M125.9 110.2h0M116.5 108.4h0M130.2 105.5h0M123.1 117.3h0M114.1 105.6h0M118.6 121.6h0M131.0 113.9h0M139.6 111.5h0M141.1 103.5h0M138.2 113.0h0M147.3 112.4h0M130.1 117.2h0M159.8 108.2h0M171.5 114.5h0M143.2 113.7h0M125.5 122.2h0M245.3 115.4h0M209.5 112.9h0M218.1 108.0h0M215.4 108.9h0M220.8 110.3h0M202.8 108.9h0M199.0 98.9h0M208.1 112.4h0M240.1 106.0h0M235.5 112.8h0M260.6 103.7h0M267.7 109.4h0M270.9 120.1h0M276.0 124.6h0M247.3 116.3h0M239.1 122.2h0M237.5 112.3h0M287.9 114.0h0M268.9 117.3h0M287.7 89.8h0M305.1 127.5h0M299.3 114.4h0M205.6 119.5h0M212.6 122.2h0M234.3 125.5h0M356.7 110.7h0M357.2 121.3h0M356.7 102.8h0M356.7 78.2h0M356.4 98.4h0M359.6 109.6h0M368.9 110.8h0" stroke="#feb82c" stroke-width="1.9" stroke-linecap="round" fill="none"/>
<path d="M97.2 117.5h0M98.6 114.1h0M100.3 119.0h0M108.7 107.0h0M140.8 111.7h0M162.6 111.7h0M138.9 110.9h0M112.0 116.0h0M129.7 106.2h0M131.4 109.6h0M114.5 116.8h0M136.6 102.9h0M126.6 101.8h0M128.9 114.1h0M153.3 118.1h0M135.6 119.3h0M133.5 106.2h0M224.1 107.4h0M244.5 110.0h0M260.5 106.4h0M223.9 101.7h0M255.2 108.2h0M258.5 102.4h0M290.9 110.3h0M273.4 113.5h0M220.5 99.9h0M284.8 105.7h0M281.9 114.4h0M356.4 110.3h0M356.7 105.6h0M375.6 105.9h0M357.3 121.0h0M359.3 110.0h0M391.4 112.9h0" stroke="#fccd25" stroke-width="1.9" stroke-linecap="round" fill="none"/>
<path d="M88.3 103.5h0M102.8 98.2h0M89.9 108.8h0M93.0 97.1h0M110.9 94.3h0M102.9 104.1h0M85.7 107.1h0M98.7 126.6h0M70.8 110.0h0M202.6 109.7h0M219.9 118.9h0M219.5 101.2h0M240.7 111.0h0M207.8 115.2h0M227.2 100.2h0M256.1 133.8h0M356.6 103.7h0M356.4 141.9h0M356.6 87.1h0M366.3 107.2h0M360.1 112.3h0" stroke="#c8437b" stroke-width="1.9" stroke-linecap="round" fill="none"/>
<path d="M102.2 116.4h0M96.9 112.6h0M103.6 115.1h0M132.1 108.7h0M159.5 115.6h0M125.5 117.8h0M148.0 99.4h0M128.5 114.1h0M161.5 109.1h0M111.7 106.3h0M137.6 104.8h0M97.9 120.3h0M220.8 109.7h0M246.9 114.1h0M227.5 120.9h0M236.6 113.4h0M265.7 108.8h0M222.4 105.0h0M226.8 114.2h0M291.0 113.5h0M241.4 103.4h0M356.4 104.8h0M356.7 116.7h0M356.6 105.8h0" stroke="#fad824" stroke-width="1.9" stroke-linecap="round" fill="none"/>
<path d="M92.5 226.8h3.2M94.1 225.2v3.2M197.9 262.5h3.2M199.5 260.9v3.2" stroke="#bbd1f8" stroke-width="0.9" fill="none"/>
<path d="M95.9 107.1h0M89.7 110.1h0M95.2 100.2h0M106.2 105.7h0M114.8 90.6h0M80.0 88.0h0M62.5 102.3h0M210.7 105.8h0M278.8 122.3h0M267.6 127.7h0M229.0 92.6h0M356.4 71.3h0M361.5 108.9h0M363.6 109.8h0" stroke="#b42e8d" stroke-width="1.9" stroke-linecap="round" fill="none"/>
<path d="M139.6 273.4h3.2M141.2 271.8v3.2M240.2 262.7h3.2M241.8 261.1v3.2" stroke="#cf453c" stroke-width="0.9" fill="none"/>
<path d="M198.8 253.6h0M234.4 256.9h0M222.6 227.6h0M357.2 261.4h0M357.6 260.8h0M356.5 261.9h0M356.7 271.1h0M357.3 255.8h0M356.6 270.7h0M356.6 269.2h0" stroke="#f0cdbb" stroke-width="1.9" stroke-linecap="round" fill="none"/>
<path d="M102.9 238.1h0M83.8 258.7h0M92.6 254.1h0M85.9 257.7h0M283.1 278.5h0M201.0 246.0h0M357.3 269.9h0M356.4 276.3h0M370.0 238.5h0M358.3 245.8h0" stroke="#e97a5f" stroke-width="1.9" stroke-linecap="round" fill="none"/>
<path d="M109.4 260.4h0M107.5 258.5h0M201.4 249.9h0M356.4 260.9h0M357.7 262.6h0M356.7 229.6h0" stroke="#f0cdbb" stroke-width="1.9" stroke-linecap="round" fill="none"/>
<path d="M102.4 104.6h0M104.1 104.8h0M119.2 113.4h0M103.7 104.0h0M102.3 109.0h0M95.7 104.3h0M101.5 107.8h0M106.8 115.7h0M91.5 103.6h0M106.9 110.0h0M102.3 117.4h0M67.8 117.6h0M124.3 107.5h0M132.8 113.9h0M113.3 107.8h0M136.2 113.4h0M118.4 114.8h0M143.4 108.0h0M114.2 111.7h0M112.5 113.2h0M171.7 114.0h0M108.0 81.5h0M109.0 128.1h0M206.7 97.7h0M202.0 114.7h0M208.6 110.3h0M201.0 108.7h0M206.0 108.5h0M198.4 108.5h0M209.5 103.0h0M225.7 122.6h0M199.0 112.3h0M202.3 106.2h0M200.5 100.6h0M201.9 103.4h0M204.6 108.3h0M204.0 99.8h0M226.2 112.8h0M202.8 111.4h0M199.1 110.5h0M229.0 100.6h0M283.6 106.9h0M274.9 116.6h0M258.3 116.9h0M253.1 125.7h0M209.9 120.7h0M213.6 127.5h0M356.4 106.8h0M356.6 70.9h0M357.2 99.8h0M379.5 103.9h0" stroke="#f48948" stroke-width="1.9" stroke-linecap="round" fill="none"/>
<path d="M103.0 109.5h0M96.3 113.2h0M86.7 106.4h0M93.5 113.0h0M93.9 113.5h0M85.0 110.3h0M91.8 114.6h0M102.7 108.6h0M93.5 114.8h0M80.5 103.5h0M83.8 109.5h0M82.8 116.7h0M105.1 107.7h0M101.0 123.8h0M87.4 107.1h0M101.8 112.2h0M81.8 126.1h0M90.4 128.4h0M127.1 121.6h0M119.0 121.6h0M120.8 121.5h0M130.4 121.8h0M90.2 128.8h0M120.0 139.7h0M114.1 138.3h0M99.7 143.8h0M118.5 130.0h0M204.1 119.0h0M217.1 116.2h0M211.5 102.6h0M213.8 117.0h0M202.6 114.3h0M205.2 109.2h0M223.8 94.3h0M214.9 112.1h0M211.9 111.1h0M219.7 110.0h0M231.7 118.5h0M199.4 123.7h0M200.2 116.8h0M200.0 125.5h0M207.9 123.0h0M200.7 121.1h0M220.6 126.3h0M273.1 147.1h0M222.1 145.7h0M357.2 122.3h0M357.4 107.8h0M356.6 124.9h0M356.6 123.5h0M357.3 130.5h0M356.4 105.1h0M356.4 142.3h0M357.3 106.7h0M356.7 105.7h0M357.0 110.5h0M357.2 127.4h0M356.7 112.9h0M356.8 121.8h0M356.8 107.7h0M356.9 131.2h0M356.5 124.3h0M356.6 116.5h0M357.0 126.1h0M356.9 127.7h0M356.7 120.2h0M357.0 127.5h0M356.8 91.8h0M356.7 102.1h0M356.4 84.0h0M356.5 74.7h0M356.5 101.4h0M356.5 91.5h0M372.9 124.4h0M357.4 135.5h0" stroke="#0d0887" stroke-width="1.9" stroke-linecap="round" fill="none"/>
<path d="M215.2 264.4h3.2M216.8 262.8v3.2" stroke="#de614d" stroke-width="0.9" fill="none"/>
<path d="M140.4 113.3h0M102.3 116.0h0M99.8 119.0h0M111.5 101.4h0M99.2 121.2h0M91.8 112.6h0M129.6 105.7h0M137.1 110.2h0M141.3 113.7h0M114.2 126.0h0M83.9 118.3h0M120.0 128.6h0M118.4 132.1h0M123.5 139.6h0M125.1 133.4h0M121.7 136.8h0M128.1 136.2h0M118.4 142.6h0M109.3 138.0h0M99.4 133.9h0M199.8 104.4h0M214.8 111.6h0M215.4 115.0h0M219.6 97.8h0M205.9 120.9h0M212.7 104.4h0M198.8 119.6h0M210.8 121.8h0M237.1 142.6h0M357.5 126.2h0M356.8 85.1h0M356.4 123.3h0M356.4 132.0h0M356.9 128.4h0M356.8 90.0h0M356.7 99.4h0M356.4 103.4h0" stroke="#2c0594" stroke-width="1.9" stroke-linecap="round" fill="none"/>
<path d="M88.3 237.5h0M102.8 232.2h0M97.3 245.6h0M107.6 236.9h0M94.3 240.4h0M110.2 237.0h0M128.6 249.7h0M136.1 249.6h0M136.5 247.8h0M135.2 244.2h0M126.7 243.2h0M143.4 254.1h0M139.6 245.5h0M127.4 223.5h0M146.1 222.1h0M64.5 229.4h0M89.8 254.1h0M201.3 234.4h0M199.1 229.4h0M217.3 238.5h0M207.7 243.7h0M216.4 239.9h0M214.2 237.8h0M203.9 236.2h0M218.1 240.9h0M203.2 219.9h0M381.5 241.2h0" stroke="#86a9fc" stroke-width="1.9" stroke-linecap="round" fill="none"/>
<path d="M202.3 118.0h3.2M203.9 116.4v3.2" stroke="#a31e9a" stroke-width="0.9" fill="none"/>
<path d="M121.9 241.6h3.2M123.5 240.0v3.2M109.9 257.3h3.2M111.5 255.7v3.2M200.8 254.7h3.2M202.4 253.1v3.2M355.4 223.1h3.2M357.0 221.5v3.2" stroke="#6b8df0" stroke-width="0.9" fill="none"/>
<path d="M103.8 102.2h3.2M105.4 100.6v3.2M105.9 109.4h3.2M107.5 107.8v3.2M253.9 95.4h3.2M255.5 93.8v3.2M377.0 106.9h3.2M378.6 105.3v3.2M361.8 116.1h3.2M363.4 114.5v3.2M387.5 112.8h3.2M389.1 111.2v3.2" stroke="#fca537" stroke-width="0.9" fill="none"/>
<path d="M95.8 104.2h0M112.4 116.9h0M102.0 114.2h0M93.2 105.1h0M81.6 119.2h0M102.6 110.3h0M106.5 108.8h0M77.4 111.6h0M117.3 121.6h0M96.4 114.8h0M86.1 108.7h0M126.1 112.2h0M89.8 115.7h0M86.4 109.6h0M105.1 104.5h0M88.4 117.0h0M81.9 99.3h0M117.6 104.8h0M123.2 116.9h0M124.5 111.4h0M124.8 110.1h0M111.3 96.8h0M122.2 92.1h0M85.1 93.4h0M199.2 93.9h0M217.0 109.8h0M213.8 94.4h0M199.5 119.0h0M200.5 95.5h0M205.8 116.9h0M204.4 111.0h0M278.1 119.2h0M230.9 109.3h0M310.9 97.0h0M205.3 129.7h0M206.9 114.9h0M214.8 126.2h0M235.7 96.5h0M210.7 86.0h0M223.0 107.1h0M262.1 101.7h0M357.3 124.0h0M356.6 118.9h0M356.4 149.7h0M356.5 90.5h0M376.9 116.7h0" stroke="#de6164" stroke-width="1.9" stroke-linecap="round" fill="none"/>
<path d="M96.9 254.2h3.2M98.5 252.6v3.2M105.5 256.6h3.2M107.1 255.0v3.2M94.3 275.1h3.2M95.9 273.5v3.2M355.6 212.0h3.2M357.2 210.4v3.2" stroke="#d3dbe7" stroke-width="0.9" fill="none"/>
<path d="M109.9 134.0h3.2M111.5 132.4v3.2M355.4 74.4h3.2M357.0 72.8v3.2" stroke="#6100a7" stroke-width="0.9" fill="none"/>
<path d="M358.2 137.4h3.2M359.8 135.8v3.2" stroke="#5801a4" stroke-width="0.9" fill="none"/>
<path d="M126.0 260.4h3.2M127.6 258.8v3.2M114.7 270.2h3.2M116.3 268.6v3.2M355.6 246.9h3.2M357.2 245.3v3.2" stroke="#e0dbd8" stroke-width="0.9" fill="none"/>
<path d="M102.6 111.9h3.2M104.2 110.3v3.2M116.2 111.3h3.2M117.8 109.7v3.2M236.4 114.7h3.2M238.0 113.1v3.2M204.1 119.3h3.2M205.7 117.7v3.2M209.1 120.9h3.2M210.7 119.3v3.2M236.6 124.1h3.2M238.2 122.5v3.2M271.0 102.6h3.2M272.6 101.0v3.2M365.3 117.2h3.2M366.9 115.6v3.2" stroke="#f79342" stroke-width="0.9" fill="none"/>
<path d="M354.8 265.6h3.2M356.4 264.0v3.2" stroke="#f0cdbb" stroke-width="0.9" fill="none"/>
<path d="M356.7 259.2h0M357.0 260.1h0" stroke="#f7a688" stroke-width="1.9" stroke-linecap="round" fill="none"/>
<path d="M109.5 238.5h0M111.4 244.7h0M158.8 245.4h0M111.3 253.2h0M107.6 282.3h0M207.0 231.0h0M201.5 261.3h0M356.6 260.9h0M357.4 260.7h0M356.4 263.9h0M357.2 232.6h0M357.2 255.3h0" stroke="#e0dbd8" stroke-width="1.9" stroke-linecap="round" fill="none"/>
<path d="M121.8 132.2h3.2M123.4 130.6v3.2M105.5 143.1h3.2M107.1 141.5v3.2M367.1 137.4h3.2M368.7 135.8v3.2M355.6 125.2h3.2M357.2 123.6v3.2" stroke="#43039e" stroke-width="0.9" fill="none"/>
<path d="M126.4 114.9h0M129.8 113.9h0M205.1 124.9h0M206.6 125.7h0M356.8 116.0h0M356.9 103.5h0M356.5 104.3h0M360.8 154.4h0" stroke="#43039e" stroke-width="1.9" stroke-linecap="round" fill="none"/>
<path d="M125.0 269.8h0M223.5 273.8h0M356.7 256.0h0M356.8 260.9h0M356.4 266.0h0M357.2 260.9h0" stroke="#f6bfa6" stroke-width="1.9" stroke-linecap="round" fill="none"/>
<path d="M111.5 255.1h3.2M113.1 253.5v3.2M91.7 269.6h3.2M93.3 268.0v3.2M126.7 266.4h3.2M128.3 264.8v3.2M355.8 252.0h3.2M357.4 250.4v3.2" stroke="#f29274" stroke-width="0.9" fill="none"/>
<path d="M104.7 236.7h0M82.9 231.5h0M99.1 245.8h0M103.7 238.0h0M106.5 257.5h0M101.9 242.4h0M105.8 246.0h0M103.8 250.7h0M112.0 237.1h0M117.3 255.6h0M90.2 234.7h0M102.7 250.2h0M98.2 238.0h0M101.4 252.5h0M103.4 243.6h0M105.4 239.2h0M82.0 239.5h0M89.8 242.1h0M86.1 242.7h0M126.1 246.2h0M101.2 247.6h0M83.8 243.5h0M114.9 241.4h0M91.3 245.9h0M79.8 233.3h0M104.5 243.6h0M93.0 234.7h0M101.2 237.6h0M111.5 235.4h0M122.5 242.3h0M129.9 235.3h0M126.5 238.8h0M132.5 242.9h0M100.4 244.4h0M161.1 242.7h0M118.7 250.3h0M130.3 252.6h0M124.3 240.2h0M122.3 242.7h0M110.1 246.3h0M110.1 250.0h0M133.2 246.0h0M114.6 234.6h0M124.7 243.6h0M116.9 247.5h0M155.5 247.0h0M158.7 248.2h0M131.0 243.6h0M140.7 240.7h0M108.7 254.4h0M51.8 226.7h0M75.0 243.8h0M202.5 246.5h0M203.2 242.3h0M209.5 237.0h0M200.9 256.0h0M212.2 240.0h0M215.1 231.5h0M205.0 235.5h0M204.8 242.7h0M202.8 245.4h0M220.0 244.8h0M234.9 244.9h0M294.9 249.9h0M293.8 247.2h0M259.6 243.3h0M278.6 242.2h0M226.9 242.3h0M223.0 247.9h0M286.5 250.7h0M283.6 241.1h0M238.8 243.9h0M238.0 245.4h0M243.4 238.1h0M290.6 251.3h0M273.2 206.3h0M209.9 254.7h0M267.7 265.7h0M356.8 241.2h0M356.4 233.4h0M368.4 250.8h0M376.8 237.4h0M362.6 242.0h0M419.0 217.9h0M406.6 233.3h0" stroke="#5a78e4" stroke-width="1.9" stroke-linecap="round" fill="none"/>
<path d="M140.3 243.4h0M134.7 241.1h0M110.1 257.1h0M213.8 258.7h0M202.3 253.3h0M203.0 264.2h0M234.3 259.5h0M357.0 265.6h0M357.0 253.6h0M357.3 231.8h0" stroke="#e0dbd8" stroke-width="1.9" stroke-linecap="round" fill="none"/>
<path d="M121.8 266.2h3.2M123.4 264.6v3.2" stroke="#e6d7cf" stroke-width="0.9" fill="none"/>
<path d="M93.7 123.7h0M66.1 100.2h0M203.0 110.6h0M200.3 110.6h0M202.3 109.2h0M231.2 105.8h0M201.5 127.3h0M199.6 122.4h0M201.0 112.0h0M198.6 88.5h0M357.6 126.8h0" stroke="#8a09a5" stroke-width="1.9" stroke-linecap="round" fill="none"/>
<path d="M134.6 103.3h0M119.2 114.6h0M153.9 107.2h0M144.2 111.7h0M147.2 114.9h0M220.2 110.9h0M278.3 105.3h0M291.5 117.2h0M219.6 112.0h0M226.9 108.3h0M221.4 121.5h0M247.8 107.1h0M221.4 114.2h0" stroke="#f0f921" stroke-width="1.9" stroke-linecap="round" fill="none"/>
<path d="M100.7 249.8h0M98.5 236.7h0M117.7 233.1h0M85.0 244.3h0M106.9 244.0h0M92.4 233.1h0M109.7 247.1h0M128.1 247.5h0M123.9 252.8h0M123.8 239.1h0M129.9 252.3h0M127.7 245.3h0M160.0 246.5h0M84.0 226.2h0M74.4 228.3h0M101.8 253.2h0M99.5 255.7h0M95.8 260.4h0M126.0 257.5h0M102.8 257.2h0M225.3 236.0h0M223.5 235.5h0M213.7 246.4h0M216.4 250.3h0M211.9 244.2h0M205.6 246.3h0M213.6 232.1h0M220.6 241.7h0M206.4 246.7h0M200.9 246.4h0M228.2 237.1h0M206.3 244.9h0M214.5 255.7h0M207.1 242.4h0M201.5 227.2h0M206.9 248.9h0M212.1 206.5h0M267.4 225.3h0M356.8 236.1h0M356.6 238.7h0M356.5 238.8h0M379.5 237.9h0" stroke="#98b9ff" stroke-width="1.9" stroke-linecap="round" fill="none"/>
<path d="M84.5 93.4h0M90.4 120.9h0M100.1 114.8h0M93.5 96.6h0M88.0 121.0h0M132.2 113.5h0M208.4 109.3h0M199.1 95.4h0M199.3 113.8h0M262.9 124.3h0M256.1 137.4h0M356.7 119.1h0M356.7 137.1h0M356.8 110.4h0M357.6 136.7h0M356.4 112.4h0M356.6 87.9h0M356.7 69.8h0M356.5 75.6h0M368.4 116.8h0" stroke="#c8437b" stroke-width="1.9" stroke-linecap="round" fill="none"/>
<path d="M129.3 274.9h0M88.7 268.8h0M112.8 271.0h0M71.7 286.7h0M222.9 250.0h0M263.5 239.7h0M199.1 257.3h0M220.2 261.7h0M271.0 252.1h0M261.3 258.3h0M356.6 264.3h0M357.4 269.7h0" stroke="#c73635" stroke-width="1.9" stroke-linecap="round" fill="none"/>
<path d="M105.4 232.9h0M119.4 258.2h0M121.7 270.8h0M107.0 259.1h0M128.1 270.2h0M218.2 261.3h0M207.4 270.5h0M384.8 280.3h0" stroke="#e46e56" stroke-width="1.9" stroke-linecap="round" fill="none"/>
<path d="M90.3 124.4h3.2M91.9 122.8v3.2M109.5 137.0h3.2M111.1 135.4v3.2M197.7 124.4h3.2M199.3 122.8v3.2M247.3 114.3h3.2M248.9 112.7v3.2M364.5 111.5h3.2M366.1 109.9v3.2" stroke="#ed7953" stroke-width="0.9" fill="none"/>
<path d="M102.7 255.6h3.2M104.3 254.0v3.2M105.9 260.9h3.2M107.5 259.3v3.2M210.8 274.9h3.2M212.4 273.3v3.2M355.0 260.2h3.2M356.6 258.6v3.2M355.1 259.9h3.2M356.7 258.3v3.2" stroke="#f3c7b1" stroke-width="0.9" fill="none"/>
<path d="M97.7 99.1h0M108.8 101.6h0M90.0 107.5h0M119.1 116.5h0M105.8 112.0h0M97.9 118.0h0M100.8 111.7h0M100.5 111.7h0M117.1 106.3h0M110.8 112.9h0M85.2 120.6h0M92.6 103.3h0M123.7 117.2h0M119.1 111.8h0M114.3 110.6h0M93.4 97.4h0M137.3 124.6h0M139.4 135.9h0M55.7 98.6h0M203.8 109.9h0M222.2 103.4h0M212.2 106.0h0M202.6 104.3h0M212.4 111.5h0M216.5 108.4h0M198.8 110.9h0M206.6 92.1h0M224.5 116.1h0M276.3 122.7h0M306.6 102.8h0M208.4 118.3h0M254.1 105.7h0M356.5 123.0h0M356.8 116.6h0M356.4 118.0h0M356.7 114.1h0M357.0 115.5h0M357.5 119.1h0M356.4 95.7h0M356.4 89.0h0M357.1 75.0h0M370.2 113.2h0" stroke="#de6164" stroke-width="1.9" stroke-linecap="round" fill="none"/>
<path d="M100.2 123.9h3.2M101.8 122.3v3.2M357.7 133.2h3.2M359.3 131.6v3.2" stroke="#b42e8d" stroke-width="0.9" fill="none"/>
<path d="M78.2 247.3h3.2M79.8 245.7v3.2M76.5 230.8h3.2M78.1 229.2v3.2M109.4 254.0h3.2M111.0 252.4v3.2M125.8 259.2h3.2M127.4 257.6v3.2M100.7 259.6h3.2M102.3 258.0v3.2M129.9 262.7h3.2M131.5 261.1v3.2M208.1 242.7h3.2M209.7 241.1v3.2" stroke="#b2ccfb" stroke-width="0.9" fill="none"/>
<path d="M203.7 95.9h3.2M205.3 94.3v3.2" stroke="#ce4b75" stroke-width="0.9" fill="none"/>
<path d="M88.7 226.5h0M94.3 255.0h0M106.0 263.6h0" stroke="#f59c7d" stroke-width="1.9" stroke-linecap="round" fill="none"/>
<path d="M105.9 260.2h0M204.5 259.2h0M220.6 260.3h0M237.1 276.6h0M356.6 257.2h0" stroke="#f7a688" stroke-width="1.9" stroke-linecap="round" fill="none"/>
<path d="M215.2 255.5h3.2M216.8 253.9v3.2M230.7 257.1h3.2M232.3 255.5v3.2M209.7 270.5h3.2M211.3 268.9v3.2" stroke="#cf453c" stroke-width="0.9" fill="none"/>
<path d="M90.7 105.4h0M90.9 109.8h0M73.6 101.2h0M102.0 101.5h0M83.0 115.0h0M90.7 110.4h0M100.1 112.8h0M89.5 112.7h0M80.8 108.2h0M112.2 114.0h0M103.9 113.8h0M79.8 99.3h0M83.5 108.6h0M96.2 119.1h0M84.6 111.1h0M83.3 107.4h0M84.5 108.1h0M113.6 106.0h0M139.6 111.8h0M127.0 111.0h0M94.8 107.7h0M127.3 113.0h0M127.4 113.4h0M114.5 100.6h0M112.3 101.8h0M115.7 122.3h0M97.1 124.4h0M117.2 136.8h0M125.0 135.8h0M100.5 138.1h0M111.0 127.3h0M205.6 106.7h0M200.8 116.7h0M204.9 111.3h0M213.6 98.1h0M207.7 109.7h0M207.7 116.3h0M200.1 107.4h0M199.9 101.0h0M223.0 111.8h0M198.5 113.0h0M213.9 122.8h0M206.1 116.3h0M208.3 122.4h0M200.0 131.7h0M211.4 126.7h0M258.4 139.6h0M223.1 139.2h0M230.4 120.1h0M283.1 144.5h0M241.1 128.0h0M356.5 120.8h0M356.9 97.4h0M356.7 129.6h0M356.5 134.3h0M356.5 123.6h0M357.7 91.8h0M356.7 118.3h0M356.9 117.5h0M356.8 130.7h0M357.2 112.3h0M357.1 116.9h0M356.7 125.2h0M356.6 133.6h0M356.7 156.4h0M356.5 136.6h0M356.6 136.7h0M356.6 124.4h0M356.5 132.2h0M357.1 112.4h0M357.3 97.8h0M356.8 88.2h0M357.4 86.0h0M357.2 126.9h0M362.0 144.6h0M369.5 149.4h0M372.8 122.0h0M362.4 128.2h0" stroke="#0d0887" stroke-width="1.9" stroke-linecap="round" fill="none"/>
<path d="M102.9 138.6h3.2M104.5 137.0v3.2M208.5 127.5h3.2M210.1 125.9v3.2M288.4 139.3h3.2M290.0 137.7v3.2M209.7 136.5h3.2M211.3 134.9v3.2M357.2 123.8h3.2M358.8 122.2v3.2M373.5 133.5h3.2M375.1 131.9v3.2" stroke="#2c0594" stroke-width="0.9" fill="none"/>
<path d="M255.5 259.5h3.2M257.1 257.9v3.2" stroke="#f7a688" stroke-width="0.9" fill="none"/>
<path d="M104.7 104.6h0M122.2 121.9h0M130.7 109.6h0M115.6 112.3h0M152.3 103.9h0M145.7 104.9h0M116.2 108.1h0M127.2 105.9h0M138.7 114.3h0M134.8 102.2h0M153.3 105.0h0M115.6 116.7h0M212.3 104.8h0M210.7 104.3h0M210.4 103.0h0M233.8 99.4h0M250.2 111.6h0M244.9 106.8h0M293.8 113.2h0M219.6 110.4h0M228.9 107.8h0M262.5 106.1h0M224.5 109.1h0M293.4 115.9h0M358.2 114.1h0" stroke="#fad824" stroke-width="1.9" stroke-linecap="round" fill="none"/>
<path d="M108.7 250.6h0M91.8 248.6h0M106.6 246.5h0M84.8 244.8h0M77.5 235.1h0M130.1 241.1h0M113.3 241.8h0M96.3 235.4h0M109.0 262.1h0M117.4 280.6h0M118.5 264.0h0M62.5 236.3h0M200.8 242.4h0M226.2 245.4h0M205.6 240.7h0M206.7 233.8h0M210.4 238.2h0M199.7 238.5h0M215.5 236.8h0M203.6 247.8h0M212.1 243.4h0M210.1 240.6h0M198.9 231.4h0M212.6 238.3h0M199.4 257.7h0M209.7 248.0h0M213.8 263.9h0M229.2 260.4h0M252.1 255.2h0M356.4 252.0h0M357.6 232.4h0M356.4 228.3h0M356.4 237.4h0M356.9 203.7h0M356.4 211.5h0" stroke="#aac7fd" stroke-width="1.9" stroke-linecap="round" fill="none"/>
<path d="M90.6 244.3h0M95.3 247.0h0M84.4 242.5h0M116.4 241.1h0M108.2 232.8h0M109.7 239.1h0M108.7 241.0h0M116.8 248.3h0M147.2 248.9h0M123.8 257.9h0M110.4 221.3h0M93.7 257.7h0M109.4 257.9h0M212.0 232.5h0M202.0 248.7h0M217.1 250.2h0M213.0 241.6h0M218.4 234.4h0M212.2 230.6h0M205.2 239.1h0M212.2 249.6h0M222.6 239.4h0M209.7 257.1h0M220.8 244.3h0M211.3 223.8h0M208.9 246.6h0M214.5 253.1h0M209.3 249.8h0M208.4 229.6h0M204.9 248.3h0M204.3 229.3h0M214.9 260.5h0M199.0 258.2h0M211.3 252.3h0M213.7 259.2h0M356.9 228.3h0M357.1 239.4h0M356.5 251.7h0M357.0 232.9h0M357.7 251.2h0M356.4 248.0h0M356.4 246.4h0M356.6 221.9h0M356.4 222.9h0M356.6 235.1h0M356.4 211.4h0M357.2 233.8h0M357.4 220.0h0M356.5 205.2h0" stroke="#bbd1f8" stroke-width="1.9" stroke-linecap="round" fill="none"/>
<path d="M78.3 117.7h0M93.4 106.6h0M105.4 98.9h0M113.0 90.4h0M108.2 112.2h0M84.9 109.3h0M107.2 108.4h0M77.5 101.1h0M102.8 107.3h0M124.2 108.2h0M104.6 112.4h0M132.7 100.7h0M145.0 111.6h0M124.1 118.1h0M122.4 108.6h0M87.8 112.0h0M123.1 102.3h0M98.4 119.1h0M230.0 94.6h0M212.4 113.0h0M205.4 121.3h0M202.4 112.4h0M201.9 100.9h0M205.4 88.3h0M199.3 108.8h0M235.9 115.7h0M289.1 112.4h0M221.6 121.5h0M242.1 124.2h0M356.9 111.7h0M356.5 101.5h0M357.6 98.4h0M356.6 108.9h0M356.6 101.8h0M357.0 120.9h0M356.7 89.5h0M356.6 84.1h0" stroke="#ed7953" stroke-width="1.9" stroke-linecap="round" fill="none"/>
<path d="M102.9 272.6h3.2M104.5 271.0v3.2M356.9 268.6h3.2M358.5 267.0v3.2" stroke="#f59c7d" stroke-width="0.9" fill="none"/>
<path d="M95.3 257.6h3.2M96.9 256.0v3.2M364.0 243.3h3.2M365.6 241.7v3.2M372.1 249.3h3.2M373.7 247.7v3.2M365.3 251.2h3.2M366.9 249.6v3.2" stroke="#7396f5" stroke-width="0.9" fill="none"/>
<path d="M149.3 118.7h3.2M150.9 117.1v3.2M205.0 109.9h3.2M206.6 108.3v3.2M205.9 133.4h3.2M207.5 131.8v3.2M198.3 137.1h3.2M199.9 135.5v3.2M210.1 77.1h3.2M211.7 75.5v3.2M362.3 113.4h3.2M363.9 111.8v3.2M371.6 72.3h3.2M373.2 70.8v3.2" stroke="#b42e8d" stroke-width="0.9" fill="none"/>
<path d="M203.7 229.9h3.2M205.3 228.3v3.2M216.5 235.6h3.2M218.1 234.0v3.2" stroke="#7396f5" stroke-width="0.9" fill="none"/>
<path d="M109.9 249.9h0M80.1 244.2h0M102.1 246.2h0M97.9 243.2h0M97.5 256.1h0M110.6 247.4h0M93.8 242.0h0M90.8 240.6h0M104.1 234.3h0M144.7 243.2h0M132.8 242.0h0M129.7 248.5h0M118.6 255.6h0M111.1 231.7h0M122.5 227.2h0M79.4 229.9h0M130.7 257.2h0M74.6 211.6h0M202.9 250.3h0M202.1 248.9h0M200.0 234.7h0M207.1 243.5h0M199.3 242.8h0M202.9 244.2h0M204.8 247.4h0M235.4 246.1h0M243.5 242.8h0M249.8 257.1h0M266.1 265.8h0M213.3 254.2h0M272.0 225.2h0M356.7 245.9h0M356.7 238.4h0M356.6 211.7h0M356.7 228.7h0M358.2 243.5h0M386.8 229.0h0" stroke="#7da0f9" stroke-width="1.9" stroke-linecap="round" fill="none"/>
<path d="M100.6 109.8h0M93.2 94.4h0M82.8 122.7h0M111.3 119.2h0M46.2 109.4h0M199.6 109.5h0M202.6 121.4h0M356.7 122.9h0M356.5 98.8h0M356.8 118.7h0M356.6 99.8h0M356.6 86.8h0" stroke="#a31e9a" stroke-width="1.9" stroke-linecap="round" fill="none"/>
<path d="M103.8 109.3h0M112.0 103.1h0M92.0 103.0h0M131.4 116.3h0M120.3 108.3h0M110.5 112.5h0M99.0 121.2h0M109.2 118.3h0M116.3 121.7h0M105.2 125.7h0M114.7 120.4h0M97.9 140.1h0M107.6 148.3h0M205.0 111.0h0M228.2 103.1h0M210.1 106.6h0M214.5 121.7h0M201.6 99.0h0M203.7 104.4h0M219.8 115.8h0M198.6 104.9h0M213.2 109.0h0M198.9 122.0h0M203.0 130.2h0M204.3 121.2h0M241.0 125.6h0M218.3 132.5h0M357.3 132.4h0M357.1 122.3h0M356.6 122.4h0M356.4 137.3h0M356.8 87.5h0M357.0 73.1h0M356.4 85.6h0M370.1 140.9h0" stroke="#1d068e" stroke-width="1.9" stroke-linecap="round" fill="none"/>
<path d="M88.7 92.5h0M113.8 98.4h0M208.1 115.1h0M200.6 107.0h0M220.2 127.7h0M209.7 118.4h0M207.6 72.5h0M357.2 128.6h0M356.7 133.9h0M356.9 122.9h0M356.4 103.8h0" stroke="#8004a8" stroke-width="1.9" stroke-linecap="round" fill="none"/>
<path d="M97.3 252.5h0M103.5 243.2h0M84.5 242.1h0M139.3 241.5h0M117.5 242.4h0M114.4 251.9h0M97.7 241.7h0M128.1 235.7h0M171.7 248.0h0M79.6 225.6h0M99.5 210.8h0M100.0 255.1h0M84.0 256.5h0M209.6 232.8h0M201.0 237.4h0M206.9 254.5h0M201.6 236.8h0M199.0 232.7h0M210.1 244.5h0M211.0 236.4h0M206.2 241.5h0M205.9 238.2h0M198.7 245.2h0M213.2 247.2h0M207.9 257.0h0M356.4 239.1h0M356.5 243.7h0M357.1 252.5h0M356.5 235.1h0M356.7 245.3h0M356.5 246.4h0M357.3 251.4h0M357.2 250.1h0M356.5 239.2h0M356.7 254.2h0M356.7 246.3h0M356.8 254.0h0M356.8 230.8h0M357.0 207.1h0M356.8 223.3h0M357.3 235.7h0M356.4 225.4h0" stroke="#c4d5f3" stroke-width="1.9" stroke-linecap="round" fill="none"/>
<path d="M121.5 266.1h0M110.9 268.5h0M275.2 255.9h0M357.3 258.1h0M356.9 262.4h0M361.9 238.3h0" stroke="#ee8669" stroke-width="1.9" stroke-linecap="round" fill="none"/>
<path d="M198.3 271.1h3.2M199.9 269.5v3.2" stroke="#f3c7b1" stroke-width="0.9" fill="none"/>
<path d="M114.7 136.2h3.2M116.3 134.6v3.2" stroke="#bb3488" stroke-width="0.9" fill="none"/>
<path d="M109.1 231.8h3.2M110.7 230.2v3.2M117.4 272.4h3.2M119.0 270.8v3.2M197.5 251.8h3.2M199.1 250.2v3.2M205.0 243.9h3.2M206.6 242.3v3.2M371.6 206.3h3.2M373.2 204.8v3.2" stroke="#a1c0ff" stroke-width="0.9" fill="none"/>
<path d="M114.1 97.7h0M234.4 122.9h0M357.4 128.9h0M356.6 94.4h0" stroke="#6c00a8" stroke-width="1.9" stroke-linecap="round" fill="none"/>
<path d="M77.0 239.5h0M96.2 235.4h0M107.2 236.1h0M102.8 246.6h0M96.1 235.7h0M81.3 241.9h0M109.8 244.8h0M118.4 243.9h0M93.9 247.5h0M113.0 224.4h0M91.8 249.4h0M98.2 252.6h0M103.7 241.6h0M102.6 245.7h0M89.9 246.9h0M94.6 249.1h0M88.8 248.0h0M95.9 238.8h0M84.1 241.0h0M108.7 241.1h0M115.4 248.0h0M95.8 241.5h0M115.7 251.5h0M130.2 233.4h0M120.0 246.0h0M132.0 248.4h0M125.1 253.1h0M125.5 243.1h0M123.1 255.8h0M124.6 234.4h0M149.0 243.7h0M143.3 242.9h0M115.9 255.7h0M148.1 238.7h0M129.3 242.6h0M150.0 241.9h0M118.2 252.9h0M127.8 246.8h0M135.2 240.5h0M134.9 242.0h0M134.2 248.1h0M134.4 240.7h0M128.2 254.8h0M119.4 249.7h0M70.8 244.0h0M204.1 253.0h0M201.8 245.4h0M263.7 239.9h0M272.3 254.2h0M244.6 244.2h0M223.1 244.7h0M231.0 246.7h0M242.1 248.4h0M224.9 250.2h0M230.4 251.5h0M356.6 245.8h0M356.8 228.9h0M359.1 253.3h0" stroke="#3b4cc0" stroke-width="1.9" stroke-linecap="round" fill="none"/>
<path d="M94.9 239.4h3.2M96.5 237.8v3.2M102.3 244.7h3.2M103.9 243.1v3.2M67.6 244.1h3.2M69.2 242.5v3.2M261.7 260.4h3.2M263.3 258.8v3.2M210.4 259.9h3.2M212.0 258.3v3.2M355.3 254.2h3.2M356.9 252.6v3.2M365.2 245.7h3.2M366.8 244.1v3.2M363.0 247.2h3.2M364.6 245.6v3.2" stroke="#3b4cc0" stroke-width="0.9" fill="none"/>
<path d="M116.2 259.8h0M111.0 261.3h0M205.7 242.3h0M238.9 248.5h0M240.8 256.9h0M265.0 263.1h0M356.9 264.7h0M357.4 258.4h0M363.3 242.9h0" stroke="#e97a5f" stroke-width="1.9" stroke-linecap="round" fill="none"/>
<path d="M105.6 274.0h3.2M107.2 272.4v3.2M244.4 256.5h3.2M246.0 254.9v3.2M258.0 290.5h3.2M259.6 288.9v3.2" stroke="#e46e56" stroke-width="0.9" fill="none"/>
<path d="M103.0 113.4h0M105.0 116.2h0M96.5 109.1h0M109.4 113.6h0M107.6 108.9h0M97.2 105.4h0M143.0 109.7h0M141.9 116.9h0M125.5 109.1h0M124.6 100.4h0M111.0 108.1h0M136.6 109.0h0M139.8 118.1h0M133.2 112.0h0M144.5 118.1h0M120.2 105.6h0M128.1 101.7h0M127.7 111.3h0M129.1 106.8h0M124.6 114.0h0M118.5 97.5h0M132.7 114.5h0M136.1 103.1h0M146.2 107.9h0M127.8 111.2h0M141.9 104.9h0M143.5 113.0h0M198.8 113.5h0M206.4 106.6h0M218.9 104.5h0M198.9 104.7h0M268.2 117.1h0M259.1 103.5h0M272.3 120.2h0M239.1 107.1h0M240.6 111.3h0M294.9 118.7h0M272.8 121.6h0M220.5 115.4h0M223.1 110.7h0M228.5 112.2h0M261.8 102.2h0M221.6 100.9h0M245.8 107.7h0M223.0 113.9h0M269.2 117.8h0M244.8 125.6h0M270.2 117.2h0M276.0 113.6h0M233.0 110.0h0M254.0 115.2h0M222.5 110.8h0M356.8 103.2h0M357.7 117.2h0M377.8 106.1h0M359.1 113.3h0M434.1 98.5h0" stroke="#fdc328" stroke-width="1.9" stroke-linecap="round" fill="none"/>
<path d="M94.9 113.4h0M91.7 112.0h0M89.9 109.3h0M109.9 115.9h0M90.3 111.6h0M93.5 124.2h0M83.9 99.8h0M113.4 109.3h0M102.7 116.2h0M81.0 115.4h0M92.7 108.7h0M111.8 110.3h0M87.8 109.6h0M109.8 115.0h0M104.0 111.8h0M74.3 103.9h0M118.3 119.1h0M117.0 113.8h0M117.4 99.8h0M124.9 106.8h0M136.3 108.7h0M122.8 109.2h0M112.4 109.4h0M123.8 108.5h0M128.5 107.5h0M108.0 108.1h0M138.4 114.3h0M148.2 106.0h0M131.6 110.7h0M162.5 112.1h0M87.9 95.6h0M72.2 121.4h0M213.2 93.4h0M205.6 110.2h0M203.2 108.3h0M232.4 100.5h0M213.7 102.3h0M205.8 119.7h0M201.3 98.2h0M201.1 123.5h0M236.2 93.2h0M216.8 102.8h0M209.7 106.4h0M206.3 110.9h0M215.9 97.2h0M201.8 111.4h0M211.0 102.4h0M218.1 106.9h0M200.2 106.4h0M199.8 102.0h0M226.2 114.5h0M219.9 107.6h0M271.1 120.0h0M283.7 111.5h0M227.6 106.6h0M289.4 107.1h0M207.0 129.3h0M208.8 122.8h0M249.8 123.1h0M229.3 129.5h0M356.5 102.2h0M356.6 121.1h0M356.8 102.7h0M357.5 78.9h0M356.7 86.2h0M376.8 103.4h0M361.6 105.9h0" stroke="#f79342" stroke-width="1.9" stroke-linecap="round" fill="none"/>
<path d="M95.7 112.2h0M113.0 115.7h0M115.9 116.7h0M90.3 119.0h0M108.7 104.7h0M87.5 118.1h0M92.5 114.0h0M109.5 104.5h0M110.6 103.6h0M94.6 115.1h0M98.9 109.2h0M96.3 104.9h0M111.4 110.7h0M90.8 106.6h0M126.5 104.8h0M110.4 112.0h0M146.7 105.3h0M142.5 110.8h0M135.8 105.9h0M134.9 111.8h0M142.9 106.9h0M142.3 109.7h0M106.5 103.7h0M110.7 112.0h0M124.5 113.3h0M124.7 109.6h0M145.7 110.9h0M142.7 109.9h0M127.0 117.9h0M86.7 125.6h0M112.3 125.6h0M210.1 108.6h0M207.0 102.6h0M203.8 103.0h0M220.9 115.1h0M215.4 102.6h0M208.4 95.6h0M217.4 111.8h0M210.1 103.2h0M212.8 102.2h0M204.8 108.7h0M202.9 102.9h0M202.9 121.1h0M257.7 118.6h0M228.8 100.5h0M234.0 120.9h0M275.3 116.9h0M225.9 119.3h0M295.6 105.2h0M230.4 117.5h0M247.7 103.2h0M244.9 128.4h0M270.2 89.2h0M226.4 90.5h0M357.2 109.3h0M357.0 107.0h0M356.6 113.0h0M356.8 113.1h0M356.7 117.9h0" stroke="#fdaf31" stroke-width="1.9" stroke-linecap="round" fill="none"/>
<path d="M113.7 117.3h0M130.3 118.6h0M124.7 113.7h0M120.7 113.6h0M129.9 118.3h0M157.8 107.0h0M143.5 104.3h0M257.0 120.5h0M273.7 107.9h0M278.6 108.2h0M253.6 117.3h0M233.0 103.2h0M357.2 119.5h0M361.9 104.3h0M359.1 102.6h0" stroke="#f3ee27" stroke-width="1.9" stroke-linecap="round" fill="none"/>
<path d="M100.1 246.8h0M87.6 250.8h0M115.2 250.5h0M116.7 250.2h0M124.5 247.3h0M112.8 235.9h0M137.7 241.2h0M93.1 222.6h0M114.8 224.6h0M116.3 255.7h0M222.7 250.5h0M201.1 234.9h0M206.8 234.7h0M219.9 252.9h0M200.3 244.6h0M200.0 246.6h0M203.4 248.2h0M234.8 239.5h0M198.8 247.5h0M213.6 248.8h0M211.7 244.3h0M211.5 246.1h0M204.2 233.2h0M199.9 243.4h0M200.1 251.7h0M199.4 234.6h0M215.8 251.7h0M202.4 248.2h0M212.8 236.2h0M201.0 235.6h0M202.6 255.4h0M213.1 258.2h0M213.8 257.8h0M212.3 209.2h0M356.5 244.6h0M356.6 241.5h0M357.5 252.2h0M356.8 236.7h0M356.8 254.1h0M357.4 228.9h0M356.4 246.3h0M356.7 208.2h0M356.5 219.8h0" stroke="#b2ccfb" stroke-width="1.9" stroke-linecap="round" fill="none"/>
<path d="M97.5 127.7h3.2M99.1 126.1v3.2M223.5 113.4h3.2M225.1 111.8v3.2M262.4 128.6h3.2M264.0 127.0v3.2M361.6 101.0h3.2M363.2 99.4v3.2" stroke="#fdaf31" stroke-width="0.9" fill="none"/>
<path d="M96.8 94.7h0M106.3 123.4h0M220.6 110.1h0M207.7 118.4h0M199.1 137.7h0M208.5 126.3h0M356.5 117.7h0" stroke="#9c179e" stroke-width="1.9" stroke-linecap="round" fill="none"/>
<path d="M105.0 111.7h0M102.4 101.4h0M83.5 110.5h0M95.2 127.5h0M237.2 131.7h0M356.8 147.4h0M356.4 132.0h0M362.9 145.0h0" stroke="#b42e8d" stroke-width="1.9" stroke-linecap="round" fill="none"/>
<path d="M354.8 131.6h3.2M356.4 130.0v3.2" stroke="#6100a7" stroke-width="0.9" fill="none"/>
<path d="M92.5 233.0h3.2M94.1 231.4v3.2M126.2 238.7h3.2M127.8 237.1v3.2M121.6 244.2h3.2M123.2 242.6v3.2M121.0 247.9h3.2M122.6 246.3v3.2M129.4 244.1h3.2M131.0 242.5v3.2M208.4 259.3h3.2M210.0 257.7v3.2" stroke="#5a78e4" stroke-width="0.9" fill="none"/>
<path d="M236.3 267.5h3.2M237.9 265.9v3.2" stroke="#f59c7d" stroke-width="0.9" fill="none"/>
<path d="M201.4 264.9h0M357.2 276.7h0M357.0 261.5h0M361.1 229.8h0" stroke="#f7b89c" stroke-width="1.9" stroke-linecap="round" fill="none"/>
<path d="M103.0 247.4h0M88.7 244.2h0M113.0 237.5h0M113.7 251.3h0M111.1 246.1h0M81.6 244.5h0M107.8 252.9h0M93.2 239.1h0M96.5 243.1h0M91.8 249.8h0M108.0 236.0h0M104.7 253.7h0M92.4 248.0h0M87.9 247.8h0M89.6 238.2h0M91.0 250.0h0M84.9 243.3h0M109.5 240.6h0M97.0 246.8h0M99.7 242.0h0M109.2 246.4h0M106.9 247.5h0M107.6 243.4h0M96.5 239.2h0M82.4 246.3h0M105.3 243.9h0M80.3 249.4h0M92.2 235.6h0M89.2 232.0h0M104.0 245.8h0M87.3 253.9h0M101.9 242.4h0M84.6 245.1h0M85.7 241.1h0M94.8 249.1h0M117.7 245.5h0M110.4 246.0h0M127.5 244.2h0M94.8 241.7h0M133.7 245.3h0M121.9 241.0h0M101.4 240.1h0M128.7 241.4h0M155.3 244.4h0M126.3 238.4h0M120.4 235.3h0M131.8 244.2h0M103.3 236.1h0M104.7 241.0h0M126.3 245.0h0M136.8 246.5h0M122.6 251.7h0M128.7 242.7h0M142.2 239.4h0M143.1 247.8h0M130.0 248.4h0M142.7 243.9h0M129.9 247.6h0M131.1 245.3h0M203.9 244.4h0M199.3 253.4h0M207.0 236.2h0M206.0 242.5h0M207.1 235.1h0M268.7 242.9h0M276.0 258.6h0M255.2 242.2h0M278.1 253.2h0M259.0 242.6h0M296.2 243.9h0M260.1 234.7h0M245.9 245.2h0M220.9 246.2h0M246.2 239.9h0M292.8 248.0h0M283.6 240.9h0M230.9 243.3h0M219.7 244.2h0M310.9 231.0h0M292.1 238.2h0M284.8 239.7h0M356.5 246.4h0M356.6 228.4h0M356.5 235.4h0M359.6 249.0h0M363.3 246.5h0" stroke="#4a63d3" stroke-width="1.9" stroke-linecap="round" fill="none"/>
<path d="M108.4 237.1h0M146.7 239.3h0M128.9 258.2h0M107.4 254.7h0M200.8 238.8h0M212.3 247.5h0M200.0 230.8h0M219.8 240.2h0M200.8 263.9h0M200.9 266.8h0M235.6 257.6h0M254.9 257.4h0M199.1 271.7h0M273.1 281.1h0M357.0 257.8h0M356.5 281.0h0M356.4 260.2h0M356.4 275.9h0M357.0 259.7h0M360.5 268.4h0M369.5 283.4h0M371.1 255.8h0" stroke="#cf453c" stroke-width="1.9" stroke-linecap="round" fill="none"/>
<path d="M107.4 113.8h0M102.9 105.5h0M106.5 123.5h0M103.7 107.6h0M104.6 102.0h0M89.8 108.1h0M141.0 105.1h0M120.2 104.1h0M124.7 111.1h0M110.5 110.8h0M121.9 107.0h0M113.3 118.2h0M123.8 105.1h0M134.2 114.1h0M138.7 111.2h0M154.8 106.9h0M147.5 113.8h0M119.4 115.7h0M129.8 112.5h0M134.0 105.7h0M136.0 118.5h0M134.7 107.1h0M148.1 109.2h0M212.4 116.3h0M210.1 108.8h0M217.3 104.5h0M204.2 99.1h0M202.0 111.3h0M205.9 104.2h0M251.3 104.1h0M233.6 108.1h0M227.2 111.6h0M263.5 105.7h0M285.2 107.2h0M259.0 108.6h0M228.7 109.9h0M356.4 85.5h0" stroke="#fdc328" stroke-width="1.9" stroke-linecap="round" fill="none"/>
<path d="M123.3 248.9h3.2M124.9 247.3v3.2M122.0 267.1h3.2M123.6 265.5v3.2M363.2 237.4h3.2M364.8 235.8v3.2M379.9 263.7h3.2M381.5 262.1v3.2" stroke="#de614d" stroke-width="0.9" fill="none"/>
<path d="M219.1 258.9h3.2M220.7 257.3v3.2M236.8 251.8h3.2M238.4 250.2v3.2M364.9 254.5h3.2M366.5 252.9v3.2M373.5 267.5h3.2M375.1 265.9v3.2M367.6 261.5h3.2M369.2 259.9v3.2" stroke="#cf453c" stroke-width="0.9" fill="none"/>
<path d="M203.5 260.5h3.2M205.1 258.9v3.2M254.8 263.0h3.2M256.4 261.4v3.2M253.5 276.8h3.2M255.1 275.2v3.2" stroke="#f7b89c" stroke-width="0.9" fill="none"/>
<path d="M154.7 97.8h3.2M156.3 96.2v3.2M51.4 121.8h3.2M53.0 120.2v3.2M211.1 133.7h3.2M212.7 132.1v3.2" stroke="#920fa3" stroke-width="0.9" fill="none"/>
<path d="M355.0 114.6h3.2M356.6 113.0v3.2M358.5 112.6h3.2M360.1 111.0v3.2" stroke="#bb3488" stroke-width="0.9" fill="none"/>
<path d="M214.7 248.2h3.2M216.3 246.6v3.2M209.3 256.7h3.2M210.9 255.1v3.2" stroke="#6b8df0" stroke-width="0.9" fill="none"/>
<path d="M361.2 235.5h3.2M362.8 233.9v3.2" stroke="#ecd3c5" stroke-width="0.9" fill="none"/>
<path d="M100.3 253.0h0M109.2 256.3h0M114.1 248.6h0M103.8 237.2h0M102.9 249.1h0M98.4 236.6h0M127.6 245.1h0M101.3 231.9h0M99.9 225.7h0M95.0 228.3h0M82.6 254.8h0M135.9 263.0h0M215.4 245.8h0M202.6 243.7h0M220.7 236.8h0M206.8 238.9h0M202.6 237.8h0M203.3 229.8h0M207.7 236.1h0M201.6 246.6h0M239.4 240.8h0M218.0 230.2h0M200.5 229.5h0M214.2 241.1h0M210.4 246.3h0M198.4 244.6h0M205.5 257.4h0M205.1 251.5h0M204.4 250.3h0M203.8 267.2h0M357.0 249.2h0M356.6 228.5h0M356.6 237.6h0M357.0 241.3h0M357.1 233.1h0M356.6 247.7h0M356.4 248.5h0M356.6 240.0h0M356.6 248.7h0M356.6 246.5h0M356.8 225.8h0M357.2 208.2h0M356.5 209.1h0M356.4 219.6h0" stroke="#b2ccfb" stroke-width="1.9" stroke-linecap="round" fill="none"/>
<path d="M105.9 126.9h3.2M107.5 125.3v3.2M85.6 137.7h3.2M87.2 136.1v3.2M63.2 94.9h3.2M64.8 93.3v3.2M205.8 128.5h3.2M207.4 126.9v3.2M355.2 100.8h3.2M356.8 99.2v3.2M368.2 120.8h3.2M369.8 119.2v3.2" stroke="#ed7953" stroke-width="0.9" fill="none"/>
<path d="M90.7 108.8h3.2M92.3 107.2v3.2M98.9 114.2h3.2M100.5 112.6v3.2M101.0 134.0h3.2M102.6 132.4v3.2M235.6 115.7h3.2M237.2 114.1v3.2M364.2 113.9h3.2M365.8 112.3v3.2" stroke="#d45270" stroke-width="0.9" fill="none"/>
<path d="M124.4 245.0h0M114.1 272.3h0M201.1 257.5h0M205.7 232.8h0M229.8 246.6h0M198.4 234.0h0M293.5 252.9h0M200.0 259.5h0M263.2 281.6h0M198.6 265.1h0M212.4 264.0h0M356.7 270.0h0" stroke="#cf453c" stroke-width="1.9" stroke-linecap="round" fill="none"/>
<path d="M116.6 255.4h3.2M118.2 253.8v3.2" stroke="#f29274" stroke-width="0.9" fill="none"/>
<path d="M105.1 259.2h0M100.4 234.7h0M102.0 235.5h0M89.5 244.9h0M109.2 242.6h0M112.2 248.0h0M106.2 239.7h0M162.4 242.4h0M142.5 244.8h0M131.4 250.3h0M122.8 242.5h0M101.1 245.3h0M127.0 245.8h0M141.3 247.7h0M113.9 249.7h0M123.2 240.0h0M143.8 240.5h0M140.4 228.4h0M155.7 241.0h0M111.3 230.8h0M95.7 210.7h0M156.6 262.6h0M59.5 242.7h0M225.3 226.3h0M199.0 246.3h0M215.8 238.9h0M206.6 242.0h0M213.1 241.8h0M231.8 235.9h0M207.6 206.5h0M240.2 237.1h0M357.0 215.1h0M357.3 255.0h0M364.8 252.2h0M364.7 236.1h0M376.9 250.7h0M401.6 256.5h0" stroke="#7da0f9" stroke-width="1.9" stroke-linecap="round" fill="none"/>
<path d="M95.0 94.3h0M115.4 125.9h0M200.8 108.4h0M220.7 102.8h0M203.4 114.2h0M225.3 114.8h0M357.3 135.9h0M357.3 127.9h0" stroke="#ac2694" stroke-width="1.9" stroke-linecap="round" fill="none"/>
<path d="M96.9 245.9h0M102.7 242.6h0M141.6 240.1h0M99.2 210.4h0M109.5 251.9h0M199.9 254.0h0M204.9 242.5h0M201.0 242.7h0M200.8 237.1h0M206.2 239.9h0M203.8 243.9h0M228.4 236.7h0M213.7 236.3h0M218.4 247.5h0M213.7 251.3h0M236.6 248.1h0M222.2 237.4h0M232.3 244.3h0M200.1 241.4h0M210.2 241.1h0M207.0 263.3h0M200.9 258.0h0M356.6 246.6h0M356.7 244.0h0M356.7 239.7h0M357.2 252.6h0M356.9 242.4h0M356.6 252.5h0M357.0 249.5h0M356.5 255.6h0M356.6 234.3h0M357.0 243.3h0M356.7 248.0h0M356.5 246.8h0M356.7 223.5h0M356.9 219.9h0M357.2 215.7h0M356.5 213.7h0M356.5 217.9h0M356.7 204.8h0M356.6 211.5h0M356.7 233.8h0M356.4 209.2h0M356.5 211.1h0" stroke="#c4d5f3" stroke-width="1.9" stroke-linecap="round" fill="none"/>
<path d="M91.8 248.7h0M81.5 236.4h0M221.2 245.4h0M219.6 257.9h0M219.5 257.8h0M262.9 258.3h0M263.0 253.3h0M244.0 262.3h0M265.8 264.6h0M290.2 255.9h0M356.7 261.8h0M359.7 238.0h0" stroke="#d75445" stroke-width="1.9" stroke-linecap="round" fill="none"/>
<path d="M132.4 251.5h0M146.7 243.7h0M98.7 260.6h0M120.0 278.3h0M123.5 268.0h0M218.2 253.9h0M219.7 239.8h0M255.3 242.2h0M202.6 265.8h0M204.7 252.6h0M200.0 255.9h0M260.7 256.9h0M356.7 263.6h0" stroke="#de614d" stroke-width="1.9" stroke-linecap="round" fill="none"/>
<path d="M84.8 102.1h3.2M86.4 100.5v3.2M107.0 131.2h3.2M108.6 129.6v3.2" stroke="#c23c81" stroke-width="0.9" fill="none"/>
<path d="M221.7 109.7h3.2M223.3 108.1v3.2M355.4 89.1h3.2M357.0 87.5v3.2" stroke="#8a09a5" stroke-width="0.9" fill="none"/>
<path d="M208.5 261.5h3.2M210.1 259.9v3.2" stroke="#e0dbd8" stroke-width="0.9" fill="none"/>
<path d="M93.4 109.5h0M118.6 91.3h0M116.5 104.9h0M92.5 90.5h0M95.9 90.8h0M204.9 107.4h0M218.4 106.3h0M357.3 124.1h0M356.4 126.9h0M357.0 123.8h0M357.2 112.3h0M356.6 110.6h0M356.4 125.3h0M356.7 114.2h0M356.6 91.4h0M356.5 70.5h0M356.9 87.7h0M356.8 94.9h0M357.2 100.2h0M356.7 100.2h0M364.1 145.0h0M418.1 113.5h0" stroke="#c23c81" stroke-width="1.9" stroke-linecap="round" fill="none"/>
<path d="M121.9 107.6h3.2M123.5 106.0v3.2M361.7 102.9h3.2M363.3 101.3v3.2" stroke="#f0f921" stroke-width="0.9" fill="none"/>
<path d="M94.6 116.2h3.2M96.2 114.6v3.2M130.8 115.4h3.2M132.4 113.8v3.2M103.7 88.2h3.2M105.3 86.6v3.2M205.4 99.8h3.2M207.0 98.2v3.2M223.8 113.1h3.2M225.4 111.5v3.2M218.7 105.1h3.2M220.3 103.5v3.2M383.0 105.6h3.2M384.6 104.0v3.2" stroke="#fca537" stroke-width="0.9" fill="none"/>
<path d="M209.2 98.7h3.2M210.8 97.1v3.2M365.5 108.1h3.2M367.1 106.5v3.2M355.7 108.5h3.2M357.3 106.9v3.2M432.5 114.4h3.2M434.1 112.8v3.2" stroke="#d45270" stroke-width="0.9" fill="none"/>
<path d="M90.9 110.9h0M123.1 109.8h0M87.4 111.5h0M76.3 124.9h0M102.9 118.2h0M89.7 125.5h0M92.6 108.2h0M102.5 118.8h0M113.8 107.4h0M91.3 111.9h0M117.3 114.3h0M107.7 114.1h0M92.4 99.1h0M81.5 102.4h0M143.2 109.8h0M125.0 116.6h0M101.1 111.3h0M117.0 111.2h0M96.7 94.1h0M109.5 117.9h0M102.8 123.2h0M209.9 101.8h0M205.2 116.1h0M204.8 118.0h0M202.1 119.6h0M202.0 109.2h0M223.7 98.0h0M212.2 115.6h0M209.3 111.0h0M199.1 108.2h0M206.0 104.9h0M201.6 112.6h0M204.0 106.5h0M204.4 116.3h0M199.1 97.9h0M255.1 115.8h0M253.0 115.2h0M253.4 112.9h0M279.3 114.5h0M264.8 113.6h0M246.2 105.9h0M223.1 101.6h0M201.9 122.5h0M244.5 125.5h0M250.4 86.7h0M356.8 121.9h0M356.7 127.1h0M356.6 118.2h0M357.1 119.5h0M357.1 103.1h0M357.0 87.5h0M356.5 93.0h0M356.6 89.0h0M356.9 71.0h0M372.7 117.9h0" stroke="#e97158" stroke-width="1.9" stroke-linecap="round" fill="none"/>
<path d="M113.7 244.0h0M95.8 245.7h0M72.9 248.6h0M109.4 243.9h0M113.4 242.0h0M78.5 246.7h0M91.9 243.5h0M115.8 234.1h0M148.2 248.3h0M113.7 244.5h0M118.4 248.8h0M119.6 241.0h0M112.6 244.3h0M87.9 229.6h0M117.4 229.3h0M113.4 229.6h0M85.1 227.4h0M86.7 259.6h0M69.5 240.3h0M200.0 249.2h0M201.3 252.0h0M204.8 247.4h0M213.6 234.7h0M202.8 242.9h0M200.3 253.9h0M218.8 232.9h0M225.5 235.5h0M207.4 238.0h0M224.5 250.1h0M212.4 258.4h0M198.7 253.2h0M219.8 255.4h0M217.3 210.7h0M198.6 222.5h0M357.0 246.6h0M364.2 234.5h0" stroke="#98b9ff" stroke-width="1.9" stroke-linecap="round" fill="none"/>
<path d="M99.5 231.5h0M94.6 248.9h0M135.4 241.2h0M131.1 255.6h0M105.3 262.4h0M106.0 255.0h0M109.4 267.8h0M131.0 265.2h0M122.3 276.4h0M119.3 265.3h0M83.2 269.1h0M203.9 227.5h0M215.7 258.0h0M198.6 243.4h0M266.2 250.3h0M246.0 259.2h0M254.1 262.3h0M399.3 267.2h0M382.8 288.4h0" stroke="#d75445" stroke-width="1.9" stroke-linecap="round" fill="none"/>
<path d="M103.9 128.5h3.2M105.5 126.9v3.2M117.4 138.4h3.2M119.0 136.8v3.2M216.9 137.3h3.2M218.5 135.7v3.2" stroke="#8004a8" stroke-width="0.9" fill="none"/>
<path d="M205.6 110.0h0M214.1 124.4h0M244.0 128.3h0M357.6 72.9h0M356.8 94.9h0" stroke="#920fa3" stroke-width="1.9" stroke-linecap="round" fill="none"/>
<path d="M112.8 137.0h0M207.2 106.1h0M209.0 112.8h0M244.9 121.7h0M357.0 115.2h0" stroke="#6100a7" stroke-width="1.9" stroke-linecap="round" fill="none"/>
<path d="M116.5 252.3h3.2M118.1 250.7v3.2M95.2 228.1h3.2M96.8 226.5v3.2M109.0 259.0h3.2M110.6 257.4v3.2M355.2 243.2h3.2M356.8 241.6v3.2M355.7 253.1h3.2M357.3 251.5v3.2M355.0 235.3h3.2M356.6 233.7v3.2" stroke="#cbd8ee" stroke-width="0.9" fill="none"/>
<path d="M117.2 271.9h0M270.3 282.7h0M357.5 260.2h0M357.6 270.7h0M356.9 272.2h0" stroke="#f3c7b1" stroke-width="1.9" stroke-linecap="round" fill="none"/>
<path d="M100.2 242.6h0M129.1 243.3h0M105.9 228.0h0M76.4 254.7h0M127.1 255.6h0M357.4 262.9h0M357.1 256.3h0M356.4 258.3h0M356.6 237.7h0M357.1 257.3h0M356.9 247.7h0M356.9 217.2h0" stroke="#e0dbd8" stroke-width="1.9" stroke-linecap="round" fill="none"/>
<path d="M92.5 92.8h3.2M94.1 91.2v3.2M355.3 72.3h3.2M356.9 70.7v3.2M355.6 92.7h3.2M357.2 91.1v3.2" stroke="#920fa3" stroke-width="0.9" fill="none"/>
<path d="M106.5 250.7h0M112.4 242.5h0M129.5 245.8h0M212.4 250.3h0M201.5 240.2h0M213.3 252.9h0M201.4 234.4h0M200.3 229.3h0M202.4 230.8h0M201.9 237.4h0M219.8 249.8h0M215.8 251.1h0M199.8 236.0h0M212.2 254.9h0M216.9 261.0h0M201.9 256.5h0M208.9 217.5h0M210.3 206.8h0M356.8 214.4h0M356.8 231.8h0M357.0 277.2h0M357.7 225.8h0M356.6 245.9h0M356.9 237.5h0M356.6 233.8h0M357.0 252.3h0M356.6 252.9h0M357.2 210.4h0M357.5 239.0h0M356.5 208.7h0M356.7 204.9h0M359.3 257.0h0" stroke="#cbd8ee" stroke-width="1.9" stroke-linecap="round" fill="none"/>
<path d="M71.0 247.9h0M87.8 243.6h0M85.9 242.0h0M117.0 259.6h0M97.9 254.3h0M108.1 256.5h0M204.5 247.1h0M220.5 233.9h0M217.8 260.7h0M206.6 259.7h0M356.4 283.7h0M357.4 243.9h0" stroke="#e97a5f" stroke-width="1.9" stroke-linecap="round" fill="none"/>
<path d="M74.2 248.8h0M116.5 238.9h0M90.0 249.5h0M100.8 252.4h0M129.8 247.9h0M123.3 241.8h0M157.8 241.0h0M144.6 248.3h0M127.6 240.7h0M117.2 270.8h0M209.4 252.9h0M212.2 252.9h0M218.0 242.8h0M215.9 248.4h0M199.1 249.9h0M210.0 234.1h0M210.0 243.7h0M215.1 255.4h0M210.1 242.8h0M209.0 244.4h0M218.0 237.7h0M219.3 240.4h0M220.9 249.1h0M219.6 259.2h0M199.1 242.2h0M199.5 233.7h0M240.7 245.0h0M202.4 248.9h0M214.5 240.4h0M204.6 242.3h0M212.2 246.8h0M219.3 230.2h0M213.2 241.1h0M203.6 246.9h0M204.9 266.3h0M208.8 256.8h0M201.7 261.4h0M211.6 259.7h0M212.6 256.8h0M356.6 253.8h0M356.8 237.2h0M356.4 230.7h0M357.2 217.3h0" stroke="#aac7fd" stroke-width="1.9" stroke-linecap="round" fill="none"/>
<path d="M227.5 258.8h0M221.7 224.9h0M356.8 281.4h0M356.9 265.2h0" stroke="#ecd3c5" stroke-width="1.9" stroke-linecap="round" fill="none"/>
<path d="M113.6 240.0h0M99.1 226.1h0M100.3 274.2h0M91.5 257.5h0M128.1 286.6h0M118.4 276.6h0M232.2 250.1h0M260.5 258.1h0M223.1 257.5h0M231.9 262.5h0M356.8 270.3h0M356.8 275.1h0M356.5 263.9h0M357.6 274.1h0" stroke="#e46e56" stroke-width="1.9" stroke-linecap="round" fill="none"/>
<path d="M108.8 235.6h0M97.3 233.8h0M109.3 245.1h0M76.3 258.9h0M92.8 235.6h0M102.9 252.2h0M101.0 242.4h0M110.9 241.1h0M117.1 240.2h0M99.5 253.3h0M146.9 252.7h0M123.5 248.1h0M124.7 245.1h0M132.7 234.7h0M127.8 254.3h0M167.2 242.3h0M159.5 245.6h0M152.0 246.6h0M155.6 242.8h0M128.6 259.8h0M72.3 238.7h0M77.2 239.2h0M232.6 245.3h0M201.2 243.7h0M203.8 237.0h0M211.0 232.8h0M203.7 244.6h0M251.3 238.1h0M268.8 244.5h0M229.7 249.1h0M249.8 244.2h0M256.6 246.9h0M214.1 258.4h0M252.7 231.5h0M286.9 221.1h0M357.1 248.4h0M356.7 248.2h0" stroke="#7396f5" stroke-width="1.9" stroke-linecap="round" fill="none"/>
<path d="M211.3 233.7h3.2M212.9 232.1v3.2M202.1 251.4h3.2M203.7 249.8v3.2M208.9 256.3h3.2M210.5 254.7v3.2" stroke="#cbd8ee" stroke-width="0.9" fill="none"/>
<path d="M291.4 291.5h3.2M293.0 289.9v3.2M237.3 261.1h3.2M238.9 259.5v3.2M355.5 261.2h3.2M357.1 259.6v3.2" stroke="#f6bfa6" stroke-width="0.9" fill="none"/>
<path d="M139.9 245.3h3.2M141.5 243.7v3.2M163.5 245.9h3.2M165.1 244.3v3.2M92.1 254.0h3.2M93.7 252.4v3.2" stroke="#d3dbe7" stroke-width="0.9" fill="none"/>
<path d="M136.4 102.6h3.2M138.0 101.0v3.2M105.2 128.5h3.2M106.8 126.9v3.2M211.4 127.9h3.2M213.0 126.3v3.2M227.4 138.4h3.2M229.0 136.8v3.2M283.5 135.3h3.2M285.1 133.7v3.2" stroke="#370499" stroke-width="0.9" fill="none"/>
<path d="M90.7 242.8h3.2M92.3 241.2v3.2M96.4 251.8h3.2M98.0 250.2v3.2M141.1 240.7h3.2M142.7 239.1v3.2M152.2 243.0h3.2M153.8 241.4v3.2" stroke="#516ddb" stroke-width="0.9" fill="none"/>
<path d="M120.1 245.3h3.2M121.7 243.7v3.2M105.9 243.4h3.2M107.5 241.8v3.2M115.5 248.0h3.2M117.1 246.4v3.2M136.4 236.6h3.2M138.0 235.0v3.2M126.5 247.0h3.2M128.1 245.4v3.2M218.4 255.6h3.2M220.0 254.0v3.2M358.8 249.2h3.2M360.4 247.6v3.2M368.9 244.2h3.2M370.5 242.6v3.2" stroke="#516ddb" stroke-width="0.9" fill="none"/>
<path d="M240.2 128.7h3.2M241.8 127.1v3.2" stroke="#7701a8" stroke-width="0.9" fill="none"/>
<path d="M124.3 261.3h0M106.3 257.4h0M356.6 273.2h0M356.8 264.7h0M362.0 281.7h0" stroke="#f7b89c" stroke-width="1.9" stroke-linecap="round" fill="none"/>
<path d="M125.4 120.2h3.2M127.0 118.6v3.2M206.0 121.9h3.2M207.6 120.3v3.2M218.4 118.5h3.2M220.0 116.9v3.2M210.4 125.9h3.2M212.0 124.3v3.2M355.2 109.2h3.2M356.8 107.6v3.2M363.0 113.2h3.2M364.6 111.6v3.2" stroke="#f48948" stroke-width="0.9" fill="none"/>
<path d="M241.7 277.0h3.2M243.3 275.4v3.2M217.6 261.5h3.2M219.2 259.9v3.2" stroke="#f7af91" stroke-width="0.9" fill="none"/>
<path d="M96.6 238.9h0M98.2 237.0h0M97.9 242.3h0M110.6 237.6h0M105.5 252.3h0M90.6 245.2h0M127.0 239.3h0M132.9 240.1h0M136.4 245.4h0M127.3 247.0h0M111.0 242.1h0M155.1 245.8h0M128.5 241.5h0M138.4 244.2h0M143.4 242.0h0M160.5 245.3h0M88.8 218.6h0M108.0 215.5h0M113.6 229.1h0M125.7 232.2h0M99.7 257.0h0M122.8 257.9h0M88.4 254.9h0M100.6 261.1h0M211.1 239.7h0M212.4 247.0h0M209.8 238.8h0M209.5 234.5h0M205.5 226.6h0M199.5 252.4h0M218.1 242.0h0M214.0 244.1h0M237.6 238.7h0M205.7 236.3h0M203.7 239.5h0M201.1 252.7h0M208.5 257.6h0M253.1 259.7h0M214.7 212.8h0M270.2 223.2h0M259.1 230.6h0M357.1 230.5h0M356.4 225.0h0" stroke="#a1c0ff" stroke-width="1.9" stroke-linecap="round" fill="none"/>
<path d="M47.8 116.2h3.2M49.4 114.6v3.2M232.1 138.0h3.2M233.7 136.4v3.2" stroke="#6c00a8" stroke-width="0.9" fill="none"/>
<path d="M122.5 248.2h3.2M124.1 246.6v3.2M100.2 257.9h3.2M101.8 256.3v3.2M211.2 256.2h3.2M212.8 254.6v3.2" stroke="#98b9ff" stroke-width="0.9" fill="none"/>
<path d="M119.3 131.3h0M204.9 108.5h0M202.1 120.5h0M224.3 128.0h0M255.4 126.0h0M356.7 136.0h0" stroke="#6100a7" stroke-width="1.9" stroke-linecap="round" fill="none"/>
<path d="M219.1 124.9h3.2M220.7 123.3v3.2M224.8 121.6h3.2M226.4 120.0v3.2M367.2 123.3h3.2M368.8 121.7v3.2" stroke="#9c179e" stroke-width="0.9" fill="none"/>
<path d="M102.4 253.0h0M220.7 229.8h0M201.9 234.9h0M221.3 241.3h0M224.3 262.0h0M210.2 271.3h0M258.4 273.6h0M204.7 269.7h0M357.3 266.4h0M357.4 269.5h0" stroke="#bd1f2d" stroke-width="1.9" stroke-linecap="round" fill="none"/>
<path d="M102.4 115.6h0M90.4 91.7h0M99.1 92.1h0M89.6 93.2h0M220.7 95.8h0M230.5 103.8h0M211.0 118.8h0M207.3 116.1h0M253.3 125.3h0M356.4 135.2h0M356.5 112.5h0M356.4 129.9h0M356.6 114.7h0" stroke="#ac2694" stroke-width="1.9" stroke-linecap="round" fill="none"/>
<path d="M85.3 107.8h0M101.4 102.0h0M101.8 119.9h0M104.7 119.7h0M97.9 99.4h0M100.4 108.3h0M108.7 116.6h0M97.1 111.6h0M84.0 115.4h0M101.8 122.3h0M95.0 114.6h0M87.5 108.2h0M111.4 104.9h0M95.4 105.5h0M108.0 105.4h0M84.1 107.0h0M106.2 112.7h0M132.0 114.4h0M125.0 106.6h0M113.7 108.7h0M140.7 106.7h0M101.8 119.2h0M200.2 113.2h0M208.2 106.9h0M207.7 122.4h0M217.2 103.5h0M203.4 112.9h0M207.7 102.1h0M203.6 113.8h0M221.2 99.7h0M199.1 108.3h0M207.4 105.3h0M205.2 105.1h0M205.3 127.8h0M202.4 96.8h0M198.4 100.0h0M214.5 113.7h0M209.2 104.2h0M206.8 107.3h0M212.6 104.3h0M208.7 100.8h0M246.8 117.3h0M266.2 116.3h0M223.6 116.8h0M199.4 118.6h0M262.7 125.7h0M356.8 113.1h0M357.2 101.1h0M356.5 79.7h0M357.5 113.0h0" stroke="#f1814d" stroke-width="1.9" stroke-linecap="round" fill="none"/>
<path d="M114.2 250.2h0M116.6 240.9h0M94.9 239.3h0M105.0 250.2h0M94.9 247.4h0M83.2 260.1h0M105.1 237.2h0M102.0 248.2h0M121.9 243.4h0M104.2 236.6h0M112.5 242.4h0M101.8 253.9h0M102.3 243.0h0M97.5 241.7h0M93.2 236.3h0M79.1 247.6h0M81.6 228.1h0M95.2 245.0h0M93.1 240.5h0M103.6 238.0h0M110.9 228.3h0M107.7 248.1h0M93.4 242.2h0M97.7 248.3h0M96.2 241.2h0M96.8 244.1h0M114.2 239.9h0M147.0 251.3h0M132.0 243.9h0M135.2 245.5h0M110.9 249.0h0M129.4 239.8h0M125.2 230.0h0M130.3 249.2h0M137.1 239.3h0M139.8 252.1h0M137.0 241.4h0M159.5 251.9h0M117.0 249.5h0M110.4 248.4h0M127.5 241.3h0M126.8 247.6h0M139.4 245.6h0M127.4 252.7h0M114.8 240.5h0M131.3 251.7h0M157.9 241.9h0M148.6 244.9h0M133.1 247.9h0M160.3 242.7h0M134.9 243.5h0M156.7 246.0h0M152.6 246.7h0M133.2 246.0h0M93.2 228.4h0M208.0 235.9h0M207.8 236.4h0M255.1 249.8h0M279.3 248.5h0M220.1 243.4h0M256.6 239.4h0M227.2 245.6h0M223.9 235.7h0M247.3 250.3h0M291.6 246.0h0M252.2 248.9h0M229.8 238.1h0M284.5 252.1h0M293.9 246.3h0M240.9 247.6h0M248.2 236.4h0M306.6 236.8h0M293.5 228.1h0M287.7 223.8h0M305.1 261.4h0M209.7 252.4h0M243.4 241.7h0M356.4 237.8h0M360.7 248.8h0M366.3 241.2h0M359.6 247.5h0M362.8 250.3h0M358.4 251.4h0" stroke="#4a63d3" stroke-width="1.9" stroke-linecap="round" fill="none"/>
<path d="M107.0 254.2h0M92.3 227.5h0M86.7 240.4h0M103.3 246.2h0M102.0 243.5h0M94.3 240.4h0M98.6 248.1h0M93.5 247.0h0M108.7 238.7h0M81.6 253.2h0M101.9 252.3h0M102.6 244.3h0M106.5 242.8h0M110.5 242.2h0M96.7 253.2h0M66.0 240.6h0M110.2 238.1h0M107.1 253.9h0M97.2 256.9h0M111.8 244.3h0M102.5 252.8h0M104.0 238.9h0M100.1 244.0h0M94.6 246.3h0M81.9 233.3h0M96.5 244.4h0M94.7 245.4h0M94.1 245.8h0M132.1 242.7h0M140.4 239.8h0M139.6 245.8h0M136.3 250.5h0M132.6 242.3h0M107.5 242.7h0M140.8 241.0h0M132.3 234.0h0M144.3 250.9h0M137.7 235.8h0M122.1 241.1h0M129.2 248.3h0M136.0 252.8h0M130.2 239.5h0M145.4 242.7h0M144.5 252.1h0M114.1 239.6h0M137.1 244.2h0M104.1 236.1h0M126.3 251.4h0M103.5 251.9h0M119.7 247.9h0M144.3 245.4h0M135.4 249.9h0M128.9 248.1h0M134.0 239.7h0M145.1 253.3h0M133.9 258.9h0M81.9 254.5h0M199.3 241.1h0M280.1 256.0h0M235.5 246.8h0M278.3 239.3h0M273.7 241.9h0M227.1 247.4h0M284.9 252.9h0M285.2 241.2h0M226.8 248.2h0M228.5 246.2h0M220.5 244.3h0M290.8 244.5h0M244.2 250.4h0M258.5 236.4h0M262.6 247.1h0M233.0 244.0h0M273.4 247.5h0M228.0 246.9h0M244.9 255.7h0M259.8 261.6h0M210.0 225.9h0M223.0 241.1h0M356.6 244.6h0M357.2 246.3h0M357.1 250.9h0M356.6 231.0h0M376.6 258.2h0" stroke="#516ddb" stroke-width="1.9" stroke-linecap="round" fill="none"/>
<path d="M78.0 122.2h3.2M79.6 120.6v3.2M92.9 125.2h3.2M94.5 123.6v3.2M236.8 117.8h3.2M238.4 116.2v3.2M355.8 118.0h3.2M357.4 116.4v3.2M364.5 113.9h3.2M366.1 112.3v3.2M375.6 115.5h3.2M377.2 113.9v3.2" stroke="#da5a6a" stroke-width="0.9" fill="none"/>
<path d="M120.8 113.7h0M121.0 106.4h0M136.4 111.4h0M128.1 111.3h0M100.6 127.1h0M357.0 120.1h0M401.6 122.5h0" stroke="#43039e" stroke-width="1.9" stroke-linecap="round" fill="none"/>
<path d="M81.1 103.0h0M83.2 126.1h0M144.2 110.5h0M104.9 98.3h0M125.7 98.2h0M51.8 92.7h0M73.7 110.4h0M209.8 104.8h0M218.7 95.6h0M213.6 103.2h0M230.1 104.7h0M220.1 106.1h0M229.7 115.1h0M231.5 135.6h0M210.3 72.8h0M356.9 121.9h0M356.4 105.8h0M357.9 81.3h0M356.8 75.0h0M357.0 94.9h0M357.2 83.3h0M373.7 107.7h0M372.9 108.0h0" stroke="#c8437b" stroke-width="1.9" stroke-linecap="round" fill="none"/>
<path d="M109.5 271.0h3.2M111.1 269.4v3.2M117.5 260.4h3.2M119.1 258.8v3.2M101.4 270.3h3.2M103.0 268.7v3.2M256.9 245.7h3.2M258.5 244.1v3.2M198.4 260.4h3.2M200.0 258.8v3.2M205.4 253.1h3.2M207.0 251.5v3.2M255.7 257.6h3.2M257.3 256.0v3.2M236.6 258.1h3.2M238.2 256.5v3.2M213.0 258.3h3.2M214.6 256.7v3.2M267.9 263.2h3.2M269.5 261.6v3.2M245.5 265.4h3.2M247.1 263.8v3.2M278.6 289.5h3.2M280.2 287.9v3.2M354.9 267.5h3.2M356.5 265.9v3.2M357.3 252.5h3.2M358.9 250.9v3.2M357.2 257.8h3.2M358.8 256.2v3.2M357.7 267.2h3.2M359.3 265.6v3.2M359.1 260.1h3.2M360.7 258.5v3.2M357.8 259.3h3.2M359.4 257.7v3.2" stroke="#b40426" stroke-width="0.9" fill="none"/>
<path d="M98.2 235.9h3.2M99.8 234.3v3.2M47.1 229.4h3.2M48.7 227.8v3.2M198.2 256.2h3.2M199.8 254.6v3.2M364.4 246.5h3.2M366.0 244.9v3.2" stroke="#7da0f9" stroke-width="0.9" fill="none"/>
<path d="M113.7 110.0h0M129.0 120.5h0M141.8 116.4h0M146.8 114.7h0M110.4 114.4h0M137.4 111.1h0M155.6 106.8h0M155.7 107.0h0M211.4 109.9h0M204.8 113.4h0M241.4 110.2h0M229.6 105.5h0M234.9 110.9h0M219.9 106.3h0M293.9 112.3h0M262.1 111.6h0M273.1 130.3h0M361.1 95.8h0M358.7 112.6h0" stroke="#f7e225" stroke-width="1.9" stroke-linecap="round" fill="none"/>
<path d="M88.9 239.8h0M96.0 251.4h0M101.3 238.2h0M105.7 243.2h0M89.7 246.6h0M92.7 238.8h0M104.5 253.3h0M91.5 245.8h0M99.8 240.5h0M91.7 241.5h0M84.5 227.4h0M98.9 244.0h0M95.9 245.8h0M91.5 249.5h0M116.9 241.1h0M81.2 232.5h0M83.7 254.7h0M94.8 242.9h0M102.3 251.4h0M118.1 245.2h0M95.4 239.5h0M121.0 240.4h0M92.6 237.3h0M89.9 241.8h0M159.5 249.6h0M152.8 239.4h0M123.3 251.2h0M158.0 248.0h0M115.7 238.3h0M102.0 244.1h0M109.1 250.2h0M91.8 244.0h0M168.0 251.1h0M128.4 239.3h0M142.3 243.7h0M125.8 241.5h0M102.1 244.4h0M114.5 234.6h0M112.3 235.8h0M128.0 236.7h0M147.3 246.4h0M131.2 244.7h0M95.1 252.9h0M200.5 234.6h0M221.3 246.5h0M227.3 258.8h0M226.8 254.0h0M284.4 248.3h0M261.6 243.8h0M222.2 240.4h0M262.5 240.1h0M258.3 250.9h0M251.5 257.1h0M254.1 239.7h0" stroke="#4257c9" stroke-width="1.9" stroke-linecap="round" fill="none"/>
<path d="M73.6 235.2h0M90.3 253.0h0M90.0 241.5h0M104.7 238.2h0M92.5 248.0h0M90.3 245.6h0M111.0 248.9h0M100.1 232.1h0M107.0 247.8h0M95.9 241.1h0M116.5 241.8h0M84.4 239.0h0M107.1 247.1h0M119.5 252.9h0M110.4 246.3h0M94.1 243.6h0M79.1 242.4h0M97.1 245.4h0M102.2 245.8h0M81.9 234.9h0M130.5 241.7h0M117.6 238.8h0M133.3 242.9h0M129.7 240.2h0M123.9 253.0h0M118.6 243.4h0M112.4 243.4h0M107.1 249.3h0M123.7 235.8h0M124.3 253.3h0M128.6 250.9h0M141.1 245.3h0M146.2 241.9h0M133.7 240.4h0M133.5 243.5h0M130.8 246.5h0M120.8 223.8h0M142.3 229.8h0M115.7 256.3h0M120.2 259.5h0M203.9 242.6h0M203.4 246.9h0M201.0 244.6h0M210.7 232.5h0M210.7 238.3h0M226.7 261.4h0M200.7 250.4h0M202.1 242.9h0M231.0 250.4h0M253.0 249.2h0M239.3 250.0h0M223.3 248.5h0M269.9 248.0h0M251.0 242.8h0M226.0 246.9h0M220.5 249.4h0M220.9 251.8h0M228.6 241.0h0M228.1 243.3h0M291.0 247.5h0M241.4 237.4h0M260.4 250.8h0M231.5 256.2h0M226.4 224.5h0M356.9 205.0h0M356.6 223.1h0M361.3 242.9h0M359.3 244.0h0M374.1 242.4h0" stroke="#6282ea" stroke-width="1.9" stroke-linecap="round" fill="none"/>
<path d="M116.4 259.3h3.2M118.0 257.7v3.2M235.7 254.4h3.2M237.3 252.8v3.2" stroke="#5a78e4" stroke-width="0.9" fill="none"/>
<path d="M76.3 102.3h3.2M77.9 100.7v3.2M151.9 112.0h3.2M153.5 110.4v3.2M203.6 117.5h3.2M205.2 115.9v3.2M199.5 100.4h3.2M201.1 98.8v3.2M214.7 114.2h3.2M216.3 112.6v3.2M365.6 111.2h3.2M367.2 109.6v3.2M358.8 115.2h3.2M360.4 113.6v3.2M359.4 108.7h3.2M361.0 107.1v3.2" stroke="#fa9b3d" stroke-width="0.9" fill="none"/>
<path d="M98.2 245.9h0M89.9 242.8h0M101.6 244.9h0M69.7 246.2h0M97.2 239.4h0M114.5 238.0h0M139.0 236.2h0M110.4 249.0h0M129.0 246.1h0M120.7 243.3h0M116.2 261.8h0M91.9 253.0h0M198.7 244.6h0M208.6 255.6h0M210.0 246.0h0M215.1 256.4h0M232.4 234.5h0M211.1 246.3h0M229.5 235.5h0M200.6 241.0h0M225.5 239.1h0M198.7 225.0h0M212.6 239.7h0M244.5 259.5h0M234.3 257.6h0M214.8 260.2h0M356.9 249.6h0M356.7 253.3h0M356.7 212.2h0M360.8 239.3h0" stroke="#8fb1fe" stroke-width="1.9" stroke-linecap="round" fill="none"/>
<path d="M287.8 126.1h3.2M289.4 124.5v3.2" stroke="#7701a8" stroke-width="0.9" fill="none"/>
<path d="M112.7 140.2h0M201.9 112.7h0M208.5 123.6h0M212.1 72.5h0M356.7 122.0h0M356.4 124.3h0M356.7 127.8h0" stroke="#8a09a5" stroke-width="1.9" stroke-linecap="round" fill="none"/>
<path d="M364.9 120.5h3.2M366.5 118.9v3.2" stroke="#c23c81" stroke-width="0.9" fill="none"/>
<path d="M71.8 257.2h3.2M73.4 255.6v3.2M198.4 237.6h3.2M200.0 236.0v3.2M355.0 235.3h3.2M356.6 233.7v3.2" stroke="#c4d5f3" stroke-width="0.9" fill="none"/>
<path d="M132.6 250.2h3.2M134.2 248.6v3.2M127.8 241.0h3.2M129.4 239.4v3.2M124.2 247.0h3.2M125.8 245.4v3.2M111.2 273.4h3.2M112.8 271.8v3.2M58.2 250.5h3.2M59.8 248.9v3.2M235.6 249.7h3.2M237.2 248.1v3.2" stroke="#aac7fd" stroke-width="0.9" fill="none"/>
<path d="M204.3 96.7h3.2M205.9 95.1v3.2M264.9 112.4h3.2M266.5 110.8v3.2M379.1 118.8h3.2M380.7 117.2v3.2" stroke="#fca537" stroke-width="0.9" fill="none"/>
<path d="M86.8 280.5h3.2M88.4 278.9v3.2M107.0 265.2h3.2M108.6 263.6v3.2M264.0 279.7h3.2M265.6 278.1v3.2M232.1 272.0h3.2M233.7 270.4v3.2" stroke="#ee8669" stroke-width="0.9" fill="none"/>
<path d="M69.9 243.7h3.2M71.5 242.1v3.2M101.0 268.0h3.2M102.6 266.4v3.2M209.4 233.5h3.2M211.0 231.9v3.2M359.4 242.7h3.2M361.0 241.1v3.2" stroke="#8fb1fe" stroke-width="0.9" fill="none"/>
<path d="M98.8 103.8h0M89.8 101.9h0M97.3 117.9h0M94.4 102.3h0M105.0 106.7h0M103.6 109.5h0M95.1 103.1h0M81.2 115.8h0M89.3 97.4h0M111.2 120.1h0M78.2 112.3h0M125.1 119.1h0M123.9 115.8h0M115.6 106.1h0M89.5 111.9h0M124.3 106.2h0M135.1 113.1h0M130.1 107.1h0M123.6 93.0h0M128.2 120.8h0M133.1 113.9h0M118.4 97.8h0M105.1 83.2h0M94.9 89.9h0M125.4 125.6h0M88.4 120.9h0M120.3 122.1h0M103.0 125.4h0M127.8 128.6h0M199.9 120.0h0M214.4 114.3h0M203.9 108.6h0M200.7 106.3h0M213.6 114.8h0M205.3 106.2h0M203.1 98.6h0M212.1 115.7h0M217.3 104.8h0M206.6 103.9h0M239.6 121.6h0M228.0 112.9h0M224.6 103.4h0M212.6 122.8h0M251.5 123.7h0M223.1 123.5h0M356.5 108.3h0M356.5 105.2h0M356.6 124.3h0M356.5 96.3h0M357.3 83.3h0" stroke="#f1814d" stroke-width="1.9" stroke-linecap="round" fill="none"/>
<path d="M102.0 109.5h0M119.6 113.3h0M98.1 104.2h0M91.9 109.5h0M152.6 102.8h0M146.9 118.7h0M152.8 105.4h0M116.7 116.2h0M107.5 108.7h0M152.8 104.9h0M132.0 109.9h0M147.2 113.8h0M129.9 115.2h0M101.4 106.1h0M149.5 106.8h0M125.8 107.5h0M127.5 107.3h0M144.7 106.9h0M131.0 109.6h0M134.8 107.4h0M139.4 110.4h0M208.0 101.9h0M204.3 103.7h0M199.3 107.1h0M284.9 118.9h0M284.4 114.3h0M256.1 110.5h0M241.4 103.0h0M261.6 110.7h0M264.1 108.8h0M381.9 109.3h0M377.3 105.5h0M363.0 120.3h0" stroke="#fad824" stroke-width="1.9" stroke-linecap="round" fill="none"/>
<path d="M124.1 239.0h0M123.5 273.6h0M205.6 253.5h0M207.0 258.2h0M357.0 261.7h0M357.0 259.0h0M356.8 209.0h0M356.7 234.2h0" stroke="#e6d7cf" stroke-width="1.9" stroke-linecap="round" fill="none"/>
<path d="M120.1 109.9h3.2M121.7 108.3v3.2" stroke="#fad824" stroke-width="0.9" fill="none"/>
<path d="M93.0 238.1h0M89.9 238.7h0M109.4 247.6h0M110.5 242.2h0M80.5 237.5h0M123.9 249.8h0M157.4 239.4h0M114.4 254.0h0M129.6 257.5h0M120.0 262.6h0M112.7 274.2h0M100.5 272.1h0M213.2 227.4h0M218.9 246.1h0M205.4 222.3h0M202.9 257.0h0M210.1 237.2h0M200.2 240.4h0M259.7 247.5h0M266.1 244.5h0M198.7 259.1h0M221.9 259.9h0M215.3 254.0h0M273.1 264.3h0M273.7 259.6h0M356.7 256.9h0M356.9 275.5h0M356.4 269.2h0M380.9 245.2h0M372.5 243.5h0M359.7 241.4h0M358.0 285.5h0" stroke="#b40426" stroke-width="1.9" stroke-linecap="round" fill="none"/>
<path d="M214.2 257.3h3.2M215.8 255.7v3.2M230.3 265.4h3.2M231.9 263.8v3.2M211.1 267.7h3.2M212.7 266.1v3.2" stroke="#c73635" stroke-width="0.9" fill="none"/>
<path d="M128.4 245.5h3.2M130.0 243.9v3.2M88.4 275.0h3.2M90.0 273.4v3.2M197.7 260.0h3.2M199.3 258.4v3.2M211.4 261.9h3.2M213.0 260.3v3.2M227.4 261.1h3.2M229.0 259.5v3.2M209.1 258.5h3.2M210.7 256.9v3.2" stroke="#bbd1f8" stroke-width="0.9" fill="none"/>
<path d="M92.5 111.8h0M88.9 105.8h0M77.8 110.7h0M80.1 110.2h0M69.7 112.2h0M97.1 105.6h0M100.1 110.0h0M82.7 116.9h0M80.5 107.4h0M98.6 113.8h0M122.0 112.5h0M118.2 113.7h0M127.4 89.5h0M64.5 95.4h0M123.7 122.1h0M200.4 107.9h0M201.3 118.0h0M220.6 107.7h0M210.3 107.7h0M203.2 98.2h0M212.7 101.5h0M199.9 96.5h0M234.3 107.5h0M256.6 105.4h0M226.8 120.0h0M283.6 107.1h0M241.6 114.4h0M212.8 127.6h0M199.0 124.2h0M264.0 125.7h0M357.4 126.7h0M356.6 100.5h0M356.6 131.5h0M356.6 121.4h0M356.8 113.2h0M356.8 104.5h0M356.6 77.7h0M356.9 88.2h0M356.8 95.8h0M359.7 104.0h0M360.7 101.1h0" stroke="#da5a6a" stroke-width="1.9" stroke-linecap="round" fill="none"/>
<path d="M197.8 250.4h3.2M199.4 248.8v3.2M355.6 226.7h3.2M357.2 225.1v3.2" stroke="#d9dce1" stroke-width="0.9" fill="none"/>
<path d="M105.3 243.6h0M122.8 250.0h0M95.1 237.1h0M123.7 251.2h0M149.5 250.3h0M125.5 251.8h0M113.5 229.4h0M128.4 241.1h0M116.2 262.7h0M95.7 255.4h0M101.8 266.8h0M102.3 264.4h0M199.8 238.4h0M212.3 238.8h0M199.4 254.5h0M203.7 238.4h0M205.0 240.0h0M234.0 254.9h0M222.9 257.5h0M211.4 260.7h0M201.9 259.1h0M201.5 262.4h0M218.5 256.3h0M244.9 262.4h0M216.2 257.3h0M241.0 259.6h0M222.1 279.7h0M231.5 269.6h0M357.0 271.6h0M356.5 257.1h0M357.1 258.7h0M356.6 275.5h0M357.6 271.6h0M362.3 272.0h0M364.1 279.0h0M358.7 273.6h0" stroke="#b40426" stroke-width="1.9" stroke-linecap="round" fill="none"/>
<path d="M103.5 267.5h3.2M105.1 265.9v3.2" stroke="#e97a5f" stroke-width="0.9" fill="none"/>
<path d="M124.2 113.0h3.2M125.8 111.4v3.2M120.1 121.0h3.2M121.7 119.4v3.2M94.4 126.7h3.2M96.0 125.1v3.2M210.9 109.1h3.2M212.5 107.5v3.2M215.2 130.4h3.2M216.8 128.8v3.2M203.5 126.5h3.2M205.1 124.9v3.2M255.7 123.6h3.2M257.3 122.0v3.2M215.1 121.7h3.2M216.7 120.1v3.2M357.3 118.5h3.2M358.9 116.9v3.2" stroke="#e97158" stroke-width="0.9" fill="none"/>
<path d="M92.4 256.5h3.2M94.0 254.9v3.2M361.1 257.7h3.2M362.7 256.1v3.2" stroke="#f7a688" stroke-width="0.9" fill="none"/>
<path d="M114.2 116.2h0M106.7 125.5h0M88.2 114.5h0M99.8 106.5h0M113.6 115.6h0M89.6 104.2h0M114.9 103.2h0M98.2 104.0h0M97.3 114.0h0M96.3 102.7h0M93.8 108.0h0M88.2 108.9h0M150.5 112.5h0M146.1 88.1h0M108.2 120.4h0M81.9 120.5h0M114.6 129.8h0M59.5 113.1h0M198.9 115.8h0M203.0 110.5h0M218.8 98.9h0M202.6 131.8h0M212.8 86.1h0M356.5 112.4h0M357.3 123.3h0M356.7 130.8h0M356.5 126.4h0M356.4 77.7h0M356.6 88.5h0M356.6 97.0h0M356.5 96.5h0M360.7 114.8h0M374.1 109.2h0M366.8 111.0h0" stroke="#d45270" stroke-width="1.9" stroke-linecap="round" fill="none"/>
<path d="M278.1 107.1h3.2M279.7 105.5v3.2M261.7 126.4h3.2M263.3 124.8v3.2M359.2 113.2h3.2M360.8 111.6v3.2" stroke="#e4695e" stroke-width="0.9" fill="none"/>
<path d="M157.4 249.9h0M109.3 226.9h0M98.4 286.8h0M215.8 248.1h0M200.6 240.6h0M207.7 252.4h0M357.0 224.2h0M356.9 245.7h0M356.5 230.0h0M356.6 252.2h0M356.8 247.3h0M356.8 255.1h0M356.8 246.5h0M356.6 265.3h0M357.2 234.2h0M356.5 225.5h0M356.6 206.8h0" stroke="#d9dce1" stroke-width="1.9" stroke-linecap="round" fill="none"/>
<path d="M111.0 256.7h0M243.5 272.6h0M250.4 220.7h0M218.9 227.3h0M356.7 263.9h0M357.2 271.8h0M356.6 265.4h0M356.4 257.3h0M356.6 258.3h0" stroke="#f7b89c" stroke-width="1.9" stroke-linecap="round" fill="none"/>
<path d="M158.0 114.0h0M139.1 109.7h0M147.2 107.0h0M155.3 110.4h0M129.9 118.3h0M107.1 115.3h0M134.4 106.7h0M134.2 118.9h0M159.1 112.0h0M251.0 108.8h0M262.5 101.9h0" stroke="#f3ee27" stroke-width="1.9" stroke-linecap="round" fill="none"/>
<path d="M86.0 119.1h0M88.8 84.6h0M99.7 123.0h0M99.1 141.6h0M207.7 102.0h0M199.1 111.5h0M200.3 119.9h0M201.0 97.5h0M277.4 147.3h0" stroke="#ac2694" stroke-width="1.9" stroke-linecap="round" fill="none"/>
<path d="M111.2 139.4h3.2M112.8 137.8v3.2M292.0 133.1h3.2M293.6 131.5v3.2" stroke="#6c00a8" stroke-width="0.9" fill="none"/>
<path d="M80.8 105.9h0M102.4 106.0h0M101.2 111.9h0M92.0 108.7h0M101.9 118.3h0M112.5 108.4h0M129.0 108.1h0M115.3 101.1h0M98.0 105.2h0M82.6 105.6h0M86.5 97.7h0M97.7 114.3h0M91.5 103.8h0M99.3 120.7h0M124.1 105.0h0M129.9 101.3h0M145.2 117.3h0M129.8 101.2h0M126.7 106.2h0M142.7 114.3h0M112.6 103.8h0M113.7 109.1h0M146.5 108.6h0M112.2 112.4h0M130.3 108.7h0M110.1 112.3h0M116.4 110.5h0M132.8 108.0h0M127.8 120.3h0M126.8 113.6h0M156.0 111.5h0M111.3 102.6h0M115.8 108.6h0M112.6 110.3h0M139.2 111.6h0M107.7 118.8h0M153.6 128.5h0M202.5 113.8h0M202.1 108.3h0M215.4 100.0h0M205.1 117.5h0M228.8 114.0h0M237.3 113.6h0M269.9 114.0h0M227.0 118.6h0M272.7 117.1h0M262.8 103.5h0M282.3 109.2h0M231.0 112.7h0M262.4 115.4h0M228.3 111.4h0M248.4 107.5h0M324.0 99.3h0M292.1 104.2h0M302.2 108.6h0M279.0 99.9h0M214.7 124.6h0M357.2 104.2h0M356.6 116.9h0M356.6 111.9h0M356.8 120.0h0M377.4 104.9h0M362.8 116.3h0M419.6 78.2h0M419.0 84.0h0M450.1 96.4h0" stroke="#feb82c" stroke-width="1.9" stroke-linecap="round" fill="none"/>
<path d="M67.6 110.1h3.2M69.2 108.5v3.2M129.7 141.3h3.2M131.3 139.7v3.2M221.0 103.4h3.2M222.6 101.8v3.2" stroke="#ce4b75" stroke-width="0.9" fill="none"/>
<path d="M102.3 110.7h3.2M103.9 109.1v3.2" stroke="#4c02a1" stroke-width="0.9" fill="none"/>
<path d="M97.5 261.7h3.2M99.1 260.1v3.2M361.8 250.1h3.2M363.4 248.5v3.2" stroke="#f7b89c" stroke-width="0.9" fill="none"/>
<path d="M94.3 97.5h0M98.2 126.9h0M100.3 140.2h0M119.4 124.2h0M216.7 86.5h0M357.2 138.4h0M356.8 132.4h0" stroke="#7701a8" stroke-width="1.9" stroke-linecap="round" fill="none"/>
<path d="M106.3 111.7h0M103.8 110.8h0M81.6 110.5h0M108.0 102.0h0M92.8 101.6h0M84.4 105.0h0M81.6 94.1h0M94.8 108.9h0M105.3 109.9h0M93.0 110.4h0M87.7 109.3h0M79.1 108.4h0M105.5 118.3h0M115.2 116.5h0M108.6 104.6h0M91.4 116.8h0M118.0 103.7h0M127.3 108.4h0M203.3 106.2h0M199.7 104.5h0M203.8 111.2h0M211.7 110.3h0M199.4 120.5h0M213.5 108.0h0M204.5 103.3h0M207.7 116.3h0M246.6 111.6h0M220.5 119.3h0M200.1 127.7h0M215.3 120.0h0M271.0 118.1h0M243.3 125.5h0M357.0 126.5h0M356.7 89.4h0M356.8 112.5h0M357.0 125.0h0M356.7 114.0h0M356.7 84.9h0M356.4 70.2h0M356.6 77.5h0" stroke="#d45270" stroke-width="1.9" stroke-linecap="round" fill="none"/>
<path d="M355.5 127.2h3.2M357.1 125.6v3.2" stroke="#8a09a5" stroke-width="0.9" fill="none"/>
<path d="M97.3 133.0h0M55.8 104.2h0M213.5 118.1h0M223.5 139.8h0M357.4 94.9h0M366.6 114.3h0M358.7 139.6h0" stroke="#a31e9a" stroke-width="1.9" stroke-linecap="round" fill="none"/>
<path d="M110.1 244.1h0M201.5 254.1h0M203.3 247.5h0M268.1 261.2h0M266.6 265.0h0M276.4 275.1h0M255.4 260.0h0M357.0 260.5h0M360.8 288.4h0M371.2 255.7h0M362.9 279.0h0" stroke="#bd1f2d" stroke-width="1.9" stroke-linecap="round" fill="none"/>
<path d="M116.4 125.3h3.2M118.0 123.7v3.2M126.5 113.0h3.2M128.1 111.4v3.2M355.2 118.2h3.2M356.8 116.6v3.2M355.4 119.7h3.2M357.0 118.1v3.2" stroke="#f1814d" stroke-width="0.9" fill="none"/>
<path d="M356.2 205.8h3.2M357.8 204.2v3.2" stroke="#bbd1f8" stroke-width="0.9" fill="none"/>
<path d="M99.5 251.4h3.2M101.1 249.8v3.2M205.4 233.8h3.2M207.0 232.2v3.2M357.4 241.8h3.2M359.0 240.2v3.2" stroke="#86a9fc" stroke-width="0.9" fill="none"/>
<path d="M95.2 123.4h0M101.8 111.0h0M94.3 111.2h0M91.0 116.0h0M97.6 102.5h0M96.0 112.3h0M126.7 107.5h0M94.8 118.7h0M117.2 105.5h0M131.1 114.3h0M156.7 110.8h0M80.8 88.2h0M92.6 120.1h0M107.5 124.5h0M107.4 127.1h0M98.4 152.8h0M75.0 109.8h0M210.2 96.7h0M215.9 114.4h0M206.7 104.6h0M216.4 105.9h0M214.8 98.2h0M214.0 101.3h0M211.4 102.5h0M209.7 123.1h0M202.4 114.9h0M210.6 114.9h0M204.3 107.0h0M272.6 115.2h0M199.1 121.4h0M204.5 125.2h0M267.8 123.0h0M217.0 117.2h0M210.1 79.1h0M356.7 111.3h0M356.8 122.2h0M356.5 96.4h0M356.5 95.7h0M356.6 82.0h0M356.6 89.1h0M364.5 118.0h0" stroke="#da5a6a" stroke-width="1.9" stroke-linecap="round" fill="none"/>
<path d="M94.4 241.9h0M118.8 270.4h0M120.0 273.7h0M111.9 280.2h0M202.6 238.3h0M202.6 248.3h0M273.7 244.1h0M246.9 245.9h0M356.5 259.0h0M356.8 266.4h0M357.1 261.2h0" stroke="#d75445" stroke-width="1.9" stroke-linecap="round" fill="none"/>
<path d="M111.0 122.7h0M219.5 123.8h0M243.5 138.6h0M356.6 113.6h0M356.6 128.8h0M357.2 76.4h0" stroke="#9c179e" stroke-width="1.9" stroke-linecap="round" fill="none"/>
<path d="M110.8 251.8h3.2M112.4 250.2v3.2M98.9 248.2h3.2M100.5 246.6v3.2M111.4 240.7h3.2M113.0 239.1v3.2M113.4 249.4h3.2M115.0 247.8v3.2M62.8 249.0h3.2M64.4 247.4v3.2M383.1 236.0h3.2M384.7 234.4v3.2" stroke="#516ddb" stroke-width="0.9" fill="none"/>
<path d="M198.4 126.4h3.2M200.0 124.8v3.2M233.9 122.6h3.2M235.5 121.0v3.2M236.4 129.7h3.2M238.0 128.1v3.2M367.0 142.1h3.2M368.6 140.5v3.2M360.4 141.5h3.2M362.0 139.9v3.2" stroke="#2c0594" stroke-width="0.9" fill="none"/>
<path d="M83.7 245.2h0M119.6 247.3h0M89.9 243.3h0M98.9 251.7h0M93.5 230.6h0M87.5 242.2h0M87.0 233.5h0M89.5 247.1h0M124.8 237.4h0M131.0 255.2h0M121.4 247.8h0M122.8 243.2h0M111.1 250.7h0M128.5 248.1h0M111.0 240.2h0M162.5 246.1h0M134.6 254.4h0M105.2 259.7h0M115.3 257.7h0M207.6 243.5h0M206.0 238.1h0M224.5 244.6h0M222.7 242.6h0M209.7 235.1h0M204.7 240.4h0M213.8 251.0h0M228.7 248.6h0M214.5 240.6h0M213.7 236.4h0M211.4 243.9h0M208.8 240.8h0M199.6 243.5h0M262.8 237.5h0M239.4 256.3h0M216.9 253.6h0M221.6 255.5h0M211.8 254.4h0M226.0 232.9h0M356.7 239.1h0M356.9 239.7h0M356.8 247.2h0M356.8 232.4h0M356.6 220.8h0M372.8 244.3h0M357.0 250.3h0" stroke="#7396f5" stroke-width="1.9" stroke-linecap="round" fill="none"/>
<path d="M137.1 105.1h3.2M138.7 103.5v3.2" stroke="#f7e225" stroke-width="0.9" fill="none"/>
<path d="M110.7 289.9h3.2M112.3 288.3v3.2M215.1 255.7h3.2M216.7 254.1v3.2M259.2 252.9h3.2M260.8 251.3v3.2M202.1 268.0h3.2M203.7 266.4v3.2M236.4 263.7h3.2M238.0 262.1v3.2M367.6 279.0h3.2M369.2 277.4v3.2" stroke="#c73635" stroke-width="0.9" fill="none"/>
<path d="M69.3 259.6h3.2M70.9 258.0v3.2M267.9 254.9h3.2M269.5 253.3v3.2" stroke="#f7b89c" stroke-width="0.9" fill="none"/>
<path d="M124.7 122.0h0M231.9 128.5h0M356.9 130.7h0M356.6 131.4h0" stroke="#4c02a1" stroke-width="1.9" stroke-linecap="round" fill="none"/>
<path d="M137.3 270.5h3.2M138.9 268.9v3.2M218.7 239.1h3.2M220.3 237.5v3.2" stroke="#f29274" stroke-width="0.9" fill="none"/>
<path d="M94.1 240.1h0M88.0 255.0h0M126.9 239.6h0M136.2 269.3h0M99.7 277.8h0M201.9 246.7h0M294.2 247.7h0M232.7 249.9h0M356.6 265.5h0M356.7 290.4h0M356.9 261.7h0M357.3 257.3h0M370.0 244.7h0M370.1 274.9h0" stroke="#cf453c" stroke-width="1.9" stroke-linecap="round" fill="none"/>
<path d="M140.5 112.9h0M135.9 129.0h0M125.0 127.0h0M198.6 131.1h0M357.1 96.5h0M356.8 73.6h0M356.6 71.9h0" stroke="#6c00a8" stroke-width="1.9" stroke-linecap="round" fill="none"/>
<path d="M101.0 115.5h0M98.9 117.7h0M96.9 113.4h0M91.2 110.7h0M94.1 106.1h0M109.2 122.3h0M97.9 108.3h0M110.5 108.2h0M109.5 106.6h0M116.9 107.1h0M110.6 113.4h0M104.2 107.8h0M94.6 112.3h0M106.2 114.1h0M130.1 117.8h0M118.3 115.1h0M131.3 115.1h0M140.8 107.0h0M136.9 98.4h0M128.1 113.5h0M122.1 107.1h0M162.4 108.4h0M119.9 112.2h0M131.6 104.0h0M122.2 107.9h0M102.0 110.1h0M135.0 105.4h0M118.7 116.3h0M99.8 118.4h0M114.4 120.0h0M138.7 103.3h0M136.1 108.9h0M117.0 115.5h0M133.5 119.7h0M143.8 106.5h0M142.2 113.8h0M154.8 112.2h0M127.9 111.6h0M135.6 107.6h0M133.1 108.1h0M133.5 109.5h0M150.4 108.9h0M155.6 108.8h0M110.4 119.9h0M211.5 110.7h0M202.8 101.1h0M203.9 102.2h0M213.7 102.4h0M222.3 118.5h0M205.3 98.4h0M290.5 104.7h0M243.9 104.5h0M288.0 109.4h0M221.2 111.4h0M262.6 103.4h0M248.1 97.0h0M245.9 111.2h0M244.2 116.4h0M231.3 110.8h0M243.5 108.8h0M292.0 107.2h0M272.5 115.1h0M357.1 118.9h0M362.9 112.0h0M366.7 116.3h0" stroke="#fdaf31" stroke-width="1.9" stroke-linecap="round" fill="none"/>
<path d="M132.6 116.2h3.2M134.2 114.6v3.2" stroke="#f7e225" stroke-width="0.9" fill="none"/>
<path d="M92.9 259.2h3.2M94.5 257.6v3.2M103.9 262.5h3.2M105.5 260.9v3.2M362.3 247.4h3.2M363.9 245.8v3.2M368.5 266.2h3.2M370.1 264.6v3.2" stroke="#e97a5f" stroke-width="0.9" fill="none"/>
<path d="M112.1 243.6h3.2M113.7 242.0v3.2M119.8 246.7h3.2M121.4 245.1v3.2M210.9 243.1h3.2M212.5 241.5v3.2M243.6 239.2h3.2M245.2 237.6v3.2M355.2 234.8h3.2M356.8 233.2v3.2" stroke="#4257c9" stroke-width="0.9" fill="none"/>
<path d="M109.5 114.4h0M105.5 112.0h0M121.9 122.3h0M81.6 110.0h0M99.4 117.2h0M92.1 107.5h0M107.1 119.9h0M119.5 118.9h0M99.5 119.3h0M127.1 114.4h0M109.9 111.7h0M109.6 107.5h0M146.0 102.5h0M137.7 101.8h0M104.1 100.3h0M136.5 113.8h0M130.1 106.8h0M112.0 109.2h0M102.1 110.4h0M119.6 107.0h0M124.4 111.0h0M136.2 101.8h0M140.3 115.2h0M95.5 106.4h0M170.2 110.1h0M129.9 113.6h0M215.4 111.8h0M216.6 107.8h0M218.9 112.1h0M215.7 101.9h0M207.6 103.1h0M201.3 100.0h0M198.6 109.4h0M219.4 120.3h0M256.6 107.2h0M227.6 110.1h0M239.3 116.0h0M233.6 106.6h0M266.1 110.5h0M228.8 114.2h0M235.7 118.4h0M268.7 106.7h0M228.1 109.3h0M235.6 111.9h0M227.9 117.3h0M245.1 103.5h0M248.2 102.4h0M369.3 103.3h0M363.1 108.3h0M375.5 107.5h0M364.7 102.1h0M360.3 115.9h0" stroke="#fdc328" stroke-width="1.9" stroke-linecap="round" fill="none"/>
<path d="M92.3 257.6h3.2M93.9 256.0v3.2M367.9 265.8h3.2M369.5 264.2v3.2" stroke="#ecd3c5" stroke-width="0.9" fill="none"/>
<path d="M101.2 243.1h0M131.9 252.6h0M112.3 232.1h0M121.1 259.2h0M125.1 267.4h0M55.8 238.2h0M213.5 252.1h0M208.4 252.3h0M205.8 251.1h0M217.6 259.8h0M208.2 264.0h0M207.7 212.9h0M357.2 238.2h0M356.6 236.8h0M356.5 249.4h0M356.8 244.4h0M356.4 244.3h0M357.2 238.1h0M356.7 236.8h0M356.4 205.3h0" stroke="#d3dbe7" stroke-width="1.9" stroke-linecap="round" fill="none"/>
<path d="M94.9 105.4h3.2M96.5 103.8v3.2M126.0 126.4h3.2M127.6 124.8v3.2M203.2 106.9h3.2M204.8 105.3v3.2M220.1 122.1h3.2M221.7 120.5v3.2" stroke="#e4695e" stroke-width="0.9" fill="none"/>
<path d="M197.2 105.9h3.2M198.8 104.3v3.2" stroke="#ac2694" stroke-width="0.9" fill="none"/>
<path d="M105.4 114.9h0M99.7 108.0h0M111.3 111.0h0M119.7 115.1h0M111.0 108.3h0M107.6 114.2h0M133.1 113.7h0M111.5 106.8h0M129.2 101.2h0M109.4 133.8h0M108.9 142.7h0M117.2 137.9h0M202.9 118.3h0M203.8 133.2h0M357.1 121.8h0M356.6 135.2h0" stroke="#370499" stroke-width="1.9" stroke-linecap="round" fill="none"/>
<path d="M107.1 265.0h3.2M108.7 263.4v3.2M118.5 288.1h3.2M120.1 286.5v3.2M208.5 269.6h3.2M210.1 268.0v3.2" stroke="#d75445" stroke-width="0.9" fill="none"/>
<path d="M250.6 272.4h3.2M252.2 270.8v3.2M355.6 259.2h3.2M357.2 257.6v3.2" stroke="#f0cdbb" stroke-width="0.9" fill="none"/>
<path d="M90.4 262.4h0M125.4 259.6h0M99.5 261.0h0M204.3 255.2h0M242.2 280.5h0M285.5 221.1h0M356.8 260.5h0M356.9 255.9h0M363.6 243.8h0" stroke="#f59c7d" stroke-width="1.9" stroke-linecap="round" fill="none"/>
<path d="M96.1 127.8h0M115.3 123.7h0M74.6 77.6h0M206.8 100.7h0M221.1 121.7h0M209.1 142.9h0M357.0 137.6h0M356.4 132.8h0M357.3 121.8h0M356.9 124.6h0M371.7 111.5h0" stroke="#920fa3" stroke-width="1.9" stroke-linecap="round" fill="none"/>
<path d="M110.5 117.9h0M104.5 119.3h0M99.1 111.8h0M80.3 108.1h0M101.4 116.0h0M80.0 111.1h0M94.3 110.4h0M71.0 113.9h0M78.5 112.7h0M105.0 107.0h0M108.7 107.1h0M94.1 118.9h0M89.9 107.8h0M109.7 105.1h0M111.3 101.8h0M135.2 111.5h0M99.3 106.1h0M113.5 95.4h0M136.0 118.8h0M135.2 110.2h0M114.2 108.2h0M118.2 118.9h0M137.5 111.2h0M135.2 106.5h0M123.8 123.9h0M143.5 104.5h0M121.5 104.9h0M130.1 117.6h0M139.5 111.8h0M128.0 111.6h0M129.1 109.3h0M150.5 111.5h0M152.2 112.0h0M114.4 125.6h0M95.7 121.4h0M129.6 123.5h0M101.8 122.8h0M205.6 102.2h0M222.3 113.1h0M211.2 99.2h0M211.9 118.4h0M201.2 109.7h0M200.3 95.3h0M209.2 103.9h0M211.0 98.8h0M205.7 108.3h0M213.4 108.9h0M214.2 107.1h0M219.3 96.2h0M265.8 119.6h0M276.1 120.9h0M221.8 120.1h0M242.1 114.4h0M271.8 121.8h0M219.8 106.2h0M268.4 116.8h0M312.4 84.0h0M296.4 91.2h0M308.0 133.2h0M290.6 117.3h0M203.4 121.2h0M202.3 119.3h0M211.6 125.7h0M226.0 128.2h0M231.5 122.2h0M356.7 117.0h0M356.9 93.1h0M357.5 118.2h0M356.4 102.1h0M357.3 101.7h0M356.7 99.8h0M358.2 109.5h0M357.7 111.8h0" stroke="#fca537" stroke-width="1.9" stroke-linecap="round" fill="none"/>
<path d="M103.8 236.2h3.2M105.4 234.6v3.2M243.1 244.4h3.2M244.7 242.8v3.2M236.4 248.7h3.2M238.0 247.1v3.2M209.1 254.9h3.2M210.7 253.3v3.2M361.6 235.0h3.2M363.2 233.4v3.2" stroke="#6282ea" stroke-width="0.9" fill="none"/>
<path d="M88.4 141.0h3.2M90.0 139.4v3.2M198.1 124.5h3.2M199.7 122.9v3.2" stroke="#8004a8" stroke-width="0.9" fill="none"/>
<path d="M97.7 233.1h0M113.5 248.3h0M100.2 243.4h0M132.2 248.3h0M91.6 244.7h0M109.8 241.5h0M98.3 244.7h0M157.6 241.2h0M126.4 248.9h0M114.5 250.8h0M127.3 242.4h0M92.5 224.5h0M99.7 259.3h0M98.4 253.1h0M123.7 256.2h0M112.3 259.6h0M95.2 261.5h0M205.4 245.6h0M205.9 238.2h0M210.1 227.1h0M206.0 239.2h0M199.1 242.3h0M236.2 227.2h0M205.2 243.2h0M220.2 244.9h0M215.9 231.2h0M199.5 253.0h0M199.1 231.9h0M218.8 259.6h0M205.1 258.9h0M214.7 258.6h0M216.2 254.6h0M356.5 232.8h0M356.6 242.9h0M356.9 227.1h0M356.5 236.6h0M357.3 209.7h0M356.4 219.5h0M374.3 247.5h0M372.9 242.0h0" stroke="#8fb1fe" stroke-width="1.9" stroke-linecap="round" fill="none"/>
<path d="M110.8 117.8h3.2M112.4 116.2v3.2M94.7 91.2h3.2M96.3 89.6v3.2M102.7 121.6h3.2M104.3 120.0v3.2M89.3 120.5h3.2M90.9 118.9v3.2M198.6 107.9h3.2M200.2 106.3v3.2M244.7 123.3h3.2M246.3 121.7v3.2M363.8 113.8h3.2M365.4 112.2v3.2" stroke="#f48948" stroke-width="0.9" fill="none"/>
<path d="M79.4 246.7h3.2M81.0 245.1v3.2M209.2 232.7h3.2M210.8 231.1v3.2M204.5 250.2h3.2M206.1 248.6v3.2M355.4 253.7h3.2M357.0 252.1v3.2M355.0 248.6h3.2M356.6 247.0v3.2" stroke="#d3dbe7" stroke-width="0.9" fill="none"/>
<path d="M86.8 146.5h3.2M88.4 144.9v3.2M117.5 126.4h3.2M119.1 124.8v3.2M210.8 140.9h3.2M212.4 139.3v3.2M241.7 143.0h3.2M243.3 141.4v3.2M265.1 139.7h3.2M266.7 138.1v3.2" stroke="#370499" stroke-width="0.9" fill="none"/>
<path d="M83.5 244.5h0M80.7 239.7h0M66.1 246.1h0M93.8 249.5h0M85.2 254.6h0M119.9 246.9h0M134.6 244.2h0M136.2 247.4h0M133.0 247.0h0M94.0 230.0h0M80.0 222.0h0M114.4 259.6h0M125.5 256.2h0M101.8 256.8h0M55.4 240.3h0M206.7 251.6h0M200.4 241.9h0M205.6 244.2h0M207.7 256.4h0M218.7 229.6h0M217.2 237.5h0M201.4 238.8h0M214.0 235.3h0M211.5 236.6h0M231.2 243.0h0M215.4 242.9h0M234.6 233.0h0M212.1 249.7h0M230.5 237.8h0M222.3 235.6h0M213.1 242.7h0M201.8 232.7h0M201.3 234.3h0M220.8 243.7h0M204.4 245.0h0M200.8 255.4h0M201.1 261.5h0M218.1 256.0h0M225.7 257.5h0M356.5 236.2h0M356.7 262.4h0M356.5 248.8h0M356.5 235.5h0M356.6 255.1h0M357.1 255.3h0M356.4 245.5h0M357.5 251.1h0M356.6 255.4h0M356.6 250.5h0M357.3 217.3h0M356.4 236.1h0M356.9 221.7h0M356.9 239.5h0M356.5 230.5h0" stroke="#b2ccfb" stroke-width="1.9" stroke-linecap="round" fill="none"/>
<path d="M119.0 255.6h0M114.9 277.8h0M209.5 255.0h0M201.3 220.9h0M225.2 235.4h0M356.7 265.5h0M356.7 271.5h0" stroke="#f29274" stroke-width="1.9" stroke-linecap="round" fill="none"/>
<path d="M75.5 136.7h3.2M77.1 135.1v3.2M137.3 136.5h3.2M138.9 134.9v3.2M92.4 122.5h3.2M94.0 120.9v3.2M208.4 125.3h3.2M210.0 123.7v3.2M355.0 101.3h3.2M356.6 99.7v3.2" stroke="#370499" stroke-width="0.9" fill="none"/>
<path d="M111.7 120.7h3.2M113.3 119.1v3.2M121.1 121.4h3.2M122.7 119.8v3.2M243.6 105.2h3.2M245.2 103.6v3.2M255.5 125.5h3.2M257.1 123.9v3.2M361.1 123.7h3.2M362.7 122.1v3.2" stroke="#feb82c" stroke-width="0.9" fill="none"/>
<path d="M90.2 103.3h0M76.5 103.8h0M115.0 105.1h0M260.7 122.9h0M356.5 133.6h0M356.7 112.7h0M356.7 131.5h0M357.7 128.6h0M357.3 117.4h0M356.4 112.1h0M356.5 86.1h0" stroke="#b42e8d" stroke-width="1.9" stroke-linecap="round" fill="none"/>
<path d="M90.7 239.4h0M107.9 255.4h0M90.9 243.8h0M102.2 250.4h0M101.3 257.4h0M102.9 239.5h0M95.7 238.3h0M109.9 246.5h0M97.1 245.6h0M93.3 233.6h0M94.2 237.3h0M89.3 239.3h0M98.1 243.6h0M111.2 254.1h0M107.3 249.0h0M117.4 251.4h0M77.6 248.4h0M152.8 238.9h0M136.9 232.4h0M122.5 244.3h0M142.1 249.5h0M131.4 243.6h0M138.6 238.8h0M105.5 235.7h0M117.7 244.6h0M117.2 240.7h0M125.9 240.7h0M137.4 245.1h0M142.2 247.8h0M144.2 244.5h0M131.4 247.4h0M141.9 238.9h0M113.8 232.4h0M97.1 258.4h0M205.8 262.0h0M201.0 246.8h0M212.4 245.5h0M215.7 250.8h0M228.3 240.1h0M221.5 229.5h0M202.5 243.1h0M257.0 254.5h0M241.4 247.7h0M260.6 237.7h0M249.5 243.3h0M261.7 240.7h0M241.3 245.2h0M219.6 246.0h0M258.4 243.9h0M235.5 254.3h0M248.1 231.0h0M228.9 242.1h0M219.6 247.7h0M292.0 241.2h0M219.7 243.1h0M262.8 261.6h0M356.6 234.5h0M356.8 241.7h0M357.2 235.1h0M356.4 246.1h0M356.7 207.1h0M356.7 220.2h0M356.7 214.2h0" stroke="#6282ea" stroke-width="1.9" stroke-linecap="round" fill="none"/>
<path d="M92.1 120.0h3.2M93.7 118.4v3.2M200.0 110.4h3.2M201.6 108.8v3.2M365.2 111.7h3.2M366.8 110.1v3.2" stroke="#feb82c" stroke-width="0.9" fill="none"/>
<path d="M355.7 242.5h3.2M357.3 240.9v3.2" stroke="#f6bfa6" stroke-width="0.9" fill="none"/>
<path d="M364.7 112.5h3.2M366.3 110.9v3.2" stroke="#fad824" stroke-width="0.9" fill="none"/>
<path d="M100.6 243.8h0M97.3 248.0h0M97.1 239.6h0M102.3 255.7h0M113.3 252.2h0M138.7 245.2h0M147.5 247.8h0M95.5 240.4h0M125.7 238.0h0M96.8 228.7h0M94.9 223.9h0M79.6 256.3h0M100.2 252.2h0M128.5 261.2h0M123.3 254.1h0M103.0 259.4h0M206.4 233.6h0M233.7 236.6h0M209.5 246.9h0M202.3 243.2h0M213.5 242.0h0M204.5 237.3h0M210.3 241.7h0M209.7 240.4h0M203.0 237.3h0M231.7 252.5h0M217.3 238.8h0M221.8 245.3h0M202.9 255.1h0M199.1 244.5h0M267.8 257.0h0" stroke="#a1c0ff" stroke-width="1.9" stroke-linecap="round" fill="none"/>
<path d="M125.8 125.2h3.2M127.4 123.6v3.2M105.6 140.0h3.2M107.2 138.4v3.2M96.5 139.6h3.2M98.1 138.0v3.2M110.7 155.9h3.2M112.3 154.3v3.2M118.5 154.1h3.2M120.1 152.5v3.2M204.5 116.2h3.2M206.1 114.6v3.2M292.5 131.7h3.2M294.1 130.1v3.2M210.7 130.1h3.2M212.3 128.5v3.2M243.2 139.5h3.2M244.8 137.9v3.2M356.9 134.6h3.2M358.5 133.0v3.2M367.6 127.5h3.2M369.2 125.9v3.2M368.5 132.2h3.2M370.1 130.6v3.2" stroke="#1d068e" stroke-width="0.9" fill="none"/>
<path d="M88.7 219.6h0M103.9 252.1h0M144.2 286.7h0M199.6 265.9h0M212.6 256.2h0M356.5 256.1h0M418.1 247.5h0" stroke="#f7af91" stroke-width="1.9" stroke-linecap="round" fill="none"/>
<path d="M206.2 259.6h3.2M207.8 258.0v3.2M245.0 269.9h3.2M246.6 268.3v3.2" stroke="#e6d7cf" stroke-width="0.9" fill="none"/>
<path d="M94.6 250.2h3.2M96.2 248.6v3.2M151.9 246.0h3.2M153.5 244.4v3.2M130.8 249.4h3.2M132.4 247.8v3.2M47.8 250.2h3.2M49.4 248.6v3.2M199.5 234.4h3.2M201.1 232.8v3.2M247.3 248.3h3.2M248.9 246.7v3.2M252.5 238.8h3.2M254.1 237.2v3.2M278.1 241.1h3.2M279.7 239.5v3.2M359.2 247.2h3.2M360.8 245.6v3.2" stroke="#4a63d3" stroke-width="0.9" fill="none"/>
<path d="M103.8 100.8h0M113.5 114.3h0M98.2 103.0h0M92.7 104.8h0M128.2 106.4h0M93.1 109.5h0M109.3 111.1h0M103.0 97.5h0M94.3 106.4h0M110.9 103.7h0M81.9 100.5h0M76.4 107.7h0M101.2 116.1h0M122.5 95.0h0M120.4 110.2h0M113.9 115.7h0M122.1 114.8h0M155.5 113.0h0M78.9 96.8h0M105.9 94.0h0M84.0 92.2h0M122.5 93.2h0M117.5 92.7h0M108.9 124.6h0M123.4 123.0h0M58.8 119.3h0M207.8 102.4h0M208.2 121.3h0M200.9 103.5h0M203.3 95.8h0M209.0 110.4h0M201.0 110.6h0M199.5 99.7h0M225.5 105.1h0M203.9 93.5h0M208.0 105.9h0M214.5 106.6h0M215.2 95.6h0M199.4 94.1h0M275.2 121.9h0M260.1 100.7h0M232.7 115.9h0M256.6 112.9h0M199.1 123.3h0M200.0 121.9h0M356.6 101.2h0M356.7 104.4h0M356.7 70.9h0" stroke="#e4695e" stroke-width="1.9" stroke-linecap="round" fill="none"/>
<path d="M94.0 240.8h0M83.0 249.0h0M106.3 240.0h0M122.2 255.9h0M89.5 252.7h0M96.6 248.0h0M106.2 246.7h0M104.6 246.4h0M112.0 250.0h0M122.2 241.9h0M107.4 250.1h0M117.2 239.5h0M137.4 245.7h0M107.3 240.9h0M119.4 217.5h0M130.2 221.1h0M113.7 261.2h0M106.1 257.6h0M128.2 205.5h0M144.8 212.2h0M203.0 244.6h0M210.1 242.6h0M205.6 257.3h0M199.2 239.0h0M220.6 244.1h0M211.0 250.9h0M198.8 236.4h0M222.3 252.5h0M286.2 241.5h0M255.5 240.7h0M357.0 231.0h0M356.5 204.5h0M357.5 212.9h0M363.0 254.3h0" stroke="#7da0f9" stroke-width="1.9" stroke-linecap="round" fill="none"/>
<path d="M99.9 221.2h3.2M101.5 219.6v3.2M119.9 259.7h3.2M121.5 258.1v3.2" stroke="#98b9ff" stroke-width="0.9" fill="none"/>
<path d="M120.0 112.0h0M119.9 106.5h0M149.5 116.3h0M150.0 107.9h0M143.4 121.3h0M155.8 105.7h0M293.5 118.9h0M226.1 111.1h0M270.3 115.1h0M380.5 105.1h0" stroke="#f0f921" stroke-width="1.9" stroke-linecap="round" fill="none"/>
<path d="M101.3 104.2h0M108.6 107.2h0M104.7 104.2h0M81.2 109.3h0M97.0 112.8h0M100.3 118.5h0M97.2 122.9h0M87.3 123.4h0M85.0 114.0h0M98.1 114.4h0M81.9 100.9h0M119.4 83.5h0M96.5 85.1h0M128.5 127.2h0M59.5 108.7h0M199.3 119.4h0M233.7 102.6h0M234.9 109.7h0M199.8 126.6h0M218.2 119.9h0M214.5 106.4h0M212.6 105.7h0M212.2 112.8h0M221.5 95.5h0M199.0 120.0h0M235.6 123.6h0M212.3 75.2h0M267.4 91.3h0M238.0 107.2h0M356.5 125.0h0M356.6 103.7h0M356.5 113.1h0M357.6 140.1h0M393.6 112.6h0" stroke="#ce4b75" stroke-width="1.9" stroke-linecap="round" fill="none"/>
<path d="M256.3 116.1h3.2M257.9 114.5v3.2M208.1 125.4h3.2M209.7 123.8v3.2" stroke="#e97158" stroke-width="0.9" fill="none"/>
<path d="M197.3 255.4h3.2M198.9 253.8v3.2" stroke="#f6bfa6" stroke-width="0.9" fill="none"/>
<path d="M107.2 261.5h0M108.9 258.6h0M87.0 258.9h0M120.3 257.9h0M97.3 267.0h0M202.0 243.2h0M204.0 233.8h0M200.0 265.7h0M202.1 254.5h0M357.0 257.6h0M360.1 246.3h0" stroke="#e46e56" stroke-width="1.9" stroke-linecap="round" fill="none"/>
<path d="M111.4 260.2h0M66.1 234.2h0M237.2 265.7h0M356.5 267.6h0M357.2 262.6h0M356.7 273.6h0" stroke="#ecd3c5" stroke-width="1.9" stroke-linecap="round" fill="none"/>
<path d="M127.0 250.1h3.2M128.6 248.5v3.2M219.7 229.9h3.2M221.3 228.3v3.2M355.1 241.6h3.2M356.7 240.0v3.2M364.5 247.9h3.2M366.1 246.3v3.2M366.2 249.9h3.2M367.8 248.3v3.2" stroke="#3b4cc0" stroke-width="0.9" fill="none"/>
<path d="M75.5 270.7h3.2M77.1 269.1v3.2M129.7 275.3h3.2M131.3 273.7v3.2" stroke="#a1c0ff" stroke-width="0.9" fill="none"/>
<path d="M96.8 244.6h0M96.3 247.2h0M105.3 245.9h0M105.1 250.3h0M113.6 249.6h0M96.4 248.8h0M100.9 247.3h0M96.0 247.5h0M99.8 241.1h0M117.3 247.3h0M100.5 235.1h0M82.6 239.6h0M104.8 246.7h0M96.3 238.9h0M104.9 243.7h0M83.5 242.6h0M103.6 249.1h0M99.2 255.2h0M86.1 238.7h0M100.4 248.5h0M102.8 241.3h0M119.9 241.0h0M147.2 247.8h0M153.9 241.2h0M113.7 253.4h0M141.3 243.3h0M130.3 242.7h0M114.2 242.2h0M116.4 244.5h0M138.1 249.5h0M134.2 252.9h0M132.9 242.8h0M150.4 244.4h0M156.7 244.8h0M139.5 245.8h0M133.1 242.1h0M150.5 245.5h0M114.6 261.8h0M91.7 255.9h0M59.5 247.1h0M208.2 255.3h0M212.7 235.5h0M200.3 235.0h0M209.4 238.4h0M199.9 235.0h0M207.4 252.0h0M202.4 239.8h0M257.7 250.0h0M267.7 243.4h0M290.5 238.7h0M240.6 245.3h0M271.1 254.0h0M241.4 237.0h0M219.9 240.3h0M272.2 253.7h0M231.3 244.8h0M223.6 250.8h0M225.3 241.4h0M254.3 243.8h0M257.3 222.2h0M356.7 244.7h0M356.5 255.3h0M356.6 253.3h0M356.6 237.7h0M356.7 243.8h0M356.5 238.3h0M357.2 209.1h0M356.8 211.7h0M356.6 205.9h0M367.1 246.6h0M377.8 240.1h0M371.4 249.0h0M370.2 247.2h0" stroke="#6282ea" stroke-width="1.9" stroke-linecap="round" fill="none"/>
<path d="M121.6 110.2h3.2M123.2 108.6v3.2M256.9 111.7h3.2M258.5 110.1v3.2M252.5 104.8h3.2M254.1 103.2v3.2" stroke="#fdaf31" stroke-width="0.9" fill="none"/>
<path d="M96.6 104.9h0M88.9 113.6h0M97.1 112.2h0M104.2 102.6h0M103.8 116.7h0M97.2 108.9h0M91.8 114.7h0M82.0 105.5h0M118.1 111.2h0M118.5 106.3h0M102.6 108.5h0M102.2 111.8h0M86.1 104.7h0M120.2 112.3h0M109.8 114.0h0M128.6 115.7h0M108.8 108.0h0M137.1 108.4h0M117.5 108.4h0M109.7 113.1h0M133.3 108.9h0M110.9 115.0h0M113.7 119.4h0M123.8 115.5h0M128.4 105.3h0M118.0 116.6h0M105.7 108.6h0M127.0 111.8h0M127.6 110.3h0M158.1 116.0h0M130.3 118.1h0M168.0 112.1h0M142.3 121.1h0M119.2 91.4h0M105.9 126.2h0M95.8 126.4h0M108.4 121.4h0M236.4 105.7h0M201.0 103.4h0M233.3 108.8h0M199.0 98.7h0M202.3 108.4h0M209.5 100.5h0M200.5 121.3h0M207.0 97.0h0M226.9 123.2h0M214.8 108.9h0M218.0 96.2h0M219.1 104.2h0M202.9 123.0h0M213.7 118.7h0M210.4 112.3h0M210.2 107.1h0M223.0 104.5h0M286.2 107.5h0M254.3 109.8h0M209.5 121.0h0M219.8 121.4h0M356.7 105.1h0M356.7 106.7h0M357.7 114.5h0M356.6 131.3h0M357.1 80.1h0M374.3 113.5h0M370.0 110.7h0" stroke="#fa9b3d" stroke-width="1.9" stroke-linecap="round" fill="none"/>
<path d="M221.0 237.4h3.2M222.6 235.8v3.2M199.6 236.3h3.2M201.2 234.7v3.2M364.5 245.5h3.2M366.1 243.9v3.2" stroke="#8fb1fe" stroke-width="0.9" fill="none"/>
<path d="M103.0 107.7h3.2M104.6 106.1v3.2M136.8 131.2h3.2M138.4 129.6v3.2M236.3 133.5h3.2M237.9 131.9v3.2M258.0 156.5h3.2M259.6 154.9v3.2M363.4 126.4h3.2M365.0 124.8v3.2M357.8 125.3h3.2M359.4 123.7v3.2" stroke="#1d068e" stroke-width="0.9" fill="none"/>
<path d="M93.0 252.8h0M120.2 254.6h0M205.3 263.7h0M400.0 250.8h0M365.2 271.6h0M362.4 287.5h0" stroke="#ee8669" stroke-width="1.9" stroke-linecap="round" fill="none"/>
<path d="M110.5 108.2h0M139.3 107.5h0M143.3 108.9h0M134.8 115.3h0M140.4 94.4h0M106.0 129.6h0M108.9 129.9h0M106.7 134.8h0M121.6 124.1h0M204.9 132.3h0M356.7 123.0h0M356.8 126.9h0" stroke="#43039e" stroke-width="1.9" stroke-linecap="round" fill="none"/>
<path d="M119.4 254.1h3.2M121.0 252.5v3.2M198.4 211.1h3.2M200.0 209.5v3.2" stroke="#b2ccfb" stroke-width="0.9" fill="none"/>
<path d="M88.7 110.2h0M104.5 108.0h0M95.5 108.2h0M111.0 107.4h0M104.9 118.4h0M86.1 107.7h0M94.8 109.4h0M102.1 112.2h0M103.5 112.9h0M97.9 109.2h0M89.7 112.6h0M109.9 109.3h0M88.8 114.0h0M89.3 105.3h0M110.9 107.1h0M103.0 114.2h0M99.7 91.2h0M94.0 110.2h0M110.2 103.0h0M106.2 112.6h0M127.4 111.8h0M132.9 106.1h0M103.5 107.0h0M114.4 117.9h0M122.5 110.3h0M130.5 112.8h0M121.2 108.0h0M136.4 107.2h0M100.5 116.1h0M120.4 101.3h0M110.1 116.0h0M125.4 109.7h0M110.6 107.6h0M120.7 109.3h0M103.5 117.9h0M128.6 116.9h0M142.3 109.7h0M137.7 107.2h0M101.3 97.9h0M117.4 95.3h0M116.2 128.7h0M94.3 121.0h0M109.4 126.4h0M110.1 123.1h0M225.3 92.3h0M206.7 99.8h0M238.5 117.4h0M201.5 120.1h0M201.4 104.8h0M201.3 116.1h0M202.0 110.5h0M208.9 111.6h0M209.4 104.4h0M210.7 98.5h0M207.1 108.4h0M199.6 109.9h0M201.2 119.6h0M199.7 107.4h0M266.6 113.8h0M241.4 113.7h0M269.1 110.2h0M238.9 114.5h0M222.8 109.8h0M292.8 114.0h0M229.8 104.1h0M217.8 126.7h0M232.0 122.8h0M210.0 91.9h0M357.1 121.3h0M356.5 104.8h0M359.1 119.3h0M362.6 108.0h0" stroke="#fa9b3d" stroke-width="1.9" stroke-linecap="round" fill="none"/>
<path d="M110.5 251.9h0M81.6 244.0h0M76.1 259.5h0M96.9 245.1h0M118.6 225.3h0M111.8 248.4h0M130.4 245.6h0M118.4 231.8h0M106.2 229.5h0M116.1 228.1h0M96.5 224.4h0M123.7 256.1h0M124.7 256.0h0M107.4 261.1h0M214.4 248.3h0M207.2 240.1h0M245.3 249.4h0M236.9 239.7h0M211.9 252.4h0M200.5 253.2h0M216.6 241.8h0M221.2 233.7h0M214.9 227.6h0M220.8 236.3h0M211.3 234.7h0M217.0 249.6h0M199.7 239.1h0M223.8 228.3h0M214.3 245.3h0M219.0 235.8h0M199.6 243.9h0M204.0 240.5h0M210.6 248.9h0M234.1 256.5h0M219.2 263.3h0M208.1 246.4h0M207.4 251.1h0M199.6 230.3h0M198.7 238.7h0M203.4 255.2h0M198.9 256.0h0M209.8 253.6h0M210.1 258.1h0M204.7 217.1h0M357.0 254.1h0M356.4 249.2h0M357.2 246.3h0M357.2 243.3h0M356.7 248.1h0M356.9 250.4h0M357.1 243.2h0M356.6 235.8h0M358.0 238.0h0M356.8 244.4h0M356.7 251.9h0M356.7 239.6h0M357.7 220.6h0M356.7 233.2h0M356.7 218.5h0M357.2 239.6h0M356.4 235.1h0M356.8 215.3h0" stroke="#bbd1f8" stroke-width="1.9" stroke-linecap="round" fill="none"/>
<path d="M107.2 127.5h0M120.2 120.6h0M234.7 124.1h0M235.3 130.9h0M278.6 122.6h0M218.9 93.3h0" stroke="#8004a8" stroke-width="1.9" stroke-linecap="round" fill="none"/>
<path d="M109.4 246.7h3.2M111.0 245.1v3.2M137.1 239.1h3.2M138.7 237.5v3.2M94.7 225.2h3.2M96.3 223.6v3.2M105.9 288.4h3.2M107.5 286.8v3.2M380.7 257.8h3.2M382.3 256.2v3.2" stroke="#a1c0ff" stroke-width="0.9" fill="none"/>
<path d="M106.5 120.3h0M83.2 135.1h0M209.6 98.8h0M199.2 105.0h0M212.4 124.4h0M207.0 134.1h0M357.3 75.7h0" stroke="#920fa3" stroke-width="1.9" stroke-linecap="round" fill="none"/>
<path d="M114.5 257.6h0M93.0 244.9h0M100.4 242.3h0M100.8 245.7h0M102.4 245.9h0M103.3 248.7h0M91.5 237.8h0M117.0 247.8h0M134.6 237.3h0M113.9 244.8h0M110.5 244.8h0M102.6 234.7h0M135.5 250.0h0M120.7 247.6h0M106.5 237.7h0M120.2 239.6h0M131.1 248.3h0M132.1 249.9h0M143.8 247.4h0M159.1 246.0h0M122.2 232.2h0M88.5 215.4h0M96.5 219.1h0M98.2 260.9h0M139.4 269.9h0M236.4 239.7h0M198.9 237.3h0M210.7 239.8h0M200.7 240.3h0M203.7 236.1h0M202.4 246.4h0M206.4 240.6h0M213.6 237.2h0M226.2 246.8h0M219.2 235.7h0M236.6 247.4h0M235.5 229.5h0M356.9 238.2h0M356.7 253.1h0M356.6 235.2h0M356.7 217.1h0M356.4 204.2h0M356.7 224.7h0M357.5 247.0h0M359.1 236.6h0" stroke="#7396f5" stroke-width="1.9" stroke-linecap="round" fill="none"/>
<path d="M271.2 236.3h3.2M272.8 234.7v3.2" stroke="#f7af91" stroke-width="0.9" fill="none"/>
<path d="M127.8 107.0h3.2M129.4 105.4v3.2M110.9 133.4h3.2M112.5 131.8v3.2" stroke="#4c02a1" stroke-width="0.9" fill="none"/>
<path d="M122.8 116.0h0M102.3 113.4h0M113.8 109.1h0M103.5 109.2h0M92.0 116.6h0M106.3 106.0h0M110.4 112.3h0M107.6 109.4h0M104.8 112.7h0M113.2 114.6h0M101.3 108.2h0M85.9 108.0h0M85.7 112.7h0M121.7 106.6h0M132.3 100.0h0M150.1 111.0h0M120.6 102.8h0M139.0 102.2h0M135.0 116.2h0M137.1 105.3h0M113.7 110.5h0M126.3 104.4h0M143.4 120.1h0M131.0 104.9h0M126.3 117.4h0M114.8 106.5h0M128.0 102.7h0M135.7 115.5h0M143.8 113.4h0M143.1 113.8h0M130.0 114.4h0M133.7 106.4h0M136.5 108.8h0M141.7 113.6h0M131.4 113.4h0M153.9 111.2h0M99.7 125.3h0M212.0 98.5h0M200.2 96.1h0M202.1 110.4h0M226.2 111.4h0M205.9 115.1h0M212.2 118.9h0M206.0 104.1h0M199.2 109.2h0M209.7 101.1h0M218.4 113.5h0M218.4 100.4h0M206.0 105.2h0M207.1 118.7h0M223.5 114.3h0M213.7 114.9h0M220.2 94.1h0M220.4 128.8h0M234.1 122.5h0M202.5 109.1h0M213.2 113.2h0M207.4 102.6h0M263.7 105.9h0M223.5 106.8h0M249.5 109.3h0M296.2 109.9h0M224.1 102.4h0M228.6 107.0h0M220.1 109.0h0M229.1 104.4h0M291.6 112.0h0M222.3 115.8h0M238.8 109.9h0M309.4 115.8h0M324.0 115.8h0M200.8 129.9h0M218.5 122.3h0M216.9 119.6h0M357.0 90.2h0M357.1 109.2h0M357.0 119.6h0M356.9 121.3h0M356.8 118.0h0M356.6 116.4h0M356.7 74.2h0M357.1 100.5h0M357.2 105.6h0" stroke="#fca537" stroke-width="1.9" stroke-linecap="round" fill="none"/>
<path d="M91.8 115.8h0M84.8 114.8h0M117.4 117.4h0M107.0 107.4h0M124.3 127.3h0M117.0 125.6h0M111.4 126.2h0M121.0 131.3h0M131.0 131.2h0M94.2 132.8h0M229.5 101.5h0M208.7 94.2h0M212.7 108.9h0M205.9 111.1h0M205.0 126.4h0M213.8 124.7h0M202.1 116.0h0M212.4 130.0h0M356.6 126.9h0M356.5 114.8h0M357.0 112.6h0M357.0 127.3h0M356.5 147.0h0M357.1 123.9h0M356.4 99.4h0M356.5 75.1h0M357.1 89.9h0M356.7 77.3h0M361.1 136.0h0" stroke="#1d068e" stroke-width="1.9" stroke-linecap="round" fill="none"/>
<path d="M103.0 241.7h3.2M104.6 240.1v3.2M216.1 227.9h3.2M217.7 226.3v3.2M363.4 239.7h3.2M365.0 238.1v3.2" stroke="#86a9fc" stroke-width="0.9" fill="none"/>
<path d="M95.5 242.2h0M104.1 238.8h0M113.8 243.1h0M105.0 244.5h0M103.5 246.9h0M114.0 243.4h0M140.8 245.7h0M127.9 245.6h0M139.4 244.4h0M89.6 227.2h0M122.2 226.1h0M114.4 230.6h0M127.8 262.6h0M212.1 248.0h0M203.8 245.2h0M199.8 260.6h0M209.2 237.9h0M208.7 228.2h0M203.2 232.2h0M205.3 232.9h0M208.4 247.4h0M199.2 246.1h0M213.2 243.0h0M204.9 248.4h0M211.0 252.8h0M214.5 264.2h0M356.5 268.3h0M356.7 252.3h0M356.6 248.0h0M357.0 241.0h0M356.9 251.5h0M356.7 251.0h0M356.8 219.1h0M356.8 247.1h0M356.6 230.6h0M357.0 254.9h0M356.7 244.5h0M356.5 212.3h0" stroke="#cbd8ee" stroke-width="1.9" stroke-linecap="round" fill="none"/>
<path d="M83.9 252.3h0M99.1 275.6h0M213.9 256.8h0M214.6 215.6h0M356.9 259.4h0M356.6 263.3h0M356.4 271.3h0M364.7 263.7h0" stroke="#ecd3c5" stroke-width="1.9" stroke-linecap="round" fill="none"/>
<path d="M95.8 111.7h0M100.6 108.9h0M105.3 116.3h0M133.1 119.3h0M82.6 120.8h0M110.9 121.1h0M103.9 118.1h0M91.2 125.3h0M108.1 122.5h0M150.0 139.1h0M215.8 96.8h0M201.8 102.9h0M215.5 102.8h0M209.0 112.9h0M213.1 108.7h0M203.6 112.9h0M207.5 124.3h0M198.7 119.2h0M356.9 116.4h0M357.2 138.3h0M357.0 107.3h0M357.5 108.1h0M357.0 125.7h0M356.5 100.3h0M356.9 73.5h0M356.5 90.9h0M356.4 88.9h0M356.8 81.3h0M356.7 90.7h0M362.3 138.0h0M359.3 123.0h0M372.1 145.3h0M371.8 156.4h0M382.8 154.4h0" stroke="#1d068e" stroke-width="1.9" stroke-linecap="round" fill="none"/>
<path d="M105.0 245.7h0M83.5 242.4h0M97.5 254.0h0M86.4 243.6h0M109.8 248.0h0M136.2 235.8h0M136.6 236.9h0M93.4 231.4h0M86.5 231.8h0M108.4 255.4h0M99.8 261.9h0M91.2 259.3h0M209.9 235.8h0M230.0 228.6h0M205.8 253.7h0M223.7 232.0h0M202.3 240.2h0M205.6 244.0h0M201.3 234.0h0M198.6 238.9h0M262.7 259.7h0M211.6 251.9h0M210.1 213.1h0M255.2 224.9h0M357.0 221.5h0M356.6 225.4h0M357.9 215.3h0M356.5 223.0h0" stroke="#8fb1fe" stroke-width="1.9" stroke-linecap="round" fill="none"/>
<path d="M85.6 271.7h3.2M87.2 270.1v3.2M220.1 256.1h3.2M221.7 254.5v3.2M249.0 258.6h3.2M250.6 257.0v3.2M285.2 284.6h3.2M286.8 283.0v3.2M292.5 265.7h3.2M294.1 264.1v3.2M227.4 272.4h3.2M229.0 270.8v3.2M234.6 263.2h3.2M236.2 261.6v3.2M257.5 284.3h3.2M259.1 282.7v3.2M292.0 267.1h3.2M293.6 265.5v3.2M200.3 254.3h3.2M201.9 252.7v3.2" stroke="#b40426" stroke-width="0.9" fill="none"/>
<path d="M76.1 114.5h0M105.7 116.1h0M105.3 109.6h0M91.5 111.8h0M110.2 113.9h0M98.5 102.7h0M95.3 113.0h0M95.8 103.2h0M92.4 114.0h0M101.4 118.5h0M95.7 110.8h0M109.8 107.5h0M95.2 111.0h0M91.5 118.0h0M102.4 112.0h0M102.9 115.1h0M87.5 103.2h0M124.3 119.3h0M123.9 118.8h0M110.4 115.0h0M121.0 114.9h0M102.5 119.1h0M104.0 120.2h0M126.7 128.2h0M109.4 123.9h0M126.0 123.5h0M91.5 123.5h0M118.8 136.4h0M87.7 139.3h0M129.3 140.9h0M130.0 122.5h0M94.1 142.6h0M107.0 125.1h0M98.7 134.7h0M117.4 146.6h0M123.5 134.0h0M111.9 146.2h0M107.5 142.3h0M139.7 130.6h0M71.7 152.7h0M202.5 112.5h0M205.9 104.2h0M212.1 109.4h0M239.4 106.8h0M200.0 96.8h0M214.8 111.0h0M214.5 119.1h0M224.7 98.9h0M201.9 96.6h0M218.8 125.6h0M209.7 114.0h0M208.2 130.0h0M210.1 124.1h0M225.7 123.5h0M200.6 114.4h0M263.2 147.6h0M242.2 146.5h0M201.5 129.0h0M356.9 129.5h0M356.9 94.3h0M356.9 141.5h0M356.8 141.1h0M356.5 123.1h0M356.4 124.7h0M356.9 104.2h0M356.7 137.5h0M356.7 86.9h0M356.8 121.1h0M356.9 125.4h0M356.5 101.7h0M356.6 104.7h0M356.5 78.8h0M356.8 98.4h0M357.2 75.1h0M356.4 94.3h0M356.9 105.5h0M356.7 80.2h0M356.6 72.8h0" stroke="#0d0887" stroke-width="1.9" stroke-linecap="round" fill="none"/>
<path d="M126.1 238.2h3.2M127.7 236.6v3.2M108.6 241.0h3.2M110.2 239.4v3.2M130.2 249.4h3.2M131.8 247.8v3.2M116.2 245.3h3.2M117.8 243.7v3.2M224.8 255.6h3.2M226.4 254.0v3.2" stroke="#86a9fc" stroke-width="0.9" fill="none"/>
<path d="M121.0 113.9h3.2M122.6 112.3v3.2" stroke="#fdc328" stroke-width="0.9" fill="none"/>
<path d="M89.8 240.3h0M103.0 243.5h0M93.3 248.6h0M115.9 250.7h0M96.0 251.1h0M112.4 250.9h0M107.9 244.8h0M100.6 247.5h0M98.1 238.2h0M93.5 258.2h0M102.7 258.4h0M90.2 237.3h0M83.5 242.7h0M100.6 242.9h0M100.3 252.5h0M105.0 241.0h0M95.0 248.6h0M98.0 239.2h0M113.2 241.9h0M93.0 244.4h0M110.9 243.3h0M100.1 237.8h0M86.6 254.4h0M81.9 234.5h0M108.6 238.6h0M94.1 252.9h0M106.2 246.6h0M120.2 246.3h0M118.2 247.7h0M118.3 249.1h0M124.9 240.8h0M119.2 248.6h0M136.3 242.7h0M110.7 246.0h0M143.4 255.3h0M117.2 237.5h0M137.5 245.2h0M128.1 245.3h0M123.1 236.3h0M120.8 245.4h0M138.4 248.3h0M136.0 252.5h0M144.7 248.6h0M148.1 243.2h0M291.8 243.5h0M246.6 245.6h0M278.2 244.7h0M230.1 238.7h0M224.1 252.4h0M252.9 259.8h0M221.4 255.5h0M255.3 244.4h0M235.6 245.9h0M225.2 246.7h0M225.0 253.3h0M245.1 237.5h0M243.5 253.2h0M266.7 249.1h0M253.3 259.3h0M235.7 230.5h0M357.0 253.7h0M358.7 246.6h0M393.6 246.6h0" stroke="#4257c9" stroke-width="1.9" stroke-linecap="round" fill="none"/>
<path d="M77.2 105.2h0M199.5 121.5h0M208.0 81.9h0M214.6 81.6h0M356.4 127.4h0M356.5 129.9h0M357.2 104.1h0M356.9 69.7h0M356.9 73.3h0M371.1 121.8h0" stroke="#8a09a5" stroke-width="1.9" stroke-linecap="round" fill="none"/>
<path d="M95.9 224.8h0M356.9 263.5h0M356.4 266.0h0" stroke="#f3c7b1" stroke-width="1.9" stroke-linecap="round" fill="none"/>
<path d="M96.0 251.6h0M90.9 244.9h0M84.8 245.2h0M103.0 231.5h0M113.4 243.3h0M104.7 241.4h0M88.2 242.9h0M96.7 237.6h0M122.0 246.5h0M115.0 239.1h0M133.3 243.2h0M119.7 246.9h0M120.2 249.9h0M125.4 243.7h0M143.5 238.3h0M170.2 244.1h0M89.5 261.1h0M48.5 246.2h0M150.0 273.1h0M205.4 255.3h0M211.0 247.1h0M206.7 238.6h0M214.4 255.2h0M217.3 251.2h0M203.0 245.7h0M212.7 242.9h0M231.2 239.8h0M206.6 237.9h0M200.5 241.0h0M229.0 240.4h0M245.4 249.3h0M234.3 241.5h0M228.6 240.3h0M265.7 242.8h0M224.1 236.4h0M221.0 237.6h0M222.3 249.8h0M318.1 245.5h0M356.8 250.6h0M356.7 228.9h0M356.6 218.1h0M356.8 221.4h0M372.7 251.9h0M410.9 241.2h0" stroke="#6b8df0" stroke-width="1.9" stroke-linecap="round" fill="none"/>
<path d="M209.9 115.9h3.2M211.5 114.3v3.2M211.2 122.2h3.2M212.8 120.6v3.2M204.0 140.4h3.2M205.6 138.8v3.2" stroke="#c8437b" stroke-width="0.9" fill="none"/>
<path d="M93.0 104.1h0M114.5 123.6h0M88.6 115.1h0M99.9 128.0h0M91.5 115.5h0M104.5 109.6h0M122.5 108.3h0M127.0 105.3h0M127.5 110.2h0M135.8 115.5h0M155.5 106.0h0M111.8 114.4h0M135.4 107.2h0M126.3 111.0h0M129.0 112.1h0M135.4 115.9h0M127.6 106.7h0M131.3 117.7h0M148.6 110.9h0M131.2 110.7h0M128.2 108.8h0M212.1 91.7h0M216.4 113.9h0M223.7 110.3h0M291.8 109.5h0M278.2 110.7h0M268.7 108.9h0M246.6 111.5h0M273.6 110.7h0M228.2 118.1h0M225.2 112.7h0M230.1 101.2h0M236.5 119.2h0M280.1 116.4h0M313.8 78.2h0M315.2 111.5h0M356.5 102.3h0M356.8 109.0h0M356.9 101.2h0" stroke="#fccd25" stroke-width="1.9" stroke-linecap="round" fill="none"/>
<path d="M110.6 253.3h3.2M112.2 251.7v3.2M136.8 265.2h3.2M138.4 263.6v3.2" stroke="#e46e56" stroke-width="0.9" fill="none"/>
<path d="M356.5 258.6h0" stroke="#f0cdbb" stroke-width="1.9" stroke-linecap="round" fill="none"/>
<path d="M96.0 117.6h0M105.4 123.4h0M100.4 100.7h0M101.6 110.9h0M93.1 106.5h0M87.6 116.8h0M77.6 100.4h0M90.0 115.5h0M105.6 110.0h0M117.1 108.8h0M133.4 114.2h0M129.5 111.8h0M137.7 101.1h0M109.8 107.8h0M146.7 109.7h0M112.9 107.7h0M116.9 113.5h0M132.1 115.9h0M157.9 107.9h0M127.5 118.1h0M130.4 111.6h0M135.3 116.1h0M89.5 96.7h0M99.8 127.9h0M200.0 115.2h0M203.1 99.5h0M204.8 113.4h0M211.1 112.3h0M213.3 118.9h0M234.6 99.0h0M200.8 104.8h0M223.9 123.4h0M215.1 97.5h0M222.3 109.1h0M205.3 98.9h0M207.4 104.0h0M219.9 114.5h0M278.9 111.7h0M241.3 111.2h0M220.9 117.8h0M242.6 113.5h0M261.1 113.3h0M225.3 107.4h0M266.7 115.1h0M213.4 120.6h0M356.5 121.6h0M356.6 100.3h0M356.4 114.0h0M400.0 116.8h0" stroke="#fdaf31" stroke-width="1.9" stroke-linecap="round" fill="none"/>
<path d="M55.4 117.0h3.2M57.0 115.4v3.2M58.2 116.5h3.2M59.8 114.9v3.2M369.3 111.7h3.2M370.9 110.1v3.2" stroke="#c23c81" stroke-width="0.9" fill="none"/>
<path d="M84.5 99.0h0M83.5 108.4h0M105.7 109.2h0M96.1 101.7h0M96.9 111.9h0M100.1 118.9h0M102.6 111.7h0M103.4 98.7h0M83.7 120.7h0M79.1 113.6h0M109.2 112.4h0M100.4 119.0h0M80.3 115.4h0M100.2 108.6h0M101.1 109.4h0M116.4 107.1h0M100.1 103.8h0M93.8 115.5h0M94.7 111.4h0M90.6 111.2h0M114.2 105.9h0M118.8 106.3h0M144.3 116.9h0M114.9 116.0h0M118.7 117.0h0M139.4 111.6h0M142.2 105.4h0M141.3 114.6h0M163.4 109.7h0M143.4 111.0h0M102.1 92.7h0M120.8 120.8h0M131.3 128.4h0M225.3 102.0h0M222.7 116.5h0M209.4 118.9h0M203.4 108.4h0M238.5 108.8h0M200.9 112.4h0M229.5 102.3h0M214.9 120.9h0M204.4 115.6h0M202.1 109.4h0M219.7 105.8h0M210.5 112.7h0M206.6 108.0h0M206.2 107.5h0M273.1 116.3h0M224.1 118.4h0M241.8 110.0h0M224.9 116.2h0M286.5 116.7h0M243.5 119.2h0M201.4 115.9h0M207.0 124.2h0M217.6 125.8h0M277.3 123.6h0M233.1 118.9h0M285.5 87.1h0M356.5 117.9h0M356.6 119.2h0M356.9 112.9h0M357.1 103.2h0M376.6 124.2h0M374.1 108.4h0" stroke="#fa9b3d" stroke-width="1.9" stroke-linecap="round" fill="none"/>
<path d="M115.2 257.3h3.2M116.8 255.7v3.2M198.1 258.5h3.2M199.7 256.9v3.2M204.1 253.3h3.2M205.7 251.7v3.2M231.7 255.5h3.2M233.3 253.9v3.2" stroke="#ecd3c5" stroke-width="0.9" fill="none"/>
<path d="M111.1 117.2h0M106.5 116.7h0M97.5 120.0h0M91.6 110.7h0M113.1 111.3h0M109.4 109.9h0M93.3 99.6h0M94.2 103.3h0M98.2 95.3h0M84.8 110.8h0M87.6 102.9h0M113.9 110.8h0M132.5 108.9h0M134.6 110.2h0M91.8 110.0h0M136.8 107.2h0M132.6 107.4h0M117.2 103.5h0M130.7 101.6h0M107.3 106.9h0M133.2 106.1h0M152.6 112.7h0M122.2 98.2h0M121.1 125.2h0M99.5 121.7h0M100.0 121.1h0M106.1 123.6h0M101.8 123.5h0M123.7 122.2h0M108.7 120.4h0M201.1 100.9h0M205.5 92.6h0M201.4 100.4h0M231.2 109.0h0M200.0 100.7h0M199.8 109.9h0M219.6 125.2h0M229.8 112.6h0M201.0 112.8h0M211.3 89.8h0M211.2 118.3h0M201.3 100.3h0M202.2 96.7h0M198.6 117.0h0M209.0 108.0h0M221.3 107.3h0M231.0 116.4h0M222.3 119.4h0M290.8 110.5h0M220.9 112.2h0M238.0 111.4h0M232.2 120.9h0M202.9 130.7h0M201.7 127.4h0M221.9 125.9h0M246.0 125.2h0M254.9 123.4h0M356.6 130.3h0M356.8 121.1h0M357.2 118.6h0M356.6 119.3h0M356.6 106.0h0M356.9 102.2h0M356.7 112.3h0M356.9 70.1h0M356.8 96.8h0M356.7 86.7h0M367.1 112.6h0M386.8 95.0h0M368.9 84.0h0" stroke="#f1814d" stroke-width="1.9" stroke-linecap="round" fill="none"/>
<path d="M102.9 99.9h0M102.8 112.6h0M102.4 119.0h0M89.7 100.1h0M102.1 106.8h0M89.2 98.0h0M89.5 118.7h0M111.9 113.7h0M94.4 107.9h0M103.7 90.3h0M130.2 87.1h0M96.5 90.4h0M103.6 124.3h0M92.7 125.5h0M123.7 134.4h0M128.2 71.5h0M144.8 78.2h0M209.9 105.0h0M201.3 100.4h0M198.9 119.2h0M211.9 110.2h0M213.7 97.8h0M214.7 112.5h0M217.0 115.6h0M220.7 100.9h0M222.8 113.2h0M219.2 129.3h0M216.0 116.2h0M226.0 98.9h0M356.8 107.4h0M356.5 110.6h0M356.9 86.1h0M356.7 84.9h0M402.2 97.0h0" stroke="#ce4b75" stroke-width="1.9" stroke-linecap="round" fill="none"/>
<path d="M355.3 122.1h3.2M356.9 120.5v3.2M355.2 103.2h3.2M356.8 101.6v3.2" stroke="#bb3488" stroke-width="0.9" fill="none"/>
<path d="M109.0 113.2h0M107.6 102.9h0M76.1 125.5h0M98.9 110.0h0M105.5 116.1h0M106.7 101.1h0M85.4 113.0h0M101.2 103.6h0M137.4 117.3h0M130.7 108.2h0M138.1 115.5h0M136.0 103.6h0M153.6 112.9h0M106.2 95.5h0M142.3 95.8h0M105.3 128.4h0M122.8 123.9h0M133.4 126.1h0M53.6 105.5h0M210.3 111.9h0M200.1 111.0h0M201.5 105.7h0M211.0 113.1h0M200.9 96.6h0M212.2 106.6h0M215.9 120.5h0M212.7 100.1h0M204.9 114.3h0M208.4 113.4h0M207.4 117.1h0M219.2 101.7h0M202.1 108.9h0M252.9 125.8h0M293.8 105.7h0M232.2 116.1h0M276.2 122.0h0M266.1 131.8h0M259.8 127.6h0M278.7 93.1h0M356.8 123.0h0M356.7 114.7h0M356.6 118.5h0M357.2 98.6h0M357.0 123.6h0M356.7 110.5h0M356.9 78.3h0M356.4 75.2h0" stroke="#e4695e" stroke-width="1.9" stroke-linecap="round" fill="none"/>
<path d="M107.9 245.5h0M102.4 235.4h0M135.0 250.2h0M112.2 246.4h0M202.1 244.4h0M204.9 241.4h0M295.2 248.4h0M210.4 254.1h0M223.1 273.2h0M278.6 256.6h0M356.8 257.0h0M357.4 273.9h0M357.0 261.3h0M356.6 258.4h0M366.6 248.3h0" stroke="#c73635" stroke-width="1.9" stroke-linecap="round" fill="none"/>
<path d="M255.7 120.9h3.2M257.3 119.3v3.2M285.2 150.6h3.2M286.8 149.0v3.2M208.5 135.6h3.2M210.1 134.0v3.2M367.6 145.0h3.2M369.2 143.4v3.2" stroke="#ac2694" stroke-width="0.9" fill="none"/>
<path d="M112.1 109.6h3.2M113.7 108.0v3.2M125.0 109.5h3.2M126.6 107.9v3.2M116.5 118.3h3.2M118.1 116.7v3.2M127.0 116.1h3.2M128.6 114.5v3.2M137.6 109.6h3.2M139.2 108.0v3.2M232.0 112.8h3.2M233.6 111.2v3.2M205.4 119.1h3.2M207.0 117.5v3.2" stroke="#fdc328" stroke-width="0.9" fill="none"/>
<path d="M117.3 266.9h3.2M118.9 265.3v3.2M206.0 255.9h3.2M207.6 254.3v3.2M220.4 267.5h3.2M222.0 265.9v3.2M198.0 258.6h3.2M199.6 257.0v3.2" stroke="#bd1f2d" stroke-width="0.9" fill="none"/>
<path d="M96.2 101.4h0M107.0 113.8h0M116.3 110.0h0M98.7 104.8h0M81.2 98.5h0M97.5 122.1h0M117.1 106.2h0M140.3 109.4h0M123.9 119.0h0M132.0 114.3h0M138.7 110.7h0M117.7 110.6h0M131.8 110.2h0M133.9 115.5h0M117.9 117.0h0M136.5 109.1h0M160.0 112.5h0M133.2 112.0h0M99.9 91.7h0M76.7 113.4h0M206.1 111.3h0M207.6 109.5h0M210.4 104.2h0M200.5 119.2h0M201.6 110.0h0M199.4 106.9h0M199.8 125.0h0M219.3 92.8h0M199.0 98.5h0M200.3 101.0h0M220.7 122.6h0M215.8 117.1h0M198.7 111.2h0M200.5 107.0h0M251.5 123.1h0M211.6 117.9h0M258.7 101.1h0M356.5 109.7h0M356.6 107.5h0M356.7 104.7h0M356.6 113.7h0M356.9 114.0h0M356.4 96.7h0M357.1 98.8h0M356.8 90.5h0M370.0 104.5h0M383.0 106.6h0" stroke="#ed7953" stroke-width="1.9" stroke-linecap="round" fill="none"/>
<path d="M77.0 105.5h0M94.0 106.8h0M111.1 112.1h0M80.7 105.7h0M102.3 118.7h0M101.9 108.4h0M103.7 112.2h0M96.0 113.5h0M109.2 108.6h0M107.5 114.0h0M110.9 109.3h0M95.9 104.8h0M83.8 124.7h0M132.1 113.1h0M149.0 109.7h0M158.8 111.4h0M88.7 85.6h0M99.5 76.8h0M79.4 95.9h0M120.8 89.8h0M100.2 118.2h0M116.2 125.8h0M213.7 112.4h0M201.6 102.8h0M214.4 121.2h0M220.0 101.5h0M213.7 117.3h0M202.5 118.3h0M220.8 102.3h0M226.9 112.0h0M228.7 114.6h0M207.1 109.5h0M209.3 115.8h0M203.3 111.7h0M213.1 107.8h0M202.4 114.2h0M200.9 93.3h0M211.7 103.6h0M230.1 106.5h0M253.0 101.9h0M244.6 110.2h0M220.5 110.3h0M222.2 107.6h0M201.1 127.5h0M204.7 118.6h0M261.3 124.3h0M204.7 83.1h0M222.6 93.6h0M357.1 114.4h0M356.6 119.8h0M356.9 115.6h0M357.9 97.5h0M356.7 73.1h0M358.7 103.5h0" stroke="#ed7953" stroke-width="1.9" stroke-linecap="round" fill="none"/>
<path d="M105.9 119.1h3.2M107.5 117.5v3.2M102.0 126.3h3.2M103.6 124.7v3.2M109.9 123.3h3.2M111.5 121.7v3.2M73.7 124.6h3.2M75.3 123.0v3.2M215.2 121.5h3.2M216.8 119.9v3.2M227.4 127.1h3.2M229.0 125.5v3.2" stroke="#f48948" stroke-width="0.9" fill="none"/>
<path d="M95.7 246.2h0M102.3 252.7h0M116.3 244.0h0M100.5 245.7h0M81.0 249.4h0M115.3 235.1h0M101.5 241.8h0M89.3 231.4h0M87.7 243.3h0M109.9 245.7h0M139.1 243.7h0M140.0 244.7h0M140.5 246.9h0M114.3 244.6h0M125.0 222.3h0M96.5 219.2h0M119.2 225.4h0M120.8 255.5h0M94.1 276.6h0M108.9 276.7h0M199.9 239.7h0M233.3 242.8h0M199.4 240.9h0M222.9 249.8h0M203.9 241.8h0M201.8 235.1h0M201.9 230.6h0M208.7 234.8h0M230.9 238.1h0M229.3 263.5h0M215.1 222.6h0M357.3 240.7h0M356.8 255.3h0M356.5 209.6h0M360.4 250.9h0" stroke="#86a9fc" stroke-width="1.9" stroke-linecap="round" fill="none"/>
<path d="M92.5 245.8h0M106.3 245.7h0M106.3 252.6h0M105.7 250.1h0M107.4 247.8h0M111.0 241.4h0M113.0 249.7h0M128.2 240.4h0M88.9 247.6h0M85.3 241.8h0M104.9 252.4h0M99.4 251.2h0M80.8 247.4h0M101.4 236.0h0M100.1 252.9h0M116.1 237.2h0M77.4 245.6h0M97.9 252.0h0M89.2 254.6h0M98.7 238.8h0M103.6 243.5h0M103.4 232.7h0M97.9 237.6h0M96.2 240.3h0M84.0 249.4h0M109.9 243.3h0M102.1 240.8h0M91.5 237.6h0M110.8 246.9h0M111.4 238.9h0M74.9 242.5h0M77.6 234.4h0M74.3 237.9h0M106.2 248.1h0M118.3 253.1h0M100.1 241.5h0M126.4 244.3h0M87.9 238.9h0M96.9 246.6h0M92.0 247.2h0M109.6 251.0h0M99.3 254.7h0M96.3 245.7h0M108.9 245.8h0M119.7 249.1h0M155.5 240.0h0M117.1 242.8h0M142.7 248.3h0M135.0 239.4h0M113.7 243.1h0M137.7 235.1h0M133.1 247.7h0M122.4 242.6h0M110.4 257.5h0M123.8 249.5h0M111.5 240.8h0M149.5 240.8h0M135.1 247.1h0M141.9 246.2h0M152.4 234.2h0M87.8 246.0h0M120.2 254.6h0M133.9 249.5h0M136.6 257.8h0M117.0 245.2h0M124.6 248.0h0M130.1 251.6h0M132.2 247.5h0M154.8 246.2h0M167.8 247.5h0M135.6 253.3h0M163.4 243.7h0M143.5 247.0h0M148.6 248.3h0M142.7 223.3h0M117.5 226.7h0M205.6 236.2h0M226.9 246.0h0M208.9 240.6h0M211.7 237.6h0M202.9 252.3h0M246.8 251.3h0M230.7 240.5h0M233.8 233.4h0M233.6 242.1h0M265.8 253.6h0M247.6 239.4h0M260.5 240.4h0M288.0 243.4h0M270.9 254.1h0M276.3 256.7h0M282.3 249.7h0M235.7 252.4h0M222.3 253.4h0M293.8 239.7h0M221.6 234.9h0M222.6 252.2h0M247.8 241.1h0M239.1 256.2h0M269.2 251.8h0M223.1 250.0h0M241.6 248.4h0M232.2 254.9h0M254.0 249.2h0M268.4 250.8h0M248.4 241.5h0M228.7 243.9h0M244.4 226.9h0M245.0 231.7h0M238.0 241.2h0M262.1 235.7h0M356.5 247.1h0M356.4 255.3h0M356.5 234.3h0M356.5 224.5h0M357.1 223.9h0M365.8 243.3h0M362.9 246.0h0M372.3 244.7h0M369.8 255.2h0" stroke="#516ddb" stroke-width="1.9" stroke-linecap="round" fill="none"/>
<path d="M116.6 106.9h0M105.1 103.2h0M92.7 97.7h0M118.0 104.7h0M76.2 112.8h0M123.5 115.2h0M110.5 101.5h0M99.5 104.9h0M104.0 115.8h0M86.6 120.4h0M102.4 111.9h0M114.5 103.3h0M77.6 114.4h0M131.5 108.6h0M128.7 107.4h0M104.7 107.0h0M125.0 88.3h0M94.4 84.7h0M98.1 126.3h0M87.0 124.9h0M116.2 127.8h0M99.5 127.0h0M203.9 108.8h0M205.4 111.6h0M206.7 117.6h0M206.2 105.9h0M210.0 112.0h0M222.6 105.4h0M217.2 109.8h0M214.2 103.8h0M198.7 91.0h0M215.8 104.9h0M207.3 107.1h0M208.8 106.8h0M207.1 101.1h0M224.7 113.6h0M223.7 99.6h0M231.8 101.9h0M273.7 110.1h0M232.7 110.7h0M269.7 107.4h0M272.2 119.7h0M228.5 119.4h0M283.3 112.5h0M253.7 101.9h0M213.8 129.9h0M210.2 126.2h0M216.2 120.6h0M239.4 122.3h0M260.5 124.1h0M244.4 92.9h0M240.2 103.1h0M272.0 91.2h0M357.3 90.7h0M356.6 110.4h0M356.7 111.9h0M356.8 102.1h0M356.5 112.8h0M356.7 94.9h0M384.6 114.6h0M392.5 109.6h0" stroke="#e4695e" stroke-width="1.9" stroke-linecap="round" fill="none"/>
<path d="M109.4 112.7h3.2M111.0 111.1v3.2M99.5 117.4h3.2M101.1 115.8v3.2M118.6 133.7h3.2M120.2 132.1v3.2M69.3 125.6h3.2M70.9 124.0v3.2M92.3 123.6h3.2M93.9 122.0v3.2M204.4 121.9h3.2M206.0 120.3v3.2M198.0 124.6h3.2M199.6 123.0v3.2M244.4 122.5h3.2M246.0 120.9v3.2M217.6 127.5h3.2M219.2 125.9v3.2M200.3 120.3h3.2M201.9 118.7v3.2M379.9 129.7h3.2M381.5 128.1v3.2M359.7 154.6h3.2M361.3 153.0v3.2" stroke="#0d0887" stroke-width="0.9" fill="none"/>
<path d="M109.0 125.0h3.2M110.6 123.4v3.2M116.6 121.4h3.2M118.2 119.8v3.2M221.7 148.1h3.2M223.3 146.5v3.2M355.4 117.7h3.2M357.0 116.1v3.2M359.1 126.1h3.2M360.7 124.5v3.2" stroke="#2c0594" stroke-width="0.9" fill="none"/>
<path d="M105.5 277.1h3.2M107.1 275.5v3.2M257.8 287.3h3.2M259.4 285.7v3.2M222.7 259.5h3.2M224.3 257.9v3.2" stroke="#d75445" stroke-width="0.9" fill="none"/>
<path d="M110.9 267.4h3.2M112.5 265.8v3.2M205.8 262.5h3.2M207.4 260.9v3.2" stroke="#de614d" stroke-width="0.9" fill="none"/>
<path d="M114.2 260.0h0M114.7 254.4h0M92.7 259.5h0M109.3 272.0h0M200.1 261.7h0M205.0 260.4h0M263.4 253.8h0M230.4 254.1h0" stroke="#ee8669" stroke-width="1.9" stroke-linecap="round" fill="none"/>
<path d="M105.4 257.4h0M103.8 244.8h0M101.4 250.0h0M87.5 252.1h0M93.1 243.5h0M94.3 245.2h0M86.1 241.7h0M102.3 247.4h0M105.6 240.0h0M97.2 242.9h0M83.7 235.9h0M90.4 254.9h0M96.3 236.7h0M100.4 253.0h0M108.0 248.4h0M105.3 250.3h0M102.4 246.0h0M82.1 236.8h0M71.5 249.9h0M80.5 241.4h0M98.6 247.8h0M87.5 237.2h0M135.4 237.1h0M117.4 233.8h0M152.6 236.8h0M124.2 242.2h0M148.1 248.5h0M131.3 249.1h0M133.4 257.8h0M138.9 244.9h0M111.0 242.3h0M115.6 246.3h0M122.8 246.6h0M107.6 248.2h0M134.8 250.3h0M137.4 246.0h0M125.0 250.6h0M124.7 247.7h0M138.7 244.7h0M132.6 241.4h0M128.8 247.1h0M122.1 248.8h0M111.7 240.3h0M132.5 238.9h0M127.6 244.3h0M133.1 241.4h0M138.2 247.0h0M127.8 245.2h0M128.2 242.8h0M165.4 246.3h0M108.2 254.4h0M200.2 247.2h0M207.0 236.6h0M214.4 226.1h0M200.9 244.7h0M216.5 242.4h0M225.3 248.8h0M215.4 234.0h0M202.9 230.4h0M199.9 230.5h0M203.7 227.7h0M209.0 242.0h0M212.4 235.5h0M266.6 247.8h0M227.6 244.1h0M268.2 251.1h0M219.9 248.5h0M244.9 240.8h0M269.1 244.2h0M235.9 249.7h0M291.5 251.2h0M294.9 252.7h0M272.8 255.6h0M220.1 240.1h0M239.6 255.6h0M262.6 237.4h0M250.9 245.8h0M222.8 243.8h0M230.1 235.2h0M228.8 242.2h0M228.9 241.8h0M291.3 245.6h0M223.1 235.6h0M324.0 233.3h0M302.2 242.6h0M309.4 249.8h0M264.0 259.7h0M256.4 232.5h0M356.7 250.7h0M356.7 244.1h0M356.5 230.4h0M356.4 239.8h0M356.6 247.6h0M356.6 250.4h0M356.9 220.1h0M375.6 239.9h0M364.9 241.4h0M419.6 212.2h0M434.1 232.4h0M450.1 230.4h0M402.2 231.0h0" stroke="#5a78e4" stroke-width="1.9" stroke-linecap="round" fill="none"/>
<path d="M129.4 86.1h0M137.9 123.7h0M199.9 105.7h0M228.4 102.7h0M199.2 112.1h0M254.1 128.3h0M221.7 90.9h0M356.7 129.9h0M356.6 122.3h0M357.5 117.1h0M356.5 124.6h0M356.7 70.8h0" stroke="#a31e9a" stroke-width="1.9" stroke-linecap="round" fill="none"/>
<path d="M206.2 125.6h3.2M207.8 124.0v3.2M355.6 112.9h3.2M357.2 111.3v3.2M363.4 105.7h3.2M365.0 104.1v3.2M462.9 111.5h3.2M464.6 109.9v3.2" stroke="#fccd25" stroke-width="0.9" fill="none"/>
<path d="M111.1 251.2h0M116.7 254.6h0M100.6 245.9h0M105.6 237.6h0M90.7 244.4h0M80.0 245.1h0M97.9 243.7h0M87.1 255.2h0M89.7 244.1h0M105.1 238.5h0M82.8 250.7h0M101.1 243.4h0M92.0 237.0h0M111.3 235.8h0M118.2 235.6h0M146.5 242.6h0M137.8 240.3h0M137.9 242.6h0M131.0 247.9h0M111.3 236.6h0M124.9 254.7h0M92.4 228.8h0M104.9 232.3h0M131.5 256.7h0M204.9 245.3h0M199.1 245.5h0M215.7 235.9h0M204.4 249.6h0M219.1 238.2h0M203.3 245.7h0M199.7 241.4h0M222.4 239.0h0M226.0 262.2h0M267.5 259.0h0M242.1 258.2h0M217.0 251.2h0M357.0 244.5h0M356.7 244.7h0M356.7 220.9h0M400.5 240.8h0" stroke="#86a9fc" stroke-width="1.9" stroke-linecap="round" fill="none"/>
<path d="M132.7 114.8h0M154.0 102.1h0M141.1 111.3h0M259.7 113.5h0M364.9 107.4h0M358.4 117.4h0" stroke="#f3ee27" stroke-width="1.9" stroke-linecap="round" fill="none"/>
<path d="M291.4 157.5h3.2M293.0 155.9v3.2" stroke="#a31e9a" stroke-width="0.9" fill="none"/>
<line x1="34.7" y1="118.40" x2="178.7" y2="118.40" class="d"/>
<line x1="192.4" y1="118.40" x2="336.3" y2="118.40" class="d"/>
<line x1="350.6" y1="118.40" x2="494.4" y2="118.40" class="d"/>
<line x1="34.7" y1="252.70" x2="178.7" y2="252.70" class="d"/>
<line x1="192.4" y1="252.70" x2="336.3" y2="252.70" class="d"/>
<line x1="350.6" y1="252.70" x2="494.4" y2="252.70" class="d"/>
<text x="33.0" y="72.20" text-anchor="end" class="t">1.0</text>
<text x="33.0" y="97.05" text-anchor="end" class="t">0.5</text>
<text x="33.0" y="121.90" text-anchor="end" class="t">0.0</text>
<text x="33.0" y="146.75" text-anchor="end" class="t">−0.5</text>
<text x="33.0" y="171.60" text-anchor="end" class="t">−1.0</text>
<text transform="translate(11.3,118.40) rotate(-90)" text-anchor="middle" class="t">WB [-]</text>
<text x="33.0" y="206.60" text-anchor="end" class="t">1.0</text>
<text x="33.0" y="231.40" text-anchor="end" class="t">0.5</text>
<text x="33.0" y="256.20" text-anchor="end" class="t">0.0</text>
<text x="33.0" y="281.00" text-anchor="end" class="t">−0.5</text>
<text x="33.0" y="305.80" text-anchor="end" class="t">−1.0</text>
<text transform="translate(11.3,252.70) rotate(-90)" text-anchor="middle" class="t">WB [-]</text>
<text x="79.40" y="313.00" text-anchor="end" class="t">10</text>
<text x="79.30" y="307.20" class="ts">1</text>
<text x="126.90" y="313.00" text-anchor="end" class="t">10</text>
<text x="126.80" y="307.20" class="ts">3</text>
<text x="174.40" y="313.00" text-anchor="end" class="t">10</text>
<text x="174.30" y="307.20" class="ts">5</text>
<text x="198.50" y="310.70" text-anchor="middle" class="t">0.0</text>
<text x="231.72" y="310.70" text-anchor="middle" class="t">0.2</text>
<text x="264.95" y="310.70" text-anchor="middle" class="t">0.4</text>
<text x="298.17" y="310.70" text-anchor="middle" class="t">0.6</text>
<text x="331.40" y="310.70" text-anchor="middle" class="t">0.8</text>
<text x="357.60" y="310.70" text-anchor="middle" class="t">0.0</text>
<text x="392.90" y="310.70" text-anchor="middle" class="t">0.2</text>
<text x="428.20" y="310.70" text-anchor="middle" class="t">0.4</text>
<text x="463.50" y="310.70" text-anchor="middle" class="t">0.6</text>
<text x="106.70" y="323.8" text-anchor="middle" class="t">Catchment area [km<tspan dy="-3.5" font-size="6.5">2</tspan><tspan dy="3.5">]</tspan></text>
<text x="264.35" y="325.8" text-anchor="middle" class="t">Snowfall fraction [-]</text>
<text x="422.50" y="325.8" text-anchor="middle" class="t">Glacier area fraction [-]</text>
<text x="35.00" y="63.70" class="b">(a)</text>
<text x="192.70" y="63.70" class="b">(b)</text>
<text x="350.90" y="63.70" class="b">(c)</text>
<text x="35.00" y="198.10" class="b">(d)</text>
<text x="192.70" y="198.10" class="b">(e)</text>
<text x="350.90" y="198.10" class="b">(f)</text>
<text x="264.4" y="62.6" text-anchor="middle" class="T">Full model</text>
<text x="264.5" y="185" text-anchor="middle" class="T">Full model vs CERRA-CHELSA benchmark</text>
<rect x="204.5" y="23.2" width="124.30000000000001" height="9.3" fill="url(#gp)"/>
<path d="M204.8 23.2L198.3 27.85L204.8 32.5Z" fill="#0d0887"/>
<text x="204.50" y="20.1" text-anchor="middle" class="t">−1.0</text>
<text x="235.57" y="20.1" text-anchor="middle" class="t">−0.5</text>
<text x="266.65" y="20.1" text-anchor="middle" class="t">0.0</text>
<text x="297.73" y="20.1" text-anchor="middle" class="t">0.5</text>
<text x="328.80" y="20.1" text-anchor="middle" class="t">1.0</text>
<text x="266.65" y="12.2" text-anchor="middle" class="t">KGE</text>
<rect x="207.0" y="338.6" width="118.40" height="8.80" fill="url(#gc)"/>
<path d="M207.3 338.6L201 343.0L207.3 347.4Z" fill="#b40426"/>
<path d="M325.09999999999997 338.6L331 343.0L325.09999999999997 347.4Z" fill="#3b4cc0"/>
<text x="218.84" y="355.8" text-anchor="middle" class="t">−0.2</text>
<text x="266.20" y="355.8" text-anchor="middle" class="t">0.0</text>
<text x="313.56" y="355.8" text-anchor="middle" class="t">0.2</text>
<text x="266.20" y="366.0" text-anchor="middle" class="t">KGESS</text>
<text x="394.6" y="347.6" class="t">Catchment:</text>
<text x="406.4" y="361" class="t">regulated</text>
<text x="406.4" y="373.6" class="t">unregulated</text>
<path d="M387.4 357.4h4M389.4 355.4v4" stroke="#333" stroke-width="0.7"/>
<circle cx="389.4" cy="371" r="1.9" fill="none" stroke="#333" stroke-width="0.7"/>
</svg></body></html>
